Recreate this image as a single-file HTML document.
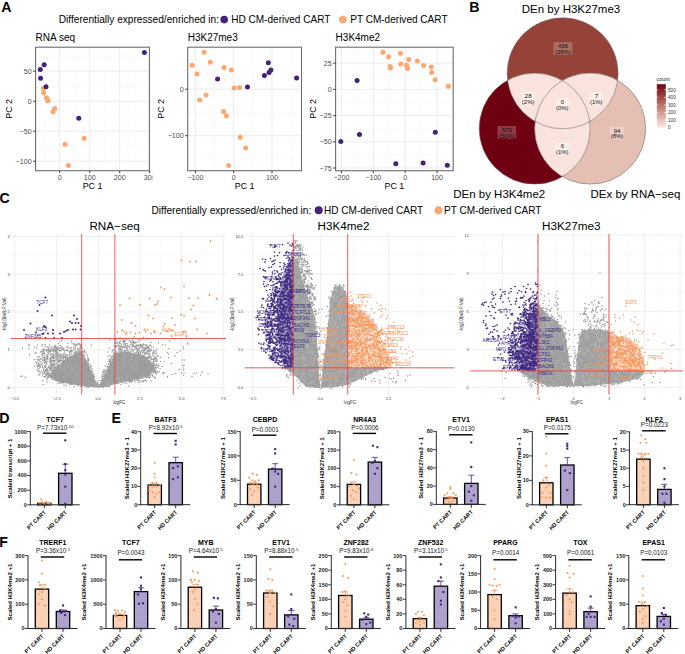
<!DOCTYPE html>
<html><head><meta charset="utf-8"><style>
html,body{margin:0;padding:0;background:#fff;}
svg{display:block;font-family:"Liberation Sans",sans-serif;}
</style></head><body>
<svg width="685" height="654" viewBox="0 0 685 654">
<rect width="685" height="654" fill="#fff"/>
<text x="1.3" y="11.9" font-size="14.2" font-weight="bold">A</text>
<text x="58.8" y="23.1" font-size="10.15">Differentially expressed/enriched in:</text>
<circle cx="224.2" cy="19.6" r="3.8" fill="#42227a"/>
<text x="231.2" y="23.1" font-size="10.05">HD CM-derived CART</text>
<circle cx="342.8" cy="19.6" r="3.8" fill="#fda66e"/>
<text x="350.2" y="23.1" font-size="10.05">PT CM-derived CART</text>
<defs><clipPath id="cA1"><rect x="35.6" y="47.2" width="113.8" height="123.5"/></clipPath></defs>
<g clip-path="url(#cA1)">
<line x1="44.7" y1="47.2" x2="44.7" y2="170.7" stroke="#f4f4f4" stroke-width="0.55"/>
<line x1="74.7" y1="47.2" x2="74.7" y2="170.7" stroke="#f4f4f4" stroke-width="0.55"/>
<line x1="104.7" y1="47.2" x2="104.7" y2="170.7" stroke="#f4f4f4" stroke-width="0.55"/>
<line x1="134.7" y1="47.2" x2="134.7" y2="170.7" stroke="#f4f4f4" stroke-width="0.55"/>
<line x1="35.6" y1="146.2" x2="149.4" y2="146.2" stroke="#f4f4f4" stroke-width="0.55"/>
<line x1="35.6" y1="116.2" x2="149.4" y2="116.2" stroke="#f4f4f4" stroke-width="0.55"/>
<line x1="35.6" y1="86.2" x2="149.4" y2="86.2" stroke="#f4f4f4" stroke-width="0.55"/>
<line x1="35.6" y1="56.2" x2="149.4" y2="56.2" stroke="#f4f4f4" stroke-width="0.55"/>
<line x1="59.7" y1="47.2" x2="59.7" y2="170.7" stroke="#ebebeb" stroke-width="0.9"/>
<line x1="89.7" y1="47.2" x2="89.7" y2="170.7" stroke="#ebebeb" stroke-width="0.9"/>
<line x1="119.7" y1="47.2" x2="119.7" y2="170.7" stroke="#ebebeb" stroke-width="0.9"/>
<line x1="149.7" y1="47.2" x2="149.7" y2="170.7" stroke="#ebebeb" stroke-width="0.9"/>
<line x1="35.6" y1="161.2" x2="149.4" y2="161.2" stroke="#ebebeb" stroke-width="0.9"/>
<line x1="35.6" y1="131.2" x2="149.4" y2="131.2" stroke="#ebebeb" stroke-width="0.9"/>
<line x1="35.6" y1="101.2" x2="149.4" y2="101.2" stroke="#ebebeb" stroke-width="0.9"/>
<line x1="35.6" y1="71.2" x2="149.4" y2="71.2" stroke="#ebebeb" stroke-width="0.9"/>
<circle cx="43.4" cy="88.6" r="2.5" fill="#fda66e"/>
<circle cx="43.7" cy="92.8" r="2.5" fill="#fda66e"/>
<circle cx="46.5" cy="97.7" r="2.5" fill="#fda66e"/>
<circle cx="47.5" cy="100.8" r="2.5" fill="#fda66e"/>
<circle cx="48.1" cy="100.5" r="2.5" fill="#fda66e"/>
<circle cx="54.7" cy="108.6" r="2.5" fill="#fda66e"/>
<circle cx="53" cy="111.8" r="2.5" fill="#fda66e"/>
<circle cx="84.1" cy="138.3" r="2.5" fill="#fda66e"/>
<circle cx="65" cy="144.3" r="2.5" fill="#fda66e"/>
<circle cx="68.4" cy="165.6" r="2.5" fill="#fda66e"/>
<circle cx="144.4" cy="52.4" r="2.5" fill="#42227a"/>
<circle cx="44.2" cy="64.7" r="2.5" fill="#42227a"/>
<circle cx="40.3" cy="69.5" r="2.5" fill="#42227a"/>
<circle cx="40.6" cy="78.3" r="2.5" fill="#42227a"/>
<circle cx="46" cy="86.7" r="2.5" fill="#42227a"/>
<circle cx="78.8" cy="118.3" r="2.5" fill="#42227a"/>
</g>
<rect x="35.6" y="47.2" width="113.8" height="123.5" fill="none" stroke="#6e6e6e" stroke-width="1.1"/>
<line x1="59.7" y1="170.7" x2="59.7" y2="173.3" stroke="#333" stroke-width="0.9"/>
<text x="59.7" y="179.9" font-size="7.1" text-anchor="middle" fill="#4d4d4d">0</text>
<line x1="89.7" y1="170.7" x2="89.7" y2="173.3" stroke="#333" stroke-width="0.9"/>
<text x="89.7" y="179.9" font-size="7.1" text-anchor="middle" fill="#4d4d4d">100</text>
<line x1="119.7" y1="170.7" x2="119.7" y2="173.3" stroke="#333" stroke-width="0.9"/>
<text x="119.7" y="179.9" font-size="7.1" text-anchor="middle" fill="#4d4d4d">200</text>
<line x1="149.7" y1="170.7" x2="149.7" y2="173.3" stroke="#333" stroke-width="0.9"/>
<text x="149.7" y="179.9" font-size="7.1" text-anchor="middle" fill="#4d4d4d">300</text>
<line x1="33" y1="161.2" x2="35.6" y2="161.2" stroke="#333" stroke-width="0.9"/>
<text x="31.6" y="163.7" font-size="7.1" text-anchor="end" fill="#4d4d4d">−100</text>
<line x1="33" y1="131.2" x2="35.6" y2="131.2" stroke="#333" stroke-width="0.9"/>
<text x="31.6" y="133.7" font-size="7.1" text-anchor="end" fill="#4d4d4d">−50</text>
<line x1="33" y1="101.2" x2="35.6" y2="101.2" stroke="#333" stroke-width="0.9"/>
<text x="31.6" y="103.7" font-size="7.1" text-anchor="end" fill="#4d4d4d">0</text>
<line x1="33" y1="71.2" x2="35.6" y2="71.2" stroke="#333" stroke-width="0.9"/>
<text x="31.6" y="73.7" font-size="7.1" text-anchor="end" fill="#4d4d4d">50</text>
<text x="35.6" y="40.6" font-size="10.0">RNA seq</text>
<text x="92.5" y="188.6" font-size="8.9" text-anchor="middle">PC 1</text>
<text transform="translate(8.9,108.9) rotate(-90)" font-size="8.9" text-anchor="middle" dy="3.2">PC 2</text>
<defs><clipPath id="cA2"><rect x="187.7" y="47.2" width="113.8" height="123.5"/></clipPath></defs>
<g clip-path="url(#cA2)">
<line x1="176.2" y1="47.2" x2="176.2" y2="170.7" stroke="#f4f4f4" stroke-width="0.55"/>
<line x1="214.5" y1="47.2" x2="214.5" y2="170.7" stroke="#f4f4f4" stroke-width="0.55"/>
<line x1="252.8" y1="47.2" x2="252.8" y2="170.7" stroke="#f4f4f4" stroke-width="0.55"/>
<line x1="291.1" y1="47.2" x2="291.1" y2="170.7" stroke="#f4f4f4" stroke-width="0.55"/>
<line x1="187.7" y1="158.9" x2="301.5" y2="158.9" stroke="#f4f4f4" stroke-width="0.55"/>
<line x1="187.7" y1="112.5" x2="301.5" y2="112.5" stroke="#f4f4f4" stroke-width="0.55"/>
<line x1="187.7" y1="66" x2="301.5" y2="66" stroke="#f4f4f4" stroke-width="0.55"/>
<line x1="195.4" y1="47.2" x2="195.4" y2="170.7" stroke="#ebebeb" stroke-width="0.9"/>
<line x1="233.7" y1="47.2" x2="233.7" y2="170.7" stroke="#ebebeb" stroke-width="0.9"/>
<line x1="272" y1="47.2" x2="272" y2="170.7" stroke="#ebebeb" stroke-width="0.9"/>
<line x1="187.7" y1="135.7" x2="301.5" y2="135.7" stroke="#ebebeb" stroke-width="0.9"/>
<line x1="187.7" y1="89.2" x2="301.5" y2="89.2" stroke="#ebebeb" stroke-width="0.9"/>
<circle cx="204.1" cy="52.3" r="2.5" fill="#fda66e"/>
<circle cx="192.1" cy="65.3" r="2.5" fill="#fda66e"/>
<circle cx="210.3" cy="62.2" r="2.5" fill="#fda66e"/>
<circle cx="197" cy="73.9" r="2.5" fill="#fda66e"/>
<circle cx="224.1" cy="67.4" r="2.5" fill="#fda66e"/>
<circle cx="231.4" cy="70" r="2.5" fill="#fda66e"/>
<circle cx="234" cy="87.9" r="2.5" fill="#fda66e"/>
<circle cx="239.4" cy="87.4" r="2.5" fill="#fda66e"/>
<circle cx="206.1" cy="94.9" r="2.5" fill="#fda66e"/>
<circle cx="199.6" cy="100.1" r="2.5" fill="#fda66e"/>
<circle cx="223.6" cy="111.6" r="2.5" fill="#fda66e"/>
<circle cx="226.4" cy="115.7" r="2.5" fill="#fda66e"/>
<circle cx="240.2" cy="137.3" r="2.5" fill="#fda66e"/>
<circle cx="245.7" cy="148" r="2.5" fill="#fda66e"/>
<circle cx="228.5" cy="165.4" r="2.5" fill="#fda66e"/>
<circle cx="217.6" cy="79.1" r="2.5" fill="#42227a"/>
<circle cx="247.5" cy="86.9" r="2.5" fill="#42227a"/>
<circle cx="268.3" cy="62.7" r="2.5" fill="#42227a"/>
<circle cx="264.4" cy="75.4" r="2.5" fill="#42227a"/>
<circle cx="269.1" cy="72.6" r="2.5" fill="#42227a"/>
<circle cx="270.9" cy="70" r="2.5" fill="#42227a"/>
<circle cx="296.6" cy="78" r="2.5" fill="#42227a"/>
</g>
<rect x="187.7" y="47.2" width="113.8" height="123.5" fill="none" stroke="#6e6e6e" stroke-width="1.1"/>
<line x1="195.4" y1="170.7" x2="195.4" y2="173.3" stroke="#333" stroke-width="0.9"/>
<text x="195.4" y="179.9" font-size="7.1" text-anchor="middle" fill="#4d4d4d">−100</text>
<line x1="233.7" y1="170.7" x2="233.7" y2="173.3" stroke="#333" stroke-width="0.9"/>
<text x="233.7" y="179.9" font-size="7.1" text-anchor="middle" fill="#4d4d4d">0</text>
<line x1="272" y1="170.7" x2="272" y2="173.3" stroke="#333" stroke-width="0.9"/>
<text x="272" y="179.9" font-size="7.1" text-anchor="middle" fill="#4d4d4d">100</text>
<line x1="185.1" y1="135.7" x2="187.7" y2="135.7" stroke="#333" stroke-width="0.9"/>
<text x="183.7" y="138.2" font-size="7.1" text-anchor="end" fill="#4d4d4d">−100</text>
<line x1="185.1" y1="89.2" x2="187.7" y2="89.2" stroke="#333" stroke-width="0.9"/>
<text x="183.7" y="91.7" font-size="7.1" text-anchor="end" fill="#4d4d4d">0</text>
<text x="187.7" y="40.6" font-size="10.0">H3K27me3</text>
<text x="244.6" y="188.6" font-size="8.9" text-anchor="middle">PC 1</text>
<text transform="translate(161,108.9) rotate(-90)" font-size="8.9" text-anchor="middle" dy="3.2">PC 2</text>
<defs><clipPath id="cA3"><rect x="335.6" y="47.2" width="117.6" height="123.5"/></clipPath></defs>
<g clip-path="url(#cA3)">
<line x1="357.3" y1="47.2" x2="357.3" y2="170.7" stroke="#f4f4f4" stroke-width="0.55"/>
<line x1="389.2" y1="47.2" x2="389.2" y2="170.7" stroke="#f4f4f4" stroke-width="0.55"/>
<line x1="421.1" y1="47.2" x2="421.1" y2="170.7" stroke="#f4f4f4" stroke-width="0.55"/>
<line x1="335.6" y1="154.9" x2="453.2" y2="154.9" stroke="#f4f4f4" stroke-width="0.55"/>
<line x1="335.6" y1="128.7" x2="453.2" y2="128.7" stroke="#f4f4f4" stroke-width="0.55"/>
<line x1="335.6" y1="102.5" x2="453.2" y2="102.5" stroke="#f4f4f4" stroke-width="0.55"/>
<line x1="335.6" y1="76.3" x2="453.2" y2="76.3" stroke="#f4f4f4" stroke-width="0.55"/>
<line x1="335.6" y1="50.1" x2="453.2" y2="50.1" stroke="#f4f4f4" stroke-width="0.55"/>
<line x1="341.4" y1="47.2" x2="341.4" y2="170.7" stroke="#ebebeb" stroke-width="0.9"/>
<line x1="373.3" y1="47.2" x2="373.3" y2="170.7" stroke="#ebebeb" stroke-width="0.9"/>
<line x1="405.2" y1="47.2" x2="405.2" y2="170.7" stroke="#ebebeb" stroke-width="0.9"/>
<line x1="437.1" y1="47.2" x2="437.1" y2="170.7" stroke="#ebebeb" stroke-width="0.9"/>
<line x1="335.6" y1="168" x2="453.2" y2="168" stroke="#ebebeb" stroke-width="0.9"/>
<line x1="335.6" y1="141.8" x2="453.2" y2="141.8" stroke="#ebebeb" stroke-width="0.9"/>
<line x1="335.6" y1="115.6" x2="453.2" y2="115.6" stroke="#ebebeb" stroke-width="0.9"/>
<line x1="335.6" y1="89.4" x2="453.2" y2="89.4" stroke="#ebebeb" stroke-width="0.9"/>
<line x1="335.6" y1="63.2" x2="453.2" y2="63.2" stroke="#ebebeb" stroke-width="0.9"/>
<circle cx="383.1" cy="52.3" r="2.5" fill="#fda66e"/>
<circle cx="388.6" cy="56.7" r="2.5" fill="#fda66e"/>
<circle cx="400.5" cy="53.3" r="2.5" fill="#fda66e"/>
<circle cx="390.1" cy="66.6" r="2.5" fill="#fda66e"/>
<circle cx="390.4" cy="68.1" r="2.5" fill="#fda66e"/>
<circle cx="400.8" cy="64" r="2.5" fill="#fda66e"/>
<circle cx="408.8" cy="59.5" r="2.5" fill="#fda66e"/>
<circle cx="417.4" cy="61.1" r="2.5" fill="#fda66e"/>
<circle cx="406.5" cy="65.3" r="2.5" fill="#fda66e"/>
<circle cx="407.5" cy="68.6" r="2.5" fill="#fda66e"/>
<circle cx="423.6" cy="65.5" r="2.5" fill="#fda66e"/>
<circle cx="431.2" cy="67.1" r="2.5" fill="#fda66e"/>
<circle cx="431.7" cy="72.5" r="2.5" fill="#fda66e"/>
<circle cx="435.1" cy="79.8" r="2.5" fill="#fda66e"/>
<circle cx="448.3" cy="86.3" r="2.5" fill="#fda66e"/>
<circle cx="357.1" cy="80.6" r="2.5" fill="#42227a"/>
<circle cx="359.5" cy="134.4" r="2.5" fill="#42227a"/>
<circle cx="340.8" cy="141.6" r="2.5" fill="#42227a"/>
<circle cx="395.8" cy="163.7" r="2.5" fill="#42227a"/>
<circle cx="423.1" cy="162.9" r="2.5" fill="#42227a"/>
<circle cx="435.3" cy="132.3" r="2.5" fill="#42227a"/>
<circle cx="447.3" cy="165.3" r="2.5" fill="#42227a"/>
</g>
<rect x="335.6" y="47.2" width="117.6" height="123.5" fill="none" stroke="#6e6e6e" stroke-width="1.1"/>
<line x1="341.4" y1="170.7" x2="341.4" y2="173.3" stroke="#333" stroke-width="0.9"/>
<text x="341.4" y="179.9" font-size="7.1" text-anchor="middle" fill="#4d4d4d">−200</text>
<line x1="373.3" y1="170.7" x2="373.3" y2="173.3" stroke="#333" stroke-width="0.9"/>
<text x="373.3" y="179.9" font-size="7.1" text-anchor="middle" fill="#4d4d4d">−100</text>
<line x1="405.2" y1="170.7" x2="405.2" y2="173.3" stroke="#333" stroke-width="0.9"/>
<text x="405.2" y="179.9" font-size="7.1" text-anchor="middle" fill="#4d4d4d">0</text>
<line x1="437.1" y1="170.7" x2="437.1" y2="173.3" stroke="#333" stroke-width="0.9"/>
<text x="437.1" y="179.9" font-size="7.1" text-anchor="middle" fill="#4d4d4d">100</text>
<line x1="333" y1="168" x2="335.6" y2="168" stroke="#333" stroke-width="0.9"/>
<text x="331.6" y="170.5" font-size="7.1" text-anchor="end" fill="#4d4d4d">−75</text>
<line x1="333" y1="141.8" x2="335.6" y2="141.8" stroke="#333" stroke-width="0.9"/>
<text x="331.6" y="144.3" font-size="7.1" text-anchor="end" fill="#4d4d4d">−50</text>
<line x1="333" y1="115.6" x2="335.6" y2="115.6" stroke="#333" stroke-width="0.9"/>
<text x="331.6" y="118.1" font-size="7.1" text-anchor="end" fill="#4d4d4d">−25</text>
<line x1="333" y1="89.4" x2="335.6" y2="89.4" stroke="#333" stroke-width="0.9"/>
<text x="331.6" y="91.9" font-size="7.1" text-anchor="end" fill="#4d4d4d">0</text>
<line x1="333" y1="63.2" x2="335.6" y2="63.2" stroke="#333" stroke-width="0.9"/>
<text x="331.6" y="65.7" font-size="7.1" text-anchor="end" fill="#4d4d4d">25</text>
<text x="335.6" y="40.6" font-size="10.0">H3K4me2</text>
<text x="394.4" y="188.6" font-size="8.9" text-anchor="middle">PC 1</text>
<text transform="translate(312.8,108.9) rotate(-90)" font-size="8.9" text-anchor="middle" dy="3.2">PC 2</text>
<rect x="152.6" y="172" width="8" height="10" fill="#fff"/>
<text x="469.2" y="11.9" font-size="14.2" font-weight="bold">B</text>
<defs><clipPath id="vT"><circle cx="562.6" cy="73.3" r="55.5"/></clipPath><clipPath id="vL"><circle cx="534.7" cy="128.6" r="55.5"/></clipPath><clipPath id="vR"><circle cx="590.2" cy="128.6" r="55.5"/></clipPath><linearGradient id="cbar" x1="0" y1="1" x2="0" y2="0"><stop offset="0" stop-color="#fbe9e3"/><stop offset="0.5" stop-color="#c0776d"/><stop offset="1" stop-color="#6f0011"/></linearGradient></defs>
<circle cx="562.6" cy="73.3" r="55.5" fill="#954339"/>
<circle cx="534.7" cy="128.6" r="55.5" fill="#6f0011"/>
<circle cx="590.2" cy="128.6" r="55.5" fill="#e6bfb4"/>
<g clip-path="url(#vT)"><circle cx="534.7" cy="128.6" r="55.5" fill="#f9e3dc"/><circle cx="590.2" cy="128.6" r="55.5" fill="#f9e3dc"/></g>
<g clip-path="url(#vL)"><circle cx="590.2" cy="128.6" r="55.5" fill="#f9e3dc"/></g>
<circle cx="562.6" cy="73.3" r="55.5" fill="none" stroke="#6a6a6a" stroke-width="0.55"/>
<circle cx="534.7" cy="128.6" r="55.5" fill="none" stroke="#6a6a6a" stroke-width="0.55"/>
<circle cx="590.2" cy="128.6" r="55.5" fill="none" stroke="#6a6a6a" stroke-width="0.55"/>
<rect x="553.5" y="42.2" width="19" height="12.6" fill="#fff" fill-opacity="0.22"/>
<text x="563" y="48" font-size="6.0" text-anchor="middle" fill="#111">436</text>
<text x="563" y="53.8" font-size="6.0" text-anchor="middle" fill="#111">(38%)</text>
<rect x="497.5" y="125.9" width="18.7" height="12.6" fill="#fff" fill-opacity="0.22"/>
<text x="506.9" y="131.7" font-size="6.0" text-anchor="middle" fill="#111">573</text>
<text x="506.9" y="137.5" font-size="6.0" text-anchor="middle" fill="#111">(50%)</text>
<rect x="610" y="126.7" width="14" height="12.6" fill="#fff" fill-opacity="0.25"/>
<text x="617" y="132.5" font-size="6.0" text-anchor="middle" fill="#111">94</text>
<text x="617" y="138.3" font-size="6.0" text-anchor="middle" fill="#111">(8%)</text>
<rect x="521.2" y="92.1" width="14" height="12.6" fill="#fff" fill-opacity="0.35"/>
<text x="528.2" y="97.9" font-size="6.0" text-anchor="middle" fill="#111">28</text>
<text x="528.2" y="103.7" font-size="6.0" text-anchor="middle" fill="#111">(2%)</text>
<rect x="589.3" y="92.1" width="14" height="12.6" fill="#fff" fill-opacity="0.35"/>
<text x="596.3" y="97.9" font-size="6.0" text-anchor="middle" fill="#111">7</text>
<text x="596.3" y="103.7" font-size="6.0" text-anchor="middle" fill="#111">(1%)</text>
<rect x="555.3" y="98.2" width="14" height="12.6" fill="#fff" fill-opacity="0.35"/>
<text x="562.3" y="104" font-size="6.0" text-anchor="middle" fill="#111">0</text>
<text x="562.3" y="109.8" font-size="6.0" text-anchor="middle" fill="#111">(0%)</text>
<rect x="555.3" y="142.4" width="14" height="12.6" fill="#fff" fill-opacity="0.35"/>
<text x="562.3" y="148.2" font-size="6.0" text-anchor="middle" fill="#111">6</text>
<text x="562.3" y="154" font-size="6.0" text-anchor="middle" fill="#111">(1%)</text>
<text x="571" y="13.2" font-size="11.5" text-anchor="middle">DEn by H3K27me3</text>
<text x="499.2" y="198" font-size="11.5" text-anchor="middle">DEn by H3K4me2</text>
<text x="635.4" y="198" font-size="11.5" text-anchor="middle">DEx by RNA−seq</text>
<rect x="656.8" y="84.2" width="9" height="43.4" fill="url(#cbar)"/>
<text x="656.6" y="81.2" font-size="5.4" fill="#1a1a1a">count</text>
<line x1="656.8" y1="127.6" x2="658.6" y2="127.6" stroke="#fff" stroke-width="0.6"/>
<line x1="664" y1="127.6" x2="665.8" y2="127.6" stroke="#fff" stroke-width="0.6"/>
<text x="668" y="129.3" font-size="4.7" fill="#333">0</text>
<line x1="656.8" y1="120" x2="658.6" y2="120" stroke="#fff" stroke-width="0.6"/>
<line x1="664" y1="120" x2="665.8" y2="120" stroke="#fff" stroke-width="0.6"/>
<text x="668" y="121.7" font-size="4.7" fill="#333">100</text>
<line x1="656.8" y1="112.5" x2="658.6" y2="112.5" stroke="#fff" stroke-width="0.6"/>
<line x1="664" y1="112.5" x2="665.8" y2="112.5" stroke="#fff" stroke-width="0.6"/>
<text x="668" y="114.2" font-size="4.7" fill="#333">200</text>
<line x1="656.8" y1="104.9" x2="658.6" y2="104.9" stroke="#fff" stroke-width="0.6"/>
<line x1="664" y1="104.9" x2="665.8" y2="104.9" stroke="#fff" stroke-width="0.6"/>
<text x="668" y="106.6" font-size="4.7" fill="#333">300</text>
<line x1="656.8" y1="97.3" x2="658.6" y2="97.3" stroke="#fff" stroke-width="0.6"/>
<line x1="664" y1="97.3" x2="665.8" y2="97.3" stroke="#fff" stroke-width="0.6"/>
<text x="668" y="99" font-size="4.7" fill="#333">400</text>
<line x1="656.8" y1="89.8" x2="658.6" y2="89.8" stroke="#fff" stroke-width="0.6"/>
<line x1="664" y1="89.8" x2="665.8" y2="89.8" stroke="#fff" stroke-width="0.6"/>
<text x="668" y="91.5" font-size="4.7" fill="#333">500</text>
<text x="-0.6" y="203.3" font-size="14.2" font-weight="bold">C</text>
<text x="151.5" y="213.8" font-size="10.1">Differentially expressed/enriched in:</text>
<circle cx="318.7" cy="210.2" r="4" fill="#42227a"/>
<text x="324" y="213.8" font-size="10.05">HD CM-derived CART</text>
<circle cx="438.5" cy="210.2" r="4" fill="#fda66e"/>
<text x="444.1" y="213.8" font-size="10.05">PT CM-derived CART</text>
<defs><clipPath id="cv1"><rect x="10.9" y="234" width="215.1" height="160.8"/></clipPath></defs>
<defs><clipPath id="cv1p"><rect x="0" y="0" width="81.7" height="338.5"/></clipPath><clipPath id="cv1o"><rect x="114.9" y="0" width="700" height="338.5"/></clipPath></defs>
<g clip-path="url(#cv1)">
<line x1="35.9" y1="234" x2="35.9" y2="394.8" stroke="#f5f5f5" stroke-width="0.5"/>
<line x1="77.5" y1="234" x2="77.5" y2="394.8" stroke="#f5f5f5" stroke-width="0.5"/>
<line x1="119.1" y1="234" x2="119.1" y2="394.8" stroke="#f5f5f5" stroke-width="0.5"/>
<line x1="160.7" y1="234" x2="160.7" y2="394.8" stroke="#f5f5f5" stroke-width="0.5"/>
<line x1="202.4" y1="234" x2="202.4" y2="394.8" stroke="#f5f5f5" stroke-width="0.5"/>
<line x1="10.9" y1="368.7" x2="226" y2="368.7" stroke="#f5f5f5" stroke-width="0.5"/>
<line x1="10.9" y1="330.9" x2="226" y2="330.9" stroke="#f5f5f5" stroke-width="0.5"/>
<line x1="10.9" y1="293.1" x2="226" y2="293.1" stroke="#f5f5f5" stroke-width="0.5"/>
<line x1="10.9" y1="255.3" x2="226" y2="255.3" stroke="#f5f5f5" stroke-width="0.5"/>
<line x1="15" y1="234" x2="15" y2="394.8" stroke="#ebebeb" stroke-width="0.8"/>
<line x1="56.7" y1="234" x2="56.7" y2="394.8" stroke="#ebebeb" stroke-width="0.8"/>
<line x1="98.3" y1="234" x2="98.3" y2="394.8" stroke="#ebebeb" stroke-width="0.8"/>
<line x1="139.9" y1="234" x2="139.9" y2="394.8" stroke="#ebebeb" stroke-width="0.8"/>
<line x1="181.6" y1="234" x2="181.6" y2="394.8" stroke="#ebebeb" stroke-width="0.8"/>
<line x1="223.2" y1="234" x2="223.2" y2="394.8" stroke="#ebebeb" stroke-width="0.8"/>
<line x1="10.9" y1="387.6" x2="226" y2="387.6" stroke="#ebebeb" stroke-width="0.8"/>
<line x1="10.9" y1="349.8" x2="226" y2="349.8" stroke="#ebebeb" stroke-width="0.8"/>
<line x1="10.9" y1="312" x2="226" y2="312" stroke="#ebebeb" stroke-width="0.8"/>
<line x1="10.9" y1="274.2" x2="226" y2="274.2" stroke="#ebebeb" stroke-width="0.8"/>
<line x1="10.9" y1="236.4" x2="226" y2="236.4" stroke="#ebebeb" stroke-width="0.8"/>
<path d="M98.3 387.6L90 368L81.6 351L67.4 357.4L56.2 367L48.2 376.7L61 382.3L80.3 385.5Z" fill="#9c9c9c" fill-opacity="0.85"/>
<path d="M98.3 387.6L90 368L81.6 351L67.4 357.4L56.2 367L48.2 376.7L61 382.3L80.3 385.5Z" fill="#fff" clip-path="url(#cv1p)"/><path d="M98.3 387.6L90 368L81.6 351L67.4 357.4L56.2 367L48.2 376.7L61 382.3L80.3 385.5Z" fill="#3f2a80" fill-opacity="0.35" clip-path="url(#cv1p)"/>
<path d="M98.3 387.6L90 368L81.6 351L67.4 357.4L56.2 367L48.2 376.7L61 382.3L80.3 385.5Z" fill="#fff" clip-path="url(#cv1o)"/><path d="M98.3 387.6L90 368L81.6 351L67.4 357.4L56.2 367L48.2 376.7L61 382.3L80.3 385.5Z" fill="#f59b62" fill-opacity="0.45" clip-path="url(#cv1o)"/>
<path d="M98.3 387.6L108 368L115.2 352.6L128.5 352.6L141.7 354.5L151.2 362.1L155 369.7L145.5 377.3L115.2 383.9L104 387Z" fill="#9c9c9c" fill-opacity="0.85"/>
<path d="M98.3 387.6L108 368L115.2 352.6L128.5 352.6L141.7 354.5L151.2 362.1L155 369.7L145.5 377.3L115.2 383.9L104 387Z" fill="#fff" clip-path="url(#cv1p)"/><path d="M98.3 387.6L108 368L115.2 352.6L128.5 352.6L141.7 354.5L151.2 362.1L155 369.7L145.5 377.3L115.2 383.9L104 387Z" fill="#3f2a80" fill-opacity="0.35" clip-path="url(#cv1p)"/>
<path d="M98.3 387.6L108 368L115.2 352.6L128.5 352.6L141.7 354.5L151.2 362.1L155 369.7L145.5 377.3L115.2 383.9L104 387Z" fill="#fff" clip-path="url(#cv1o)"/><path d="M98.3 387.6L108 368L115.2 352.6L128.5 352.6L141.7 354.5L151.2 362.1L155 369.7L145.5 377.3L115.2 383.9L104 387Z" fill="#f59b62" fill-opacity="0.45" clip-path="url(#cv1o)"/>
<path transform="scale(0.5)" d="M233 677h0m-4 2h0m18 0h0m31 0h0m-58 1h0m12 0h0m10 0h0m11 0h0m29 0h0m-159 1h0m125 0h0m1 0h0m9 0h0m7 0h0m-143 1h0m21 0h0m104 0h0m3 0h0m89 0h0m-99 1h0m9 0h0m12 0h0m17 0h0m-48 1h0m16 0h0m20 0h0m1 0h0m1 0h0m-39 1h0m5 0h0m2 0h0m10 0h0m15 0h0m3 0h0m6 0h0m1 0h0m3 0h0m28 0h0m-158 1h0m95 0h0m9 0h0m2 0h0m17 0h0m2 0h0m1 0h0m47 0h0m58 0h0m-258 1h0m19 0h0m12 0h0m10 0h0m72 0h0m3 0h0m6 0h0m2 0h0m13 0h0m-99 1h0m5 0h0m92 0h0m12 0h0m23 0h0m89 0h0m-286 1h0m58 0h0m2 0h0m8 0h0m1 0h0m101 0h0m5 0h0m17 0h0m5 0h0m38 0h0m-268 1h0m2 0h0m16 0h0m9 0h0m15 0h0m54 0h0m1 0h0m8 0h0m21 0h0m54 0h0m6 0h0m5 0h0m3 0h0m14 0h0m9 0h0m3 0h0m3 0h0m1 0h0m3 0h0m4 0h0m3 0h0m1 0h0m1 0h0m8 0h0m30 0h0m-220 1h0m10 0h0m42 0h0m70 0h0m4 0h0m18 0h0m12 0h0m9 0h0m3 0h0m1 0h0m19 0h0m1 0h0m-215 1h0m24 0h0m2 0h0m40 0h0m10 0h0m67 0h0m1 0h0m4 0h0m3 0h0m14 0h0m5 0h0m9 0h0m2 0h0m4 0h0m3 0h0m10 0h0m2 0h0m10 0h0m-204 1h0m70 0h0m68 0h0m3 0h0m1 0h0m6 0h0m1 0h0m1 0h0m2 0h0m3 0h0m10 0h0m2 0h0m7 0h0m1 0h0m1 0h0m7 0h0m7 0h0m2 0h0m-214 1h0m26 0h0m2 0h0m5 0h0m2 0h0m5 0h0m9 0h0m5 0h0m10 0h0m4 0h0m12 0h0m97 0h0m6 0h0m8 0h0m12 0h0m9 0h0m1 0h0m4 0h0m7 0h0m2 0h0m2 0h0m6 0h0m64 0h0m-256 1h0m2 0h0m23 0h0m6 0h0m98 0h0m5 0h0m4 0h0m5 0h0m16 0h0m20 0h0m17 0h0m-262 1h0m28 0h0m36 0h0m6 0h0m1 0h0m5 0h0m4 0h0m22 0h0m13 0h0m2 0h0m2 0h0m54 0h0m13 0h0m21 0h0m1 0h0m17 0h0m8 0h0m1 0h0m8 0h0m2 0h0m5 0h0m3 0h0m-239 1h0m40 0h0m5 0h0m4 0h0m20 0h0m15 0h0m9 0h0m5 0h0m4 0h0m1 0h0m76 0h0m1 0h0m2 0h0m1 0h0m12 0h0m1 0h0m9 0h0m10 0h0m12 0h0m6 0h0m6 0h0m1 0h0m1 0h0m39 0h0m-250 1h0m20 0h0m4 0h0m5 0h0m1 0h0m8 0h0m2 0h0m13 0h0m14 0h0m89 0h0m15 0h0m16 0h0m1 0h0m15 0h0m2 0h0m5 0h0m69 0h0m-281 1h0m2 0h0m7 0h0m2 0h0m2 0h0m12 0h0m3 0h0m9 0h0m12 0h0m15 0h0m8 0h0m69 0h0m13 0h0m2 0h0m24 0h0m4 0h0m4 0h0m1 0h0m15 0h0m8 0h0m1 0h0m4 0h0m10 0h0m-222 1h0m2 0h0m8 0h0m4 0h0m1 0h0m2 0h0m6 0h0m1 0h0m12 0h0m8 0h0m34 0h0m86 0h0m22 0h0m11 0h0m-201 1h0m6 0h0m7 0h0m2 0h0m3 0h0m7 0h0m2 0h0m1 0h0m4 0h0m3 0h0m8 0h0m3 0h0m2 0h0m6 0h0m3 0h0m4 0h0m13 0h0m64 0h0m19 0h0m4 0h0m5 0h0m10 0h0m16 0h0m4 0h0m1 0h0m3 0h0m3 0h0m6 0h0m1 0h0m3 0h0m2 0h0m5 0h0m-223 1h0m10 0h0m3 0h0m4 0h0m1 0h0m5 0h0m3 0h0m1 0h0m4 0h0m5 0h0m23 0h0m13 0h0m4 0h0m71 0h0m6 0h0m3 0h0m4 0h0m4 0h0m1 0h0m1 0h0m12 0h0m5 0h0m8 0h0m13 0h0m7 0h0m15 0h0m50 0h0m-278 1h0m18 0h0m2 0h0m8 0h0m28 0h0m3 0h0m3 0h0m9 0h0m5 0h0m7 0h0m3 0h0m72 0h0m3 0h0m14 0h0m17 0h0m1 0h0m4 0h0m15 0h0m3 0h0m3 0h0m-214 1h0m3 0h0m10 0h0m9 0h0m4 0h0m17 0h0m10 0h0m4 0h0m8 0h0m13 0h0m6 0h0m46 0h0m8 0h0m8 0h0m20 0h0m4 0h0m10 0h0m14 0h0m4 0h0m3 0h0m20 0h0m6 0h0m-241 1h0m10 0h0m14 0h0m18 0h0m34 0h0m6 0h0m5 0h0m3 0h0m2 0h0m4 0h0m72 0h0m2 0h0m1 0h0m5 0h0m1 0h0m4 0h0m1 0h0m5 0h0m1 0h0m1 0h0m11 0h0m4 0h0m1 0h0m4 0h0m8 0h0m3 0h0m14 0h0m29 0h0m19 0h0m-265 1h0m23 0h0m1 0h0m3 0h0m23 0h0m10 0h0m8 0h0m3 0h0m69 0h0m9 0h0m1 0h0m2 0h0m1 0h0m2 0h0m6 0h0m7 0h0m20 0h0m12 0h0m7 0h0m12 0h0m-238 1h0m15 0h0m2 0h0m15 0h0m11 0h0m1 0h0m38 0h0m1 0h0m1 0h0m1 0h0m75 0h0m5 0h0m5 0h0m2 0h0m5 0h0m1 0h0m5 0h0m17 0h0m15 0h0m7 0h0m3 0h0m4 0h0m13 0h0m-215 1h0m4 0h0m6 0h0m4 0h0m9 0h0m1 0h0m5 0h0m5 0h0m11 0h0m16 0h0m1 0h0m1 0h0m6 0h0m6 0h0m55 0h0m2 0h0m1 0h0m13 0h0m11 0h0m14 0h0m1 0h0m6 0h0m3 0h0m19 0h0m1 0h0m1 0h0m7 0h0m6 0h0m25 0h0m-278 1h0m25 0h0m5 0h0m6 0h0m10 0h0m11 0h0m6 0h0m6 0h0m3 0h0m5 0h0m6 0h0m8 0h0m4 0h0m1 0h0m74 0h0m1 0h0m3 0h0m1 0h0m1 0h0m6 0h0m2 0h0m3 0h0m12 0h0m3 0h0m12 0h0m17 0h0m2 0h0m14 0h0m-211 1h0m11 0h0m2 0h0m6 0h0m8 0h0m9 0h0m16 0h0m2 0h0m8 0h0m6 0h0m67 0h0m1 0h0m5 0h0m1 0h0m7 0h0m3 0h0m6 0h0m3 0h0m1 0h0m6 0h0m11 0h0m1 0h0m1 0h0m3 0h0m1 0h0m1 0h0m24 0h0m-203 1h0m11 0h0m4 0h0m2 0h0m15 0h0m5 0h0m12 0h0m5 0h0m8 0h0m3 0h0m8 0h0m45 0h0m11 0h0m2 0h0m4 0h0m2 0h0m1 0h0m2 0h0m4 0h0m1 0h0m1 0h0m5 0h0m1 0h0m7 0h0m6 0h0m7 0h0m2 0h0m11 0h0m28 0h0m-230 1h0m7 0h0m19 0h0m1 0h0m1 0h0m10 0h0m3 0h0m1 0h0m13 0h0m23 0h0m6 0h0m55 0h0m2 0h0m6 0h0m1 0h0m6 0h0m1 0h0m4 0h0m1 0h0m1 0h0m2 0h0m1 0h0m6 0h0m1 0h0m5 0h0m6 0h0m1 0h0m3 0h0m2 0h0m1 0h0m5 0h0m1 0h0m3 0h0m15 0h0m2 0h0m16 0h0m34 0h0m-272 1h0m7 0h0m10 0h0m9 0h0m1 0h0m2 0h0m7 0h0m1 0h0m5 0h0m9 0h0m4 0h0m8 0h0m3 0h0m6 0h0m3 0h0m1 0h0m12 0h0m50 0h0m9 0h0m1 0h0m6 0h0m2 0h0m3 0h0m3 0h0m3 0h0m10 0h0m1 0h0m4 0h0m1 0h0m2 0h0m6 0h0m3 0h0m3 0h0m2 0h0m4 0h0m1 0h0m3 0h0m1 0h0m4 0h0m1 0h0m8 0h0m3 0h0m8 0h0m8 0h0m-241 1h0m14 0h0m5 0h0m2 0h0m15 0h0m10 0h0m3 0h0m6 0h0m1 0h0m9 0h0m7 0h0m2 0h0m2 0h0m1 0h0m2 0h0m5 0h0m73 0h0m4 0h0m1 0h0m4 0h0m14 0h0m5 0h0m16 0h0m1 0h0m2 0h0m3 0h0m5 0h0m15 0h0m8 0h0m-223 1h0m7 0h0m10 0h0m3 0h0m7 0h0m13 0h0m2 0h0m6 0h0m6 0h0m1 0h0m14 0h0m67 0h0m10 0h0m6 0h0m3 0h0m1 0h0m3 0h0m8 0h0m1 0h0m1 0h0m5 0h0m5 0h0m3 0h0m6 0h0m1 0h0m2 0h0m2 0h0m10 0h0m2 0h0m1 0h0m1 0h0m1 0h0m1 0h0m1 0h0m2 0h0m12 0h0m10 0h0m16 0h0m-257 1h0m15 0h0m6 0h0m1 0h0m7 0h0m6 0h0m2 0h0m3 0h0m1 0h0m4 0h0m6 0h0m3 0h0m6 0h0m1 0h0m4 0h0m1 0h0m1 0h0m2 0h0m2 0h0m2 0h0m4 0h0m6 0h0m2 0h0m10 0h0m56 0h0m2 0h0m11 0h0m2 0h0m6 0h0m4 0h0m5 0h0m15 0h0m4 0h0m2 0h0m1 0h0m3 0h0m3 0h0m1 0h0m6 0h0m3 0h0m13 0h0m-223 1h0m1 0h0m3 0h0m7 0h0m6 0h0m2 0h0m7 0h0m6 0h0m13 0h0m17 0h0m6 0h0m3 0h0m17 0h0m60 0h0m3 0h0m4 0h0m2 0h0m2 0h0m6 0h0m4 0h0m1 0h0m3 0h0m4 0h0m2 0h0m1 0h0m9 0h0m2 0h0m4 0h0m2 0h0m5 0h0m3 0h0m8 0h0m6 0h0m2 0h0m3 0h0m-233 1h0m1 0h0m3 0h0m7 0h0m4 0h0m6 0h0m1 0h0m12 0h0m4 0h0m8 0h0m8 0h0m5 0h0m5 0h0m3 0h0m1 0h0m1 0h0m3 0h0m1 0h0m8 0h0m1 0h0m8 0h0m48 0h0m4 0h0m5 0h0m3 0h0m5 0h0m1 0h0m16 0h0m1 0h0m1 0h0m2 0h0m13 0h0m3 0h0m2 0h0m3 0h0m4 0h0m10 0h0m3 0h0m10 0h0m4 0h0m-240 1h0m6 0h0m3 0h0m9 0h0m5 0h0m4 0h0m5 0h0m22 0h0m9 0h0m7 0h0m6 0h0m1 0h0m7 0h0m3 0h0m3 0h0m2 0h0m1 0h0m1 0h0m2 0h0m1 0h0m2 0h0m2 0h0m2 0h0m5 0h0m49 0h0m5 0h0m2 0h0m7 0h0m8 0h0m1 0h0m12 0h0m7 0h0m3 0h0m5 0h0m8 0h0m1 0h0m9 0h0m9 0h0m3 0h0m3 0h0m-221 1h0m3 0h0m9 0h0m12 0h0m1 0h0m3 0h0m12 0h0m12 0h0m5 0h0m2 0h0m7 0h0m2 0h0m4 0h0m1 0h0m3 0h0m2 0h0m1 0h0m12 0h0m42 0h0m8 0h0m9 0h0m6 0h0m5 0h0m3 0h0m2 0h0m2 0h0m1 0h0m12 0h0m12 0h0m3 0h0m1 0h0m3 0h0m2 0h0m1 0h0m2 0h0m5 0h0m5 0h0m9 0h0m3 0h0m51 0h0m4 0h0m-291 1h0m8 0h0m3 0h0m13 0h0m4 0h0m1 0h0m3 0h0m5 0h0m2 0h0m3 0h0m1 0h0m2 0h0m9 0h0m3 0h0m3 0h0m6 0h0m2 0h0m6 0h0m2 0h0m9 0h0m2 0h0m4 0h0m2 0h0m58 0h0m2 0h0m2 0h0m6 0h0m2 0h0m7 0h0m5 0h0m3 0h0m1 0h0m3 0h0m7 0h0m10 0h0m2 0h0m1 0h0m2 0h0m2 0h0m1 0h0m11 0h0m2 0h0m-212 1h0m6 0h0m10 0h0m2 0h0m5 0h0m8 0h0m2 0h0m8 0h0m1 0h0m1 0h0m5 0h0m1 0h0m2 0h0m3 0h0m11 0h0m1 0h0m3 0h0m5 0h0m3 0h0m4 0h0m3 0h0m3 0h0m4 0h0m41 0h0m3 0h0m13 0h0m2 0h0m4 0h0m8 0h0m6 0h0m11 0h0m2 0h0m1 0h0m6 0h0m1 0h0m2 0h0m1 0h0m2 0h0m9 0h0m2 0h0m6 0h0m10 0h0m6 0h0m-232 1h0m13 0h0m5 0h0m3 0h0m2 0h0m3 0h0m1 0h0m8 0h0m2 0h0m2 0h0m5 0h0m6 0h0m4 0h0m5 0h0m7 0h0m5 0h0m2 0h0m2 0h0m2 0h0m8 0h0m1 0h0m7 0h0m1 0h0m45 0h0m10 0h0m5 0h0m5 0h0m3 0h0m6 0h0m2 0h0m2 0h0m2 0h0m6 0h0m1 0h0m1 0h0m10 0h0m1 0h0m3 0h0m5 0h0m2 0h0m2 0h0m1 0h0m12 0h0m9 0h0m4 0h0m9 0h0m7 0h0m-253 1h0m5 0h0m10 0h0m10 0h0m17 0h0m1 0h0m2 0h0m6 0h0m1 0h0m3 0h0m1 0h0m5 0h0m6 0h0m5 0h0m3 0h0m4 0h0m2 0h0m1 0h0m1 0h0m14 0h0m49 0h0m4 0h0m4 0h0m7 0h0m9 0h0m8 0h0m11 0h0m1 0h0m7 0h0m5 0h0m1 0h0m1 0h0m1 0h0m3 0h0m2 0h0m1 0h0m4 0h0m1 0h0m8 0h0m2 0h0m6 0h0m-234 1h0m20 0h0m15 0h0m17 0h0m13 0h0m7 0h0m3 0h0m4 0h0m6 0h0m7 0h0m1 0h0m1 0h0m4 0h0m1 0h0m1 0h0m47 0h0m5 0h0m6 0h0m6 0h0m4 0h0m20 0h0m1 0h0m2 0h0m3 0h0m9 0h0m5 0h0m1 0h0m1 0h0m6 0h0m8 0h0m9 0h0m-233 1h0m16 0h0m11 0h0m12 0h0m2 0h0m13 0h0m3 0h0m2 0h0m1 0h0m9 0h0m1 0h0m3 0h0m15 0h0m4 0h0m3 0h0m8 0h0m45 0h0m2 0h0m5 0h0m1 0h0m11 0h0m15 0h0m9 0h0m4 0h0m13 0h0m8 0h0m5 0h0m1 0h0m4 0h0m-222 1h0m8 0h0m7 0h0m10 0h0m2 0h0m4 0h0m17 0h0m5 0h0m5 0h0m4 0h0m1 0h0m2 0h0m2 0h0m4 0h0m2 0h0m3 0h0m4 0h0m3 0h0m3 0h0m1 0h0m10 0h0m44 0h0m7 0h0m9 0h0m4 0h0m1 0h0m2 0h0m3 0h0m2 0h0m7 0h0m1 0h0m6 0h0m1 0h0m9 0h0m8 0h0m2 0h0m1 0h0m1 0h0m2 0h0m2 0h0m2 0h0m1 0h0m3 0h0m7 0h0m4 0h0m5 0h0m35 0h0m-261 1h0m11 0h0m9 0h0m25 0h0m2 0h0m8 0h0m2 0h0m1 0h0m2 0h0m7 0h0m3 0h0m1 0h0m2 0h0m3 0h0m4 0h0m6 0h0m2 0h0m2 0h0m6 0h0m52 0h0m8 0h0m3 0h0m16 0h0m6 0h0m2 0h0m2 0h0m4 0h0m2 0h0m7 0h0m1 0h0m5 0h0m1 0h0m2 0h0m2 0h0m3 0h0m3 0h0m8 0h0m2 0h0m6 0h0m-234 1h0m23 0h0m3 0h0m4 0h0m1 0h0m6 0h0m1 0h0m9 0h0m1 0h0m5 0h0m9 0h0m1 0h0m5 0h0m4 0h0m3 0h0m11 0h0m9 0h0m4 0h0m39 0h0m1 0h0m6 0h0m2 0h0m1 0h0m4 0h0m7 0h0m9 0h0m3 0h0m1 0h0m1 0h0m1 0h0m2 0h0m3 0h0m3 0h0m1 0h0m4 0h0m3 0h0m7 0h0m1 0h0m5 0h0m3 0h0m1 0h0m5 0h0m1 0h0m2 0h0m2 0h0m1 0h0m2 0h0m1 0h0m4 0h0m2 0h0m-232 1h0m4 0h0m5 0h0m20 0h0m1 0h0m2 0h0m1 0h0m7 0h0m24 0h0m1 0h0m6 0h0m2 0h0m1 0h0m1 0h0m2 0h0m16 0h0m2 0h0m53 0h0m4 0h0m2 0h0m4 0h0m1 0h0m3 0h0m2 0h0m1 0h0m1 0h0m5 0h0m1 0h0m6 0h0m1 0h0m4 0h0m1 0h0m1 0h0m1 0h0m17 0h0m1 0h0m2 0h0m2 0h0m2 0h0m10 0h0m2 0h0m14 0h0m3 0h0m4 0h0m51 0h0m-279 1h0m2 0h0m12 0h0m6 0h0m7 0h0m4 0h0m1 0h0m4 0h0m21 0h0m11 0h0m4 0h0m9 0h0m1 0h0m1 0h0m1 0h0m1 0h0m1 0h0m2 0h0m34 0h0m11 0h0m8 0h0m4 0h0m1 0h0m7 0h0m2 0h0m1 0h0m5 0h0m4 0h0m2 0h0m1 0h0m1 0h0m8 0h0m4 0h0m2 0h0m5 0h0m2 0h0m5 0h0m4 0h0m1 0h0m1 0h0m2 0h0m1 0h0m3 0h0m6 0h0m3 0h0m2 0h0m7 0h0m4 0h0m48 0h0m-290 1h0m2 0h0m2 0h0m11 0h0m6 0h0m4 0h0m7 0h0m1 0h0m7 0h0m5 0h0m6 0h0m1 0h0m2 0h0m3 0h0m1 0h0m2 0h0m5 0h0m5 0h0m2 0h0m4 0h0m7 0h0m7 0h0m6 0h0m4 0h0m5 0h0m40 0h0m1 0h0m4 0h0m3 0h0m2 0h0m3 0h0m3 0h0m2 0h0m3 0h0m4 0h0m4 0h0m1 0h0m1 0h0m6 0h0m3 0h0m2 0h0m11 0h0m1 0h0m10 0h0m1 0h0m6 0h0m1 0h0m1 0h0m9 0h0m3 0h0m1 0h0m2 0h0m-240 1h0m6 0h0m4 0h0m1 0h0m5 0h0m18 0h0m6 0h0m19 0h0m2 0h0m8 0h0m3 0h0m4 0h0m11 0h0m8 0h0m1 0h0m2 0h0m4 0h0m1 0h0m3 0h0m8 0h0m31 0h0m5 0h0m11 0h0m1 0h0m2 0h0m6 0h0m2 0h0m4 0h0m11 0h0m4 0h0m7 0h0m1 0h0m10 0h0m3 0h0m3 0h0m18 0h0m2 0h0m1 0h0m3 0h0m16 0h0m-249 1h0m5 0h0m1 0h0m4 0h0m5 0h0m7 0h0m8 0h0m7 0h0m2 0h0m10 0h0m1 0h0m2 0h0m1 0h0m12 0h0m16 0h0m2 0h0m1 0h0m1 0h0m1 0h0m14 0h0m41 0h0m3 0h0m4 0h0m5 0h0m2 0h0m13 0h0m9 0h0m6 0h0m2 0h0m2 0h0m13 0h0m1 0h0m2 0h0m3 0h0m1 0h0m10 0h0m4 0h0m4 0h0m3 0h0m1 0h0m1 0h0m11 0h0m-230 1h0m5 0h0m8 0h0m1 0h0m2 0h0m4 0h0m1 0h0m4 0h0m3 0h0m12 0h0m1 0h0m1 0h0m2 0h0m9 0h0m6 0h0m4 0h0m7 0h0m1 0h0m1 0h0m1 0h0m4 0h0m3 0h0m5 0h0m5 0h0m2 0h0m1 0h0m1 0h0m36 0h0m2 0h0m3 0h0m3 0h0m3 0h0m5 0h0m4 0h0m1 0h0m16 0h0m2 0h0m11 0h0m4 0h0m6 0h0m4 0h0m1 0h0m4 0h0m1 0h0m2 0h0m3 0h0m5 0h0m1 0h0m2 0h0m4 0h0m2 0h0m5 0h0m1 0h0m2 0h0m-220 1h0m6 0h0m1 0h0m10 0h0m2 0h0m2 0h0m3 0h0m1 0h0m5 0h0m10 0h0m9 0h0m4 0h0m4 0h0m4 0h0m3 0h0m18 0h0m1 0h0m1 0h0m1 0h0m41 0h0m13 0h0m9 0h0m7 0h0m2 0h0m2 0h0m3 0h0m6 0h0m14 0h0m2 0h0m1 0h0m6 0h0m2 0h0m2 0h0m2 0h0m3 0h0m5 0h0m3 0h0m1 0h0m10 0h0m55 0h0m-289 1h0m21 0h0m2 0h0m2 0h0m3 0h0m5 0h0m2 0h0m2 0h0m1 0h0m6 0h0m6 0h0m5 0h0m2 0h0m3 0h0m1 0h0m2 0h0m6 0h0m5 0h0m1 0h0m15 0h0m1 0h0m4 0h0m11 0h0m36 0h0m11 0h0m6 0h0m1 0h0m1 0h0m3 0h0m5 0h0m5 0h0m3 0h0m1 0h0m1 0h0m2 0h0m3 0h0m12 0h0m8 0h0m13 0h0m2 0h0m4 0h0m1 0h0m1 0h0m17 0h0m-233 1h0m6 0h0m1 0h0m1 0h0m7 0h0m4 0h0m5 0h0m9 0h0m8 0h0m8 0h0m6 0h0m5 0h0m2 0h0m6 0h0m1 0h0m6 0h0m1 0h0m2 0h0m3 0h0m3 0h0m4 0h0m2 0h0m1 0h0m1 0h0m47 0h0m1 0h0m2 0h0m8 0h0m1 0h0m1 0h0m3 0h0m5 0h0m3 0h0m1 0h0m1 0h0m4 0h0m1 0h0m6 0h0m5 0h0m7 0h0m5 0h0m6 0h0m2 0h0m2 0h0m2 0h0m12 0h0m2 0h0m1 0h0m1 0h0m3 0h0m-236 1h0m15 0h0m4 0h0m15 0h0m2 0h0m1 0h0m3 0h0m2 0h0m8 0h0m14 0h0m1 0h0m10 0h0m2 0h0m2 0h0m1 0h0m8 0h0m4 0h0m3 0h0m2 0h0m6 0h0m30 0h0m7 0h0m2 0h0m1 0h0m13 0h0m9 0h0m6 0h0m8 0h0m2 0h0m4 0h0m8 0h0m1 0h0m2 0h0m5 0h0m1 0h0m3 0h0m2 0h0m4 0h0m5 0h0m1 0h0m1 0h0m2 0h0m1 0h0m1 0h0m61 0h0m1 0h0m-265 1h0m7 0h0m5 0h0m1 0h0m4 0h0m5 0h0m1 0h0m5 0h0m2 0h0m10 0h0m2 0h0m13 0h0m1 0h0m3 0h0m1 0h0m3 0h0m4 0h0m2 0h0m4 0h0m4 0h0m5 0h0m32 0h0m4 0h0m3 0h0m3 0h0m5 0h0m2 0h0m2 0h0m3 0h0m3 0h0m2 0h0m4 0h0m6 0h0m5 0h0m3 0h0m1 0h0m1 0h0m4 0h0m3 0h0m8 0h0m2 0h0m10 0h0m7 0h0m1 0h0m3 0h0m1 0h0m5 0h0m2 0h0m66 0h0m-291 1h0m11 0h0m5 0h0m3 0h0m1 0h0m3 0h0m5 0h0m2 0h0m2 0h0m3 0h0m2 0h0m3 0h0m1 0h0m2 0h0m2 0h0m1 0h0m7 0h0m1 0h0m1 0h0m3 0h0m5 0h0m17 0h0m1 0h0m5 0h0m4 0h0m2 0h0m2 0h0m1 0h0m1 0h0m1 0h0m1 0h0m6 0h0m2 0h0m32 0h0m12 0h0m1 0h0m2 0h0m4 0h0m2 0h0m1 0h0m1 0h0m3 0h0m14 0h0m4 0h0m2 0h0m10 0h0m3 0h0m2 0h0m6 0h0m1 0h0m5 0h0m16 0h0m6 0h0m1 0h0m-232 1h0m26 0h0m3 0h0m4 0h0m1 0h0m5 0h0m10 0h0m2 0h0m2 0h0m5 0h0m12 0h0m11 0h0m3 0h0m6 0h0m1 0h0m2 0h0m1 0h0m2 0h0m3 0h0m6 0h0m1 0h0m24 0h0m7 0h0m5 0h0m9 0h0m1 0h0m3 0h0m3 0h0m1 0h0m2 0h0m2 0h0m2 0h0m13 0h0m2 0h0m4 0h0m5 0h0m7 0h0m2 0h0m3 0h0m4 0h0m7 0h0m1 0h0m5 0h0m6 0h0m6 0h0m3 0h0m-222 1h0m2 0h0m1 0h0m11 0h0m2 0h0m5 0h0m6 0h0m14 0h0m5 0h0m1 0h0m2 0h0m5 0h0m2 0h0m11 0h0m3 0h0m7 0h0m1 0h0m1 0h0m10 0h0m1 0h0m28 0h0m3 0h0m7 0h0m1 0h0m4 0h0m3 0h0m1 0h0m1 0h0m2 0h0m12 0h0m7 0h0m2 0h0m4 0h0m10 0h0m3 0h0m2 0h0m1 0h0m7 0h0m3 0h0m3 0h0m7 0h0m2 0h0m2 0h0m3 0h0m3 0h0m1 0h0m5 0h0m1 0h0m2 0h0m4 0h0m5 0h0m-240 1h0m3 0h0m3 0h0m5 0h0m5 0h0m12 0h0m3 0h0m2 0h0m1 0h0m4 0h0m1 0h0m3 0h0m7 0h0m1 0h0m8 0h0m11 0h0m5 0h0m1 0h0m6 0h0m4 0h0m1 0h0m4 0h0m3 0h0m3 0h0m33 0h0m12 0h0m2 0h0m5 0h0m8 0h0m7 0h0m10 0h0m7 0h0m3 0h0m4 0h0m2 0h0m1 0h0m1 0h0m6 0h0m2 0h0m4 0h0m3 0h0m6 0h0m3 0h0m2 0h0m4 0h0m7 0h0m9 0h0m3 0h0m86 0h0m-315 1h0m7 0h0m12 0h0m7 0h0m5 0h0m2 0h0m1 0h0m9 0h0m8 0h0m1 0h0m1 0h0m1 0h0m1 0h0m1 0h0m5 0h0m2 0h0m4 0h0m1 0h0m6 0h0m12 0h0m1 0h0m8 0h0m25 0h0m7 0h0m13 0h0m3 0h0m4 0h0m4 0h0m4 0h0m3 0h0m4 0h0m3 0h0m4 0h0m3 0h0m3 0h0m5 0h0m2 0h0m8 0h0m14 0h0m3 0h0m5 0h0m10 0h0m16 0h0m2 0h0m-234 1h0m3 0h0m1 0h0m12 0h0m5 0h0m1 0h0m3 0h0m6 0h0m6 0h0m3 0h0m1 0h0m16 0h0m1 0h0m4 0h0m8 0h0m3 0h0m2 0h0m5 0h0m5 0h0m25 0h0m16 0h0m2 0h0m2 0h0m2 0h0m3 0h0m7 0h0m1 0h0m2 0h0m5 0h0m1 0h0m6 0h0m17 0h0m1 0h0m1 0h0m3 0h0m2 0h0m2 0h0m6 0h0m3 0h0m12 0h0m2 0h0m6 0h0m56 0h0m5 0h0m25 0h0m-306 1h0m3 0h0m15 0h0m4 0h0m1 0h0m2 0h0m1 0h0m5 0h0m3 0h0m10 0h0m5 0h0m7 0h0m4 0h0m4 0h0m5 0h0m3 0h0m1 0h0m1 0h0m3 0h0m5 0h0m6 0h0m1 0h0m2 0h0m1 0h0m7 0h0m25 0h0m7 0h0m1 0h0m6 0h0m3 0h0m11 0h0m1 0h0m3 0h0m4 0h0m3 0h0m1 0h0m4 0h0m7 0h0m7 0h0m4 0h0m3 0h0m2 0h0m5 0h0m4 0h0m3 0h0m6 0h0m2 0h0m1 0h0m3 0h0m9 0h0m39 0h0m38 0h0m-303 1h0m7 0h0m1 0h0m1 0h0m2 0h0m5 0h0m7 0h0m9 0h0m5 0h0m5 0h0m1 0h0m13 0h0m1 0h0m3 0h0m3 0h0m4 0h0m5 0h0m2 0h0m1 0h0m3 0h0m2 0h0m1 0h0m6 0h0m2 0h0m1 0h0m4 0h0m7 0h0m37 0h0m1 0h0m8 0h0m3 0h0m3 0h0m7 0h0m5 0h0m1 0h0m5 0h0m3 0h0m3 0h0m3 0h0m1 0h0m2 0h0m5 0h0m6 0h0m3 0h0m2 0h0m3 0h0m9 0h0m2 0h0m15 0h0m13 0h0m90 0h0m-336 1h0m16 0h0m4 0h0m6 0h0m3 0h0m2 0h0m1 0h0m2 0h0m11 0h0m2 0h0m2 0h0m11 0h0m3 0h0m3 0h0m11 0h0m5 0h0m8 0h0m1 0h0m6 0h0m6 0h0m24 0h0m3 0h0m3 0h0m6 0h0m9 0h0m3 0h0m3 0h0m3 0h0m1 0h0m1 0h0m1 0h0m3 0h0m3 0h0m1 0h0m10 0h0m3 0h0m9 0h0m6 0h0m3 0h0m2 0h0m1 0h0m17 0h0m2 0h0m44 0h0m-266 1h0m20 0h0m4 0h0m4 0h0m3 0h0m1 0h0m4 0h0m8 0h0m2 0h0m6 0h0m2 0h0m3 0h0m7 0h0m1 0h0m2 0h0m1 0h0m14 0h0m5 0h0m3 0h0m4 0h0m2 0h0m7 0h0m6 0h0m23 0h0m2 0h0m2 0h0m1 0h0m13 0h0m3 0h0m6 0h0m5 0h0m3 0h0m5 0h0m1 0h0m4 0h0m1 0h0m2 0h0m2 0h0m4 0h0m5 0h0m1 0h0m2 0h0m3 0h0m2 0h0m1 0h0m5 0h0m1 0h0m5 0h0m4 0h0m1 0h0m1 0h0m3 0h0m2 0h0m4 0h0m1 0h0m96 0h0m-309 1h0m1 0h0m4 0h0m1 0h0m7 0h0m4 0h0m1 0h0m1 0h0m6 0h0m2 0h0m1 0h0m1 0h0m2 0h0m1 0h0m2 0h0m1 0h0m8 0h0m9 0h0m13 0h0m4 0h0m8 0h0m4 0h0m4 0h0m1 0h0m32 0h0m8 0h0m1 0h0m3 0h0m14 0h0m5 0h0m1 0h0m3 0h0m4 0h0m1 0h0m1 0h0m1 0h0m6 0h0m2 0h0m1 0h0m1 0h0m2 0h0m2 0h0m2 0h0m3 0h0m2 0h0m1 0h0m14 0h0m1 0h0m4 0h0m1 0h0m1 0h0m72 0h0m-323 1h0m42 0h0m14 0h0m6 0h0m3 0h0m7 0h0m17 0h0m1 0h0m1 0h0m2 0h0m5 0h0m7 0h0m2 0h0m4 0h0m1 0h0m4 0h0m9 0h0m1 0h0m5 0h0m9 0h0m3 0h0m17 0h0m2 0h0m3 0h0m4 0h0m6 0h0m2 0h0m6 0h0m10 0h0m10 0h0m1 0h0m1 0h0m5 0h0m1 0h0m1 0h0m1 0h0m2 0h0m6 0h0m2 0h0m1 0h0m1 0h0m1 0h0m2 0h0m2 0h0m5 0h0m4 0h0m3 0h0m8 0h0m3 0h0m8 0h0m1 0h0m-264 1h0m47 0h0m10 0h0m2 0h0m3 0h0m3 0h0m2 0h0m1 0h0m4 0h0m1 0h0m2 0h0m1 0h0m2 0h0m4 0h0m8 0h0m6 0h0m4 0h0m3 0h0m12 0h0m2 0h0m11 0h0m5 0h0m6 0h0m8 0h0m19 0h0m4 0h0m3 0h0m11 0h0m4 0h0m6 0h0m2 0h0m1 0h0m1 0h0m8 0h0m1 0h0m5 0h0m6 0h0m1 0h0m8 0h0m4 0h0m6 0h0m4 0h0m52 0h0m49 0h0m-295 1h0m2 0h0m4 0h0m14 0h0m1 0h0m1 0h0m7 0h0m2 0h0m4 0h0m1 0h0m6 0h0m4 0h0m6 0h0m2 0h0m3 0h0m1 0h0m2 0h0m1 0h0m8 0h0m1 0h0m3 0h0m1 0h0m3 0h0m3 0h0m2 0h0m2 0h0m3 0h0m7 0h0m3 0h0m25 0h0m4 0h0m4 0h0m2 0h0m5 0h0m3 0h0m6 0h0m8 0h0m2 0h0m5 0h0m6 0h0m1 0h0m1 0h0m1 0h0m3 0h0m2 0h0m2 0h0m2 0h0m1 0h0m3 0h0m2 0h0m1 0h0m2 0h0m1 0h0m2 0h0m11 0h0m4 0h0m4 0h0m1 0h0m9 0h0m26 0h0m-284 1h0m46 0h0m7 0h0m5 0h0m7 0h0m1 0h0m1 0h0m2 0h0m4 0h0m3 0h0m4 0h0m1 0h0m2 0h0m4 0h0m2 0h0m2 0h0m1 0h0m19 0h0m1 0h0m4 0h0m1 0h0m11 0h0m3 0h0m3 0h0m2 0h0m17 0h0m7 0h0m4 0h0m1 0h0m1 0h0m1 0h0m1 0h0m2 0h0m7 0h0m1 0h0m15 0h0m1 0h0m5 0h0m1 0h0m9 0h0m3 0h0m1 0h0m1 0h0m9 0h0m1 0h0m5 0h0m13 0h0m6 0h0m1 0h0m9 0h0m-214 1h0m8 0h0m1 0h0m4 0h0m9 0h0m2 0h0m8 0h0m3 0h0m3 0h0m1 0h0m3 0h0m3 0h0m1 0h0m7 0h0m3 0h0m8 0h0m1 0h0m8 0h0m2 0h0m2 0h0m2 0h0m4 0h0m5 0h0m1 0h0m27 0h0m5 0h0m1 0h0m3 0h0m5 0h0m1 0h0m2 0h0m20 0h0m1 0h0m9 0h0m2 0h0m3 0h0m2 0h0m9 0h0m3 0h0m3 0h0m18 0h0m13 0h0m-201 1h0m2 0h0m3 0h0m1 0h0m2 0h0m1 0h0m8 0h0m7 0h0m8 0h0m1 0h0m2 0h0m1 0h0m5 0h0m1 0h0m7 0h0m1 0h0m2 0h0m4 0h0m5 0h0m4 0h0m4 0h0m6 0h0m1 0h0m2 0h0m22 0h0m4 0h0m1 0h0m1 0h0m5 0h0m7 0h0m4 0h0m10 0h0m3 0h0m7 0h0m5 0h0m4 0h0m6 0h0m5 0h0m10 0h0m4 0h0m-176 1h0m1 0h0m3 0h0m2 0h0m1 0h0m4 0h0m1 0h0m4 0h0m9 0h0m1 0h0m9 0h0m5 0h0m3 0h0m9 0h0m3 0h0m7 0h0m1 0h0m2 0h0m1 0h0m1 0h0m1 0h0m3 0h0m4 0h0m3 0h0m17 0h0m8 0h0m2 0h0m4 0h0m1 0h0m7 0h0m5 0h0m12 0h0m1 0h0m4 0h0m2 0h0m2 0h0m1 0h0m6 0h0m1 0h0m2 0h0m2 0h0m8 0h0m4 0h0m-183 1h0m11 0h0m4 0h0m3 0h0m1 0h0m1 0h0m3 0h0m3 0h0m4 0h0m1 0h0m7 0h0m6 0h0m2 0h0m13 0h0m17 0h0m2 0h0m4 0h0m1 0h0m2 0h0m1 0h0m1 0h0m25 0h0m3 0h0m2 0h0m2 0h0m9 0h0m1 0h0m2 0h0m2 0h0m4 0h0m8 0h0m1 0h0m1 0h0m15 0h0m3 0h0m2 0h0m13 0h0m1 0h0m2 0h0m14 0h0m-181 1h0m4 0h0m9 0h0m12 0h0m17 0h0m2 0h0m1 0h0m5 0h0m6 0h0m1 0h0m4 0h0m1 0h0m6 0h0m1 0h0m2 0h0m2 0h0m2 0h0m20 0h0m3 0h0m6 0h0m12 0h0m1 0h0m1 0h0m6 0h0m10 0h0m13 0h0m4 0h0m7 0h0m2 0h0m-185 1h0m27 0h0m5 0h0m1 0h0m1 0h0m1 0h0m8 0h0m1 0h0m2 0h0m2 0h0m3 0h0m1 0h0m2 0h0m4 0h0m7 0h0m2 0h0m1 0h0m3 0h0m3 0h0m6 0h0m7 0h0m3 0h0m6 0h0m8 0h0m11 0h0m3 0h0m3 0h0m1 0h0m1 0h0m2 0h0m3 0h0m3 0h0m1 0h0m8 0h0m9 0h0m6 0h0m12 0h0m9 0h0m1 0h0m1 0h0m15 0h0m12 0h0m-176 1h0m4 0h0m3 0h0m1 0h0m2 0h0m2 0h0m5 0h0m10 0h0m2 0h0m1 0h0m14 0h0m12 0h0m1 0h0m4 0h0m6 0h0m5 0h0m3 0h0m1 0h0m19 0h0m3 0h0m2 0h0m3 0h0m14 0h0m2 0h0m18 0h0m1 0h0m2 0h0m3 0h0m1 0h0m7 0h0m11 0h0m6 0h0m5 0h0m6 0h0m9 0h0m-181 1h0m5 0h0m3 0h0m6 0h0m2 0h0m5 0h0m4 0h0m2 0h0m1 0h0m19 0h0m2 0h0m1 0h0m1 0h0m2 0h0m9 0h0m1 0h0m3 0h0m8 0h0m19 0h0m7 0h0m2 0h0m5 0h0m4 0h0m2 0h0m1 0h0m1 0h0m4 0h0m1 0h0m10 0h0m10 0h0m3 0h0m21 0h0m2 0h0m-193 1h0m24 0h0m10 0h0m6 0h0m1 0h0m4 0h0m2 0h0m4 0h0m2 0h0m10 0h0m4 0h0m4 0h0m2 0h0m13 0h0m2 0h0m2 0h0m10 0h0m13 0h0m8 0h0m5 0h0m2 0h0m1 0h0m2 0h0m2 0h0m1 0h0m1 0h0m3 0h0m3 0h0m1 0h0m23 0h0m11 0h0m-150 1h0m2 0h0m2 0h0m4 0h0m10 0h0m16 0h0m1 0h0m9 0h0m3 0h0m2 0h0m3 0h0m2 0h0m2 0h0m1 0h0m10 0h0m17 0h0m1 0h0m2 0h0m9 0h0m3 0h0m1 0h0m7 0h0m6 0h0m1 0h0m1 0h0m9 0h0m34 0h0m-157 1h0m5 0h0m7 0h0m6 0h0m2 0h0m1 0h0m1 0h0m5 0h0m5 0h0m1 0h0m16 0h0m2 0h0m2 0h0m2 0h0m2 0h0m1 0h0m1 0h0m2 0h0m1 0h0m8 0h0m10 0h0m4 0h0m6 0h0m11 0h0m2 0h0m3 0h0m21 0h0m-132 1h0m40 0h0m1 0h0m2 0h0m1 0h0m1 0h0m1 0h0m1 0h0m5 0h0m1 0h0m3 0h0m15 0h0m8 0h0m11 0h0m2 0h0m2 0h0m9 0h0m1 0h0m1 0h0m6 0h0m7 0h0m2 0h0m17 0h0m-114 1h0m2 0h0m1 0h0m3 0h0m8 0h0m3 0h0m1 0h0m3 0h0m4 0h0m1 0h0m3 0h0m14 0h0m10 0h0m3 0h0m10 0h0m15 0h0m-134 1h0m58 0h0m6 0h0m3 0h0m11 0h0m1 0h0m3 0h0m2 0h0m4 0h0m1 0h0m6 0h0m16 0h0m1 0h0m14 0h0m10 0h0m2 0h0m18 0h0m-114 1h0m28 0h0m1 0h0m12 0h0m9 0h0m7 0h0m1 0h0m1 0h0m4 0h0m2 0h0m8 0h0m2 0h0m10 0h0m-80 1h0m24 0h0m14 0h0m3 0h0m1 0h0m9 0h0m1 0h0m15 0h0m6 0h0m2 0h0m11 0h0m-51 1h0m6 0h0m5 0h0m1 0h0m3 0h0m14 0h0m14 0h0m46 0h0m-109 1h0m13 0h0m1 0h0m1 0h0m13 0h0m11 0h0m7 0h0m2 0h0m2 0h0m4 0h0m2 0h0m9 0h0m3 0h0m3 0h0m-47 1h0m16 0h0m1 0h0m8 0h0m-20 1h0m29 0h0" stroke="#9c9c9c" stroke-width="3" stroke-linecap="round" fill="none"/>
<path transform="scale(0.5)" d="M91 595h0m-12 15h0m-4 12h0m29 9h0m44 0h0m6 7h0m-14 5h0m4 3h0m7 0h0m6 0h0m-96 1h0m27 5h0m74 0h0m-71 2h0m55 5h0m5 0h0m10 0h0m-113 1h0m58 0h0m30 0h0m-4 2h0m-4 2h0m-56 1h0m15 2h0m9 0h0m10 0h0m14 0h0m-35 1h0m6 8h0m17 0h0m16 0h0" stroke="#3f2a80" stroke-width="4" stroke-linecap="round" fill="none"/>
<path transform="scale(0.5)" d="M421 482h0m-58 39h0m17 2h0m12 0h0m-24 50h0m-46 2h0m7 3h0m90 11h0m0 1h0m-77 5h0m36 1h0m18 0h0m-137 1h0m40 0h0m135 0h0m-1 1h0m-117 5h0m-2 5h0m-74 2h0m40 0h0m30 0h0m77 1h0m-5 8h0m-20 10h0m-65 2h0m71 0h0m-24 5h0m-38 1h0m84 0h0m-146 3h0m19 6h0m66 2h0m21 2h0m-79 2h0m56 1h0m-38 6h0m6 0h0m99 0h0m-150 1h0m98 0h0m4 1h0m-38 1h0m25 0h0m-85 1h0m43 0h0m44 0h0m31 0h0m4 0h0m-135 1h0m18 1h0m8 0h0m18 0h0m31 0h0m-39 2h0m31 0h0m19 0h0m93 0h0m-162 2h0m91 3h0m30 1h0m-105 1h0m19 1h0m-47 1h0m55 1h0m54 0h0" stroke="#f59b62" stroke-width="3.8" stroke-linecap="round" fill="none"/>
<text x="36.3" y="304" font-size="4.7" fill="#3b2a85">TCF7</text>
<text x="36" y="330.5" font-size="4.7" fill="#3b2a85">KLF3</text>
<text x="24.5" y="337.5" font-size="4.7" fill="#3b2a85">ZNF385</text>
<text x="162" y="332" font-size="4.7" fill="#f0955a">HLF</text>
<text x="174.6" y="336" font-size="4.7" fill="#f0955a">EGR3</text>
<line x1="81.7" y1="234" x2="81.7" y2="394.8" stroke="#e8403f" stroke-width="0.85"/>
<line x1="114.9" y1="234" x2="114.9" y2="394.8" stroke="#e8403f" stroke-width="0.85"/>
<line x1="10.9" y1="338.5" x2="226" y2="338.5" stroke="#e8403f" stroke-width="0.85"/>
</g>
<text x="15" y="400" font-size="4.0" text-anchor="middle" fill="#444">−5.0</text>
<text x="56.7" y="400" font-size="4.0" text-anchor="middle" fill="#444">−2.5</text>
<text x="98.3" y="400" font-size="4.0" text-anchor="middle" fill="#444">0.0</text>
<text x="139.9" y="400" font-size="4.0" text-anchor="middle" fill="#444">2.5</text>
<text x="181.6" y="400" font-size="4.0" text-anchor="middle" fill="#444">5.0</text>
<text x="223.2" y="400" font-size="4.0" text-anchor="middle" fill="#444">7.5</text>
<text x="9.7" y="389" font-size="4.0" text-anchor="end" fill="#444">0</text>
<text x="9.7" y="351.2" font-size="4.0" text-anchor="end" fill="#444">1</text>
<text x="9.7" y="313.4" font-size="4.0" text-anchor="end" fill="#444">2</text>
<text x="9.7" y="275.6" font-size="4.0" text-anchor="end" fill="#444">3</text>
<text x="9.7" y="237.8" font-size="4.0" text-anchor="end" fill="#444">4</text>
<text x="89.4" y="229.8" font-size="11.7">RNA−seq</text>
<text x="119.3" y="403.6" font-size="4.6" text-anchor="middle" fill="#333">logFC</text>
<text transform="translate(6,314.3) rotate(-90)" font-size="4.7" text-anchor="middle" fill="#222">-log10(adj.P.Val)</text>
<defs><clipPath id="cv2"><rect x="244.4" y="234" width="210.4" height="160.8"/></clipPath></defs>
<defs><clipPath id="cv2p"><rect x="0" y="0" width="293.3" height="367.8"/></clipPath><clipPath id="cv2o"><rect x="347.7" y="0" width="700" height="367.8"/></clipPath></defs>
<g clip-path="url(#cv2)">
<line x1="218.5" y1="234" x2="218.5" y2="394.8" stroke="#f5f5f5" stroke-width="0.5"/>
<line x1="286.5" y1="234" x2="286.5" y2="394.8" stroke="#f5f5f5" stroke-width="0.5"/>
<line x1="354.5" y1="234" x2="354.5" y2="394.8" stroke="#f5f5f5" stroke-width="0.5"/>
<line x1="422.5" y1="234" x2="422.5" y2="394.8" stroke="#f5f5f5" stroke-width="0.5"/>
<line x1="244.4" y1="368.5" x2="454.8" y2="368.5" stroke="#f5f5f5" stroke-width="0.5"/>
<line x1="244.4" y1="330.8" x2="454.8" y2="330.8" stroke="#f5f5f5" stroke-width="0.5"/>
<line x1="244.4" y1="293" x2="454.8" y2="293" stroke="#f5f5f5" stroke-width="0.5"/>
<line x1="244.4" y1="255.3" x2="454.8" y2="255.3" stroke="#f5f5f5" stroke-width="0.5"/>
<line x1="184.5" y1="234" x2="184.5" y2="394.8" stroke="#ebebeb" stroke-width="0.8"/>
<line x1="252.5" y1="234" x2="252.5" y2="394.8" stroke="#ebebeb" stroke-width="0.8"/>
<line x1="320.5" y1="234" x2="320.5" y2="394.8" stroke="#ebebeb" stroke-width="0.8"/>
<line x1="388.5" y1="234" x2="388.5" y2="394.8" stroke="#ebebeb" stroke-width="0.8"/>
<line x1="456.5" y1="234" x2="456.5" y2="394.8" stroke="#ebebeb" stroke-width="0.8"/>
<line x1="244.4" y1="387.4" x2="454.8" y2="387.4" stroke="#ebebeb" stroke-width="0.8"/>
<line x1="244.4" y1="349.6" x2="454.8" y2="349.6" stroke="#ebebeb" stroke-width="0.8"/>
<line x1="244.4" y1="311.9" x2="454.8" y2="311.9" stroke="#ebebeb" stroke-width="0.8"/>
<line x1="244.4" y1="274.1" x2="454.8" y2="274.1" stroke="#ebebeb" stroke-width="0.8"/>
<line x1="244.4" y1="236.4" x2="454.8" y2="236.4" stroke="#ebebeb" stroke-width="0.8"/>
<path d="M285 368L279 350L277 320L279 290L285 268L293 255L298 262L303.7 284L311 305L315.5 318L317.5 350L319.5 382L320.3 388L305 386L294.2 375L288 370Z" fill="#9c9c9c" fill-opacity="0.8"/>
<path d="M285 368L279 350L277 320L279 290L285 268L293 255L298 262L303.7 284L311 305L315.5 318L317.5 350L319.5 382L320.3 388L305 386L294.2 375L288 370Z" fill="#fff" clip-path="url(#cv2p)"/><path d="M285 368L279 350L277 320L279 290L285 268L293 255L298 262L303.7 284L311 305L315.5 318L317.5 350L319.5 382L320.3 388L305 386L294.2 375L288 370Z" fill="#3f2a80" fill-opacity="0.45" clip-path="url(#cv2p)"/>
<path d="M285 368L279 350L277 320L279 290L285 268L293 255L298 262L303.7 284L311 305L315.5 318L317.5 350L319.5 382L320.3 388L305 386L294.2 375L288 370Z" fill="#fff" clip-path="url(#cv2o)"/><path d="M285 368L279 350L277 320L279 290L285 268L293 255L298 262L303.7 284L311 305L315.5 318L317.5 350L319.5 382L320.3 388L305 386L294.2 375L288 370Z" fill="#f59b62" fill-opacity="0.38" clip-path="url(#cv2o)"/>
<path d="M322.6 370L325 350L327.4 334.7L330 300L334 287L340 285L346 292L347.7 302.5L358.2 308.2L369.7 317.8L377.4 327.4L383 346.5L393.4 363L388 368.5L373.3 372L360 379L347.7 384.7L335 387L321 388Z" fill="#9c9c9c" fill-opacity="0.8"/>
<path d="M322.6 370L325 350L327.4 334.7L330 300L334 287L340 285L346 292L347.7 302.5L358.2 308.2L369.7 317.8L377.4 327.4L383 346.5L393.4 363L388 368.5L373.3 372L360 379L347.7 384.7L335 387L321 388Z" fill="#fff" clip-path="url(#cv2p)"/><path d="M322.6 370L325 350L327.4 334.7L330 300L334 287L340 285L346 292L347.7 302.5L358.2 308.2L369.7 317.8L377.4 327.4L383 346.5L393.4 363L388 368.5L373.3 372L360 379L347.7 384.7L335 387L321 388Z" fill="#3f2a80" fill-opacity="0.45" clip-path="url(#cv2p)"/>
<path d="M322.6 370L325 350L327.4 334.7L330 300L334 287L340 285L346 292L347.7 302.5L358.2 308.2L369.7 317.8L377.4 327.4L383 346.5L393.4 363L388 368.5L373.3 372L360 379L347.7 384.7L335 387L321 388Z" fill="#fff" clip-path="url(#cv2o)"/><path d="M322.6 370L325 350L327.4 334.7L330 300L334 287L340 285L346 292L347.7 302.5L358.2 308.2L369.7 317.8L377.4 327.4L383 346.5L393.4 363L388 368.5L373.3 372L360 379L347.7 384.7L335 387L321 388Z" fill="#f59b62" fill-opacity="0.38" clip-path="url(#cv2o)"/>
<path transform="scale(0.5)" d="M587 481h0m4 0h0m3 1h0m-3 2h0m-2 2h0m3 2h0m6 1h0m-11 1h0m8 0h0m8 0h0m-6 1h0m3 0h0m-13 1h0m1 0h0m4 0h0m1 0h0m2 0h0m3 0h0m2 0h0m-11 1h0m4 0h0m-5 1h0m3 0h0m4 0h0m11 0h0m-18 1h0m13 0h0m-11 1h0m7 0h0m3 0h0m-8 1h0m10 0h0m-2 1h0m1 0h0m-13 1h0m17 0h0m-16 1h0m10 0h0m-11 1h0m6 0h0m2 0h0m4 0h0m4 1h0m-10 4h0m5 0h0m1 0h0m-12 1h0m5 0h0m12 0h0m1 0h0m-17 1h0m16 0h0m-16 1h0m5 0h0m8 0h0m5 0h0m-7 1h0m8 0h0m1 0h0m4 0h0m-26 1h0m10 0h0m11 0h0m-17 1h0m8 1h0m2 0h0m-9 1h0m4 0h0m5 0h0m-4 2h0m8 0h0m-18 1h0m9 0h0m6 0h0m-2 1h0m9 0h0m-16 1h0m1 0h0m5 0h0m5 0h0m4 0h0m-21 1h0m8 0h0m8 0h0m5 0h0m-20 1h0m11 0h0m10 0h0m-17 1h0m19 0h0m-18 1h0m4 0h0m17 0h0m-27 1h0m17 0h0m3 0h0m7 0h0m1 0h0m-28 1h0m3 0h0m4 0h0m5 0h0m5 0h0m6 0h0m-17 1h0m2 0h0m2 0h0m7 0h0m-17 1h0m28 0h0m1 0h0m-26 1h0m11 1h0m5 0h0m8 0h0m-27 1h0m8 0h0m2 0h0m7 0h0m3 0h0m4 0h0m-24 2h0m17 0h0m4 0h0m-20 1h0m9 0h0m7 0h0m11 0h0m4 0h0m-27 1h0m1 0h0m21 0h0m-27 1h0m15 0h0m-4 1h0m16 0h0m-23 1h0m1 0h0m1 0h0m4 0h0m7 0h0m-16 1h0m2 0h0m7 0h0m-6 1h0m9 0h0m2 0h0m1 0h0m-11 1h0m27 0h0m-21 1h0m1 0h0m6 0h0m4 0h0m5 0h0m2 0h0m2 0h0m4 0h0m-32 1h0m3 0h0m12 0h0m8 0h0m-24 1h0m2 0h0m20 0h0m1 0h0m2 0h0m3 0h0m-23 1h0m5 0h0m2 0h0m2 0h0m2 0h0m13 0h0m-30 1h0m13 0h0m17 0h0m-18 1h0m1 0h0m3 0h0m10 0h0m4 0h0m-28 1h0m9 0h0m15 0h0m1 0h0m9 0h0m-36 1h0m4 0h0m1 0h0m14 0h0m2 0h0m1 0h0m10 0h0m1 0h0m3 0h0m-35 1h0m1 0h0m3 0h0m-4 1h0m5 0h0m3 0h0m-2 1h0m1 0h0m11 0h0m3 0h0m7 0h0m-27 1h0m6 0h0m2 0h0m2 0h0m11 0h0m-23 1h0m5 0h0m13 0h0m3 0h0m-11 1h0m-10 1h0m5 0h0m2 0h0m6 0h0m11 0h0m9 0h0m-29 1h0m31 0h0m-28 1h0m3 0h0m1 0h0m11 0h0m-2 1h0m1 0h0m3 0h0m11 0h0m1 0h0m-33 1h0m6 0h0m-9 1h0m19 0h0m3 0h0m-22 2h0m6 0h0m5 0h0m8 0h0m10 0h0m-27 1h0m4 0h0m9 0h0m1 0h0m5 0h0m-20 1h0m1 0h0m19 0h0m-8 1h0m4 0h0m4 0h0m1 0h0m-18 1h0m30 0h0m-34 1h0m5 0h0m11 0h0m4 0h0m13 0h0m-33 1h0m1 0h0m1 0h0m1 0h0m2 0h0m22 0h0m-28 1h0m37 0h0m55 0h0m-78 1h0m4 0h0m17 0h0m50 0h0m15 0h0m-98 1h0m8 0h0m10 0h0m1 0h0m3 0h0m1 0h0m2 0h0m2 0h0m7 0h0m2 0h0m7 0h0m38 0h0m-74 1h0m3 0h0m1 0h0m3 0h0m2 0h0m6 0h0m6 0h0m1 0h0m7 0h0m57 0h0m6 0h0m-101 1h0m1 0h0m3 0h0m7 0h0m2 0h0m2 0h0m4 0h0m9 0h0m-19 1h0m7 0h0m10 0h0m6 0h0m3 0h0m47 0h0m-81 1h0m26 0h0m4 0h0m3 0h0m8 0h0m47 0h0m10 0h0m-80 1h0m11 0h0m6 0h0m2 0h0m44 0h0m6 0h0m4 0h0m-87 1h0m12 0h0m4 0h0m69 0h0m-81 1h0m4 0h0m4 0h0m11 0h0m2 0h0m10 0h0m1 0h0m-20 1h0m7 0h0m64 0h0m7 0h0m-94 1h0m13 0h0m10 0h0m6 0h0m55 0h0m-86 1h0m2 0h0m6 0h0m2 0h0m6 0h0m13 0h0m-30 1h0m8 0h0m4 0h0m11 0h0m2 0h0m63 0h0m-84 1h0m11 0h0m59 0h0m4 0h0m11 0h0m13 0h0m-101 1h0m14 0h0m2 0h0m11 0h0m5 0h0m46 0h0m3 0h0m4 0h0m9 0h0m-89 1h0m9 0h0m5 0h0m9 0h0m1 0h0m46 0h0m10 0h0m7 0h0m7 0h0m-102 1h0m15 0h0m9 0h0m4 0h0m56 0h0m-68 1h0m1 0h0m5 0h0m7 0h0m1 0h0m7 0h0m1 0h0m40 0h0m6 0h0m5 0h0m4 0h0m8 0h0m-92 1h0m3 0h0m5 0h0m3 0h0m12 0h0m1 0h0m46 0h0m1 0h0m11 0h0m9 0h0m8 0h0m-103 1h0m11 0h0m8 0h0m2 0h0m3 0h0m10 0h0m63 0h0m-100 1h0m6 0h0m3 0h0m1 0h0m8 0h0m4 0h0m1 0h0m13 0h0m1 0h0m48 0h0m16 0h0m-103 1h0m4 0h0m9 0h0m24 0h0m48 0h0m6 0h0m5 0h0m-86 1h0m3 0h0m2 0h0m3 0h0m3 0h0m74 0h0m4 0h0m1 0h0m4 0h0m-102 1h0m12 0h0m2 0h0m3 0h0m15 0h0m51 0h0m8 0h0m3 0h0m-93 1h0m24 0h0m1 0h0m12 0h0m1 0h0m2 0h0m28 0h0m20 0h0m2 0h0m5 0h0m6 0h0m-104 1h0m18 0h0m5 0h0m9 0h0m52 0h0m-77 1h0m4 0h0m2 0h0m6 0h0m2 0h0m1 0h0m2 0h0m8 0h0m2 0h0m9 0h0m28 0h0m18 0h0m5 0h0m2 0h0m-90 1h0m12 0h0m9 0h0m9 0h0m7 0h0m31 0h0m4 0h0m18 0h0m8 0h0m-92 1h0m11 0h0m1 0h0m17 0h0m3 0h0m30 0h0m17 0h0m-80 1h0m3 0h0m1 0h0m9 0h0m11 0h0m9 0h0m32 0h0m14 0h0m1 0h0m12 0h0m1 0h0m-102 1h0m4 0h0m10 0h0m11 0h0m14 0h0m59 0h0m-94 1h0m3 0h0m4 0h0m9 0h0m6 0h0m1 0h0m54 0h0m6 0h0m-75 1h0m5 0h0m12 0h0m67 0h0m1 0h0m3 0h0m-102 1h0m6 0h0m1 0h0m6 0h0m1 0h0m8 0h0m1 0h0m52 0h0m2 0h0m13 0h0m-87 1h0m3 0h0m3 0h0m2 0h0m10 0h0m13 0h0m2 0h0m2 0h0m45 0h0m19 0h0m5 0h0m-103 1h0m31 0h0m53 0h0m-87 1h0m9 0h0m14 0h0m8 0h0m4 0h0m37 0h0m6 0h0m2 0h0m13 0h0m8 0h0m3 0h0m-100 1h0m5 0h0m1 0h0m1 0h0m1 0h0m1 0h0m3 0h0m12 0h0m9 0h0m47 0h0m15 0h0m8 0h0m-108 1h0m29 0h0m4 0h0m1 0h0m1 0h0m47 0h0m4 0h0m1 0h0m10 0h0m-91 1h0m2 0h0m5 0h0m28 0h0m41 0h0m3 0h0m11 0h0m-94 1h0m4 0h0m8 0h0m2 0h0m23 0h0m40 0h0m2 0h0m1 0h0m2 0h0m19 0h0m4 0h0m-92 1h0m2 0h0m15 0h0m45 0h0m5 0h0m2 0h0m21 0h0m-91 1h0m7 0h0m5 0h0m5 0h0m6 0h0m51 0h0m13 0h0m2 0h0m4 0h0m-99 1h0m3 0h0m5 0h0m52 0h0m7 0h0m5 0h0m1 0h0m1 0h0m1 0h0m12 0h0m1 0h0m5 0h0m-91 1h0m11 0h0m5 0h0m4 0h0m1 0h0m60 0h0m5 0h0m-93 1h0m9 0h0m9 0h0m7 0h0m57 0h0m11 0h0m9 0h0m-104 1h0m3 0h0m15 0h0m17 0h0m45 0h0m7 0h0m13 0h0m-99 1h0m25 0h0m15 0h0m63 0h0m-97 1h0m6 0h0m9 0h0m2 0h0m6 0h0m5 0h0m21 0h0m23 0h0m8 0h0m11 0h0m-94 1h0m1 0h0m3 0h0m8 0h0m5 0h0m1 0h0m3 0h0m2 0h0m1 0h0m22 0h0m22 0h0m14 0h0m7 0h0m3 0h0m-96 1h0m4 0h0m2 0h0m1 0h0m9 0h0m20 0h0m1 0h0m38 0h0m21 0h0m7 0h0m-98 1h0m1 0h0m10 0h0m2 0h0m14 0h0m2 0h0m10 0h0m30 0h0m14 0h0m8 0h0m4 0h0m-88 1h0m5 0h0m13 0h0m11 0h0m2 0h0m30 0h0m7 0h0m6 0h0m4 0h0m1 0h0m-51 1h0m3 0h0m1 0h0m26 0h0m14 0h0m5 0h0m-85 1h0m10 0h0m5 0h0m16 0h0m2 0h0m6 0h0m41 0h0m2 0h0m9 0h0m-88 1h0m9 0h0m9 0h0m3 0h0m3 0h0m4 0h0m46 0h0m4 0h0m14 0h0m3 0h0m-97 1h0m2 0h0m20 0h0m22 0h0m30 0h0m24 0h0m-97 1h0m1 0h0m3 0h0m12 0h0m3 0h0m7 0h0m70 0h0m1 0h0m-103 1h0m21 0h0m2 0h0m7 0h0m13 0h0m38 0h0m9 0h0m10 0h0m-94 1h0m3 0h0m6 0h0m12 0h0m4 0h0m2 0h0m11 0h0m1 0h0m46 0h0m7 0h0m-98 1h0m26 0h0m10 0h0m1 0h0m38 0h0m5 0h0m18 0h0m-87 1h0m1 0h0m2 0h0m2 0h0m52 0h0m5 0h0m7 0h0m5 0h0m12 0h0m-84 1h0m6 0h0m6 0h0m1 0h0m50 0h0m20 0h0m5 0h0m3 0h0m3 0h0m-108 1h0m2 0h0m10 0h0m6 0h0m6 0h0m10 0h0m8 0h0m23 0h0m30 0h0m-88 1h0m9 0h0m12 0h0m8 0h0m1 0h0m2 0h0m44 0h0m16 0h0m6 0h0m-93 1h0m7 0h0m7 0h0m3 0h0m12 0h0m49 0h0m9 0h0m3 0h0m-99 1h0m6 0h0m28 0h0m43 0h0m1 0h0m3 0h0m21 0h0m3 0h0m-108 1h0m14 0h0m6 0h0m7 0h0m2 0h0m5 0h0m64 0h0m9 0h0m1 0h0m-98 1h0m13 0h0m2 0h0m8 0h0m8 0h0m49 0h0m7 0h0m1 0h0m8 0h0m-106 1h0m12 0h0m23 0h0m3 0h0m1 0h0m2 0h0m32 0h0m9 0h0m4 0h0m13 0h0m2 0h0m-88 1h0m3 0h0m20 0h0m36 0h0m2 0h0m15 0h0m7 0h0m4 0h0m3 0h0m-98 1h0m2 0h0m1 0h0m3 0h0m10 0h0m15 0h0m47 0h0m22 0h0m-105 1h0m1 0h0m1 0h0m1 0h0m13 0h0m13 0h0m47 0h0m11 0h0m5 0h0m-92 1h0m2 0h0m16 0h0m3 0h0m3 0h0m1 0h0m5 0h0m50 0h0m22 0h0m4 0h0m-105 1h0m17 0h0m3 0h0m5 0h0m5 0h0m3 0h0m37 0h0m7 0h0m1 0h0m1 0h0m1 0h0m14 0h0m2 0h0m2 0h0m8 0h0m-104 1h0m14 0h0m4 0h0m5 0h0m7 0h0m6 0h0m7 0h0m-17 1h0m11 0h0m32 0h0m18 0h0m-82 1h0m3 0h0m7 0h0m1 0h0m4 0h0m64 0h0m6 0h0m5 0h0m-97 1h0m1 0h0m12 0h0m4 0h0m7 0h0m1 0h0m5 0h0m4 0h0m34 0h0m24 0h0m9 0h0m-98 1h0m6 0h0m18 0h0m6 0h0m2 0h0m35 0h0m5 0h0m5 0h0m9 0h0m3 0h0m10 0h0m-75 1h0m4 0h0m2 0h0m6 0h0m41 0h0m-81 1h0m6 0h0m4 0h0m8 0h0m4 0h0m16 0h0m43 0h0m5 0h0m1 0h0m8 0h0m9 0h0m-95 1h0m15 0h0m6 0h0m4 0h0m1 0h0m7 0h0m53 0h0m12 0h0m-94 1h0m22 0h0m3 0h0m4 0h0m5 0h0m24 0h0m26 0h0m7 0h0m-98 1h0m5 0h0m11 0h0m7 0h0m1 0h0m1 0h0m2 0h0m3 0h0m3 0h0m1 0h0m1 0h0m9 0h0m-38 1h0m3 0h0m1 0h0m3 0h0m12 0h0m2 0h0m5 0h0m30 0h0m5 0h0m3 0h0m1 0h0m7 0h0m10 0h0m7 0h0m2 0h0m3 0h0m2 0h0m-105 1h0m14 0h0m3 0h0m12 0h0m4 0h0m2 0h0m7 0h0m23 0h0m2 0h0m9 0h0m21 0h0m4 0h0m1 0h0m-99 1h0m11 0h0m2 0h0m2 0h0m2 0h0m2 0h0m8 0h0m4 0h0m8 0h0m7 0h0m23 0h0m5 0h0m11 0h0m5 0h0m5 0h0m-100 1h0m17 0h0m5 0h0m8 0h0m1 0h0m36 0h0m12 0h0m4 0h0m7 0h0m13 0h0m-100 1h0m2 0h0m2 0h0m9 0h0m4 0h0m53 0h0m12 0h0m1 0h0m-74 1h0m17 0h0m8 0h0m44 0h0m3 0h0m6 0h0m15 0h0m-105 1h0m5 0h0m27 0h0m1 0h0m2 0h0m57 0h0m3 0h0m4 0h0m5 0h0m-104 1h0m5 0h0m3 0h0m2 0h0m15 0h0m12 0h0m53 0h0m14 0h0m1 0h0m-104 1h0m10 0h0m4 0h0m14 0h0m1 0h0m3 0h0m5 0h0m6 0h0m10 0h0m13 0h0m5 0h0m17 0h0m11 0h0m4 0h0m-104 1h0m8 0h0m2 0h0m19 0h0m9 0h0m2 0h0m4 0h0m3 0h0m31 0h0m-71 1h0m2 0h0m5 0h0m25 0h0m7 0h0m27 0h0m16 0h0m2 0h0m-85 1h0m3 0h0m7 0h0m19 0h0m4 0h0m6 0h0m22 0h0m6 0h0m16 0h0m16 0h0m-105 1h0m13 0h0m1 0h0m1 0h0m17 0h0m5 0h0m5 0h0m1 0h0m43 0h0m9 0h0m2 0h0m2 0h0m5 0h0m-105 1h0m15 0h0m1 0h0m13 0h0m4 0h0m1 0h0m8 0h0m2 0h0m1 0h0m39 0h0m11 0h0m11 0h0m1 0h0m-103 1h0m8 0h0m9 0h0m66 0h0m1 0h0m2 0h0m1 0h0m5 0h0m-94 1h0m4 0h0m2 0h0m10 0h0m3 0h0m6 0h0m75 0h0m2 0h0m2 0h0m-104 1h0m10 0h0m17 0h0m6 0h0m39 0h0m20 0h0m1 0h0m-88 1h0m1 0h0m3 0h0m4 0h0m10 0h0m3 0h0m1 0h0m4 0h0m45 0h0m3 0h0m5 0h0m12 0h0m3 0h0m4 0h0m-103 1h0m2 0h0m1 0h0m11 0h0m2 0h0m19 0h0m4 0h0m28 0h0m4 0h0m1 0h0m1 0h0m17 0h0m12 0h0m-101 1h0m19 0h0m3 0h0m3 0h0m8 0h0m37 0h0m5 0h0m8 0h0m16 0h0m6 0h0m-101 1h0m1 0h0m4 0h0m1 0h0m8 0h0m1 0h0m1 0h0m2 0h0m3 0h0m5 0h0m8 0h0m26 0h0m10 0h0m2 0h0m12 0h0m6 0h0m9 0h0m-79 1h0m46 0h0m1 0h0m8 0h0m1 0h0m16 0h0m6 0h0m-85 1h0m8 0h0m1 0h0m1 0h0m1 0h0m1 0h0m3 0h0m11 0h0m1 0h0m23 0h0m12 0h0m3 0h0m23 0h0m-93 1h0m2 0h0m7 0h0m5 0h0m6 0h0m1 0h0m32 0h0m15 0h0m10 0h0m4 0h0m-88 1h0m9 0h0m2 0h0m16 0h0m31 0h0m13 0h0m11 0h0m4 0h0m12 0h0m-106 1h0m4 0h0m2 0h0m3 0h0m8 0h0m16 0h0m9 0h0m1 0h0m30 0h0m2 0h0m17 0h0m10 0h0m-100 1h0m1 0h0m1 0h0m9 0h0m1 0h0m2 0h0m4 0h0m1 0h0m8 0h0m7 0h0m42 0h0m9 0h0m11 0h0m-99 1h0m13 0h0m9 0h0m1 0h0m13 0h0m5 0h0m2 0h0m1 0h0m27 0h0m9 0h0m22 0h0m-98 1h0m1 0h0m4 0h0m21 0h0m5 0h0m32 0h0m16 0h0m3 0h0m7 0h0m10 0h0m-78 1h0m2 0h0m1 0h0m14 0h0m2 0h0m32 0h0m18 0h0m13 0h0m-107 1h0m18 0h0m7 0h0m1 0h0m7 0h0m4 0h0m7 0h0m24 0h0m24 0h0m14 0h0m-106 1h0m4 0h0m3 0h0m15 0h0m4 0h0m5 0h0m1 0h0m3 0h0m49 0h0m5 0h0m1 0h0m5 0h0m-76 1h0m12 0h0m1 0h0m66 0h0m2 0h0m-92 1h0m3 0h0m1 0h0m1 0h0m5 0h0m2 0h0m14 0h0m54 0h0m6 0h0m2 0h0m11 0h0m-107 1h0m17 0h0m15 0h0m9 0h0m24 0h0m4 0h0m4 0h0m11 0h0m12 0h0m9 0h0m-104 1h0m1 0h0m14 0h0m7 0h0m12 0h0m4 0h0m6 0h0m25 0h0m18 0h0m5 0h0m6 0h0m8 0h0m-101 1h0m1 0h0m3 0h0m9 0h0m14 0h0m1 0h0m2 0h0m6 0h0m3 0h0m20 0h0m1 0h0m2 0h0m3 0h0m18 0h0m6 0h0m9 0h0m-104 1h0m5 0h0m5 0h0m23 0h0m35 0h0m6 0h0m17 0h0m12 0h0m1 0h0m-101 1h0m1 0h0m4 0h0m4 0h0m5 0h0m23 0h0m2 0h0m4 0h0m26 0h0m11 0h0m2 0h0m7 0h0m7 0h0m-99 1h0m8 0h0m1 0h0m5 0h0m24 0h0m1 0h0m4 0h0m9 0h0m15 0h0m10 0h0m9 0h0m2 0h0m7 0h0m3 0h0m-96 1h0m2 0h0m32 0h0m2 0h0m2 0h0m35 0h0m7 0h0m17 0h0m-96 1h0m1 0h0m6 0h0m8 0h0m1 0h0m12 0h0m21 0h0m24 0h0m1 0h0m-59 1h0m4 0h0m9 0h0m6 0h0m8 0h0m7 0h0m19 0h0m1 0h0m3 0h0m23 0h0m6 0h0m4 0h0m-106 1h0m3 0h0m5 0h0m12 0h0m1 0h0m1 0h0m1 0h0m7 0h0m1 0h0m2 0h0m7 0h0m4 0h0m1 0h0m22 0h0m12 0h0m2 0h0m1 0h0m5 0h0m5 0h0m4 0h0m8 0h0m-106 1h0m8 0h0m5 0h0m30 0h0m7 0h0m25 0h0m4 0h0m6 0h0m-83 1h0m1 0h0m3 0h0m1 0h0m4 0h0m3 0h0m3 0h0m7 0h0m1 0h0m3 0h0m11 0h0m3 0h0m6 0h0m21 0h0m4 0h0m4 0h0m4 0h0m1 0h0m-81 1h0m7 0h0m2 0h0m1 0h0m1 0h0m8 0h0m13 0h0m6 0h0m5 0h0m21 0h0m18 0h0m4 0h0m-71 1h0m11 0h0m2 0h0m17 0h0m27 0h0m2 0h0m4 0h0m1 0h0m5 0h0m2 0h0m8 0h0m12 0h0m-99 1h0m7 0h0m1 0h0m6 0h0m24 0h0m18 0h0m14 0h0m4 0h0m4 0h0m-85 1h0m3 0h0m1 0h0m2 0h0m3 0h0m1 0h0m9 0h0m45 0h0m6 0h0m12 0h0m4 0h0m2 0h0m4 0h0m1 0h0m8 0h0m-100 1h0m2 0h0m11 0h0m5 0h0m12 0h0m12 0h0m1 0h0m30 0h0m6 0h0m26 0h0m-107 1h0m2 0h0m9 0h0m1 0h0m5 0h0m2 0h0m6 0h0m17 0h0m7 0h0m15 0h0m9 0h0m7 0h0m22 0h0m-93 1h0m3 0h0m9 0h0m1 0h0m3 0h0m11 0h0m8 0h0m41 0h0m-69 1h0m5 0h0m3 0h0m2 0h0m7 0h0m15 0h0m11 0h0m20 0h0m7 0h0m1 0h0m5 0h0m10 0h0m-59 1h0m1 0h0m1 0h0m17 0h0m1 0h0m26 0h0m12 0h0m2 0h0m-102 1h0m7 0h0m1 0h0m1 0h0m4 0h0m20 0h0m1 0h0m15 0h0m15 0h0m6 0h0m10 0h0m-74 1h0m3 0h0m1 0h0m5 0h0m1 0h0m8 0h0m2 0h0m2 0h0m8 0h0m3 0h0m34 0h0m8 0h0m13 0h0m-93 1h0m2 0h0m4 0h0m7 0h0m7 0h0m5 0h0m2 0h0m3 0h0m36 0h0m7 0h0m4 0h0m18 0h0m8 0h0m-98 1h0m5 0h0m5 0h0m7 0h0m5 0h0m2 0h0m19 0h0m29 0h0m4 0h0m1 0h0m3 0h0m15 0h0m-97 1h0m5 0h0m19 0h0m3 0h0m6 0h0m2 0h0m4 0h0m4 0h0m2 0h0m20 0h0m6 0h0m15 0h0m1 0h0m2 0h0m-90 1h0m13 0h0m28 0h0m20 0h0m3 0h0m7 0h0m11 0h0m22 0h0m-100 1h0m1 0h0m27 0h0m11 0h0m36 0h0m3 0h0m8 0h0m-80 1h0m17 0h0m37 0h0m18 0h0m13 0h0m2 0h0m-76 1h0m2 0h0m2 0h0m9 0h0m30 0h0m5 0h0m18 0h0m7 0h0m-85 1h0m13 0h0m10 0h0m1 0h0m3 0h0m22 0h0m14 0h0m28 0h0m-100 1h0m3 0h0m3 0h0m15 0h0m8 0h0m8 0h0m23 0h0m3 0h0m36 0h0m-92 1h0m1 0h0m13 0h0m5 0h0m4 0h0m2 0h0m35 0h0m22 0h0m-86 1h0m3 0h0m8 0h0m6 0h0m3 0h0m1 0h0m2 0h0m1 0h0m6 0h0m9 0h0m14 0h0m3 0h0m3 0h0m2 0h0m4 0h0m12 0h0m-81 1h0m6 0h0m10 0h0m5 0h0m20 0h0m4 0h0m6 0h0m22 0h0m28 0h0m4 0h0m-104 1h0m5 0h0m7 0h0m14 0h0m15 0h0m24 0h0m2 0h0m25 0h0m-92 1h0m2 0h0m16 0h0m6 0h0m1 0h0m3 0h0m11 0h0m33 0h0m8 0h0m6 0h0m3 0h0m6 0h0m1 0h0m4 0h0m4 0h0m-107 1h0m6 0h0m4 0h0m6 0h0m7 0h0m13 0h0m4 0h0m4 0h0m2 0h0m15 0h0m9 0h0m4 0h0m9 0h0m15 0h0m-95 1h0m3 0h0m6 0h0m2 0h0m9 0h0m4 0h0m6 0h0m7 0h0m4 0h0m6 0h0m21 0h0m2 0h0m2 0h0m7 0h0m3 0h0m-86 1h0m1 0h0m8 0h0m11 0h0m24 0h0m15 0h0m35 0h0m1 0h0m8 0h0m5 0h0m-104 1h0m12 0h0m18 0h0m8 0h0m3 0h0m21 0h0m12 0h0m6 0h0m5 0h0m8 0h0m-91 1h0m1 0h0m5 0h0m1 0h0m1 0h0m9 0h0m8 0h0m16 0h0m3 0h0m35 0h0m8 0h0m7 0h0m3 0h0m-103 1h0m8 0h0m1 0h0m2 0h0m3 0h0m3 0h0m12 0h0m4 0h0m11 0h0m1 0h0m25 0h0m7 0h0m7 0h0m21 0h0m-82 1h0m6 0h0m6 0h0m1 0h0m1 0h0m4 0h0m12 0h0m3 0h0m5 0h0m3 0h0m7 0h0m11 0h0m13 0h0m2 0h0m3 0h0m-97 1h0m8 0h0m5 0h0m8 0h0m4 0h0m11 0h0m5 0h0m2 0h0m17 0h0m25 0h0m2 0h0m-87 1h0m3 0h0m1 0h0m8 0h0m1 0h0m3 0h0m10 0h0m5 0h0m1 0h0m12 0h0m2 0h0m22 0h0m7 0h0m8 0h0m5 0h0m12 0h0m-84 1h0m12 0h0m20 0h0m16 0h0m10 0h0m4 0h0m22 0h0m-122 1h0m7 0h0m7 0h0m17 0h0m15 0h0m5 0h0m2 0h0m3 0h0m26 0h0m5 0h0m2 0h0m14 0h0m15 0h0m9 0h0m1 0h0m5 0h0m1 0h0m26 0h0m15 0h0m12 0h0m4 0h0m6 0h0m2 0h0m-203 1h0m14 0h0m3 0h0m13 0h0m8 0h0m4 0h0m5 0h0m4 0h0m3 0h0m13 0h0m4 0h0m26 0h0m12 0h0m25 0h0m4 0h0m8 0h0m3 0h0m12 0h0m6 0h0m8 0h0m10 0h0m4 0h0m3 0h0m-185 1h0m29 0h0m1 0h0m6 0h0m14 0h0m28 0h0m2 0h0m15 0h0m6 0h0m8 0h0m1 0h0m7 0h0m2 0h0m25 0h0m11 0h0m7 0h0m9 0h0m1 0h0m4 0h0m5 0h0m15 0h0m-186 1h0m1 0h0m1 0h0m3 0h0m2 0h0m24 0h0m2 0h0m1 0h0m8 0h0m2 0h0m15 0h0m5 0h0m1 0h0m13 0h0m12 0h0m3 0h0m17 0h0m4 0h0m16 0h0m3 0h0m6 0h0m9 0h0m3 0h0m30 0h0m3 0h0m2 0h0m-191 1h0m12 0h0m17 0h0m4 0h0m5 0h0m10 0h0m12 0h0m16 0h0m48 0h0m7 0h0m6 0h0m38 0h0m-173 1h0m3 0h0m6 0h0m10 0h0m4 0h0m8 0h0m2 0h0m3 0h0m17 0h0m26 0h0m5 0h0m2 0h0m6 0h0m1 0h0m30 0h0m4 0h0m6 0h0m4 0h0m7 0h0m7 0h0m20 0h0m-170 1h0m3 0h0m9 0h0m3 0h0m6 0h0m4 0h0m12 0h0m15 0h0m15 0h0m3 0h0m10 0h0m12 0h0m2 0h0m3 0h0m7 0h0m9 0h0m9 0h0m20 0h0m8 0h0m13 0h0m8 0h0m45 0h0m-192 1h0m6 0h0m2 0h0m4 0h0m34 0h0m4 0h0m4 0h0m7 0h0m3 0h0m2 0h0m15 0h0m25 0h0m15 0h0m5 0h0m11 0h0m-159 1h0m17 0h0m5 0h0m18 0h0m1 0h0m1 0h0m6 0h0m2 0h0m5 0h0m13 0h0m4 0h0m9 0h0m34 0h0m3 0h0m12 0h0m28 0h0m7 0h0m8 0h0m-157 1h0m4 0h0m2 0h0m13 0h0m3 0h0m15 0h0m2 0h0m17 0h0m7 0h0m20 0h0m22 0h0m2 0h0m2 0h0m7 0h0m-119 1h0m22 0h0m3 0h0m7 0h0m3 0h0m6 0h0m22 0h0m12 0h0m4 0h0m31 0h0m6 0h0m2 0h0m1 0h0m26 0h0m3 0h0m54 0h0m-205 1h0m10 0h0m8 0h0m3 0h0m21 0h0m15 0h0m15 0h0m24 0h0m34 0h0m1 0h0m2 0h0m8 0h0m10 0h0m38 0h0m-183 1h0m3 0h0m27 0h0m5 0h0m20 0h0m9 0h0m14 0h0m1 0h0m5 0h0m1 0h0m2 0h0m18 0h0m9 0h0m-137 1h0m8 0h0m29 0h0m4 0h0m6 0h0m8 0h0m2 0h0m3 0h0m13 0h0m20 0h0m21 0h0m1 0h0m1 0h0m7 0h0m10 0h0m1 0h0m9 0h0m3 0h0m4 0h0m-144 1h0m7 0h0m24 0h0m9 0h0m8 0h0m1 0h0m8 0h0m3 0h0m1 0h0m16 0h0m9 0h0m2 0h0m4 0h0m4 0h0m1 0h0m7 0h0m19 0h0m3 0h0m26 0h0m-159 1h0m13 0h0m6 0h0m6 0h0m5 0h0m2 0h0m10 0h0m1 0h0m11 0h0m10 0h0m16 0h0m27 0h0m7 0h0m7 0h0m13 0h0m19 0h0m70 0h0m24 0h0m-227 1h0m4 0h0m13 0h0m3 0h0m6 0h0m11 0h0m7 0h0m34 0h0m8 0h0m14 0h0m4 0h0m8 0h0m110 0h0m-218 1h0m2 0h0m1 0h0m7 0h0m8 0h0m11 0h0m2 0h0m25 0h0m1 0h0m3 0h0m6 0h0m2 0h0m14 0h0m5 0h0m5 0h0m4 0h0m14 0h0m3 0h0m7 0h0m4 0h0m-147 1h0m33 0h0m19 0h0m8 0h0m2 0h0m15 0h0m32 0h0m8 0h0m10 0h0m1 0h0m2 0h0m21 0h0m-148 1h0m21 0h0m9 0h0m10 0h0m7 0h0m1 0h0m39 0h0m2 0h0m2 0h0m5 0h0m8 0h0m15 0h0m1 0h0m16 0h0m57 0h0m-163 1h0m2 0h0m10 0h0m2 0h0m9 0h0m4 0h0m13 0h0m1 0h0m4 0h0m4 0h0m3 0h0m5 0h0m10 0h0m2 0h0m6 0h0m11 0h0m3 0h0m1 0h0m25 0h0m65 0h0m-186 1h0m7 0h0m7 0h0m6 0h0m7 0h0m31 0h0m13 0h0m7 0h0m5 0h0m2 0h0m1 0h0m5 0h0m17 0h0m17 0h0m5 0h0m17 0h0m31 0h0m-178 1h0m7 0h0m3 0h0m8 0h0m5 0h0m1 0h0m5 0h0m2 0h0m11 0h0m6 0h0m4 0h0m12 0h0m9 0h0m1 0h0m3 0h0m7 0h0m2 0h0m4 0h0m18 0h0m4 0h0m70 0h0m-172 1h0m2 0h0m5 0h0m5 0h0m8 0h0m2 0h0m25 0h0m6 0h0m1 0h0m11 0h0m4 0h0m1 0h0m12 0h0m11 0h0m19 0h0m8 0h0m-104 1h0m14 0h0m23 0h0m4 0h0m12 0h0m3 0h0m-89 1h0m8 0h0m3 0h0m10 0h0m2 0h0m2 0h0m1 0h0m4 0h0m5 0h0m5 0h0m5 0h0m46 0h0m9 0h0m15 0h0m50 0h0m52 0h0m-206 1h0m31 0h0m17 0h0m11 0h0m42 0h0m1 0h0m36 0h0m-140 1h0m10 0h0m45 0h0m10 0h0m20 0h0m62 0h0m43 0h0m-185 1h0m4 0h0m1 0h0m5 0h0m3 0h0m12 0h0m5 0h0m17 0h0m3 0h0m9 0h0m9 0h0m4 0h0m1 0h0m3 0h0m101 0h0m-183 1h0m6 0h0m5 0h0m6 0h0m11 0h0m1 0h0m3 0h0m1 0h0m4 0h0m9 0h0m2 0h0m1 0h0m14 0h0m7 0h0m15 0h0m-89 1h0m14 0h0m4 0h0m16 0h0m5 0h0m8 0h0m1 0h0m5 0h0m19 0h0m8 0h0m11 0h0m5 0h0m3 0h0m63 0h0m31 0h0m-164 1h0m5 0h0m4 0h0m18 0h0m2 0h0m6 0h0m3 0h0m3 0h0m9 0h0m5 0h0m13 0h0m-83 1h0m13 0h0m13 0h0m7 0h0m4 0h0m18 0h0m6 0h0m5 0h0m1 0h0m12 0h0m10 0h0m-86 1h0m21 0h0m14 0h0m41 0h0m4 0h0m6 0h0m-88 1h0m4 0h0m2 0h0m1 0h0m1 0h0m2 0h0m5 0h0m6 0h0m2 0h0m4 0h0m5 0h0m6 0h0m1 0h0m4 0h0m19 0h0m11 0h0m10 0h0m-85 1h0m11 0h0m3 0h0m1 0h0m2 0h0m9 0h0m12 0h0m4 0h0m12 0h0m19 0h0m1 0h0m-85 1h0m12 0h0m3 0h0m1 0h0m14 0h0m1 0h0m12 0h0m5 0h0m26 0h0m-61 1h0m7 0h0m12 0h0m3 0h0m4 0h0m15 0h0m4 0h0m14 0h0m5 0h0m22 0h0m-72 1h0m3 0h0m2 0h0m22 0h0m7 0h0m24 0h0m-64 1h0m10 0h0m6 0h0m1 0h0m5 0h0m23 0h0m-70 1h0m47 1h0m18 0h0" stroke="#9c9c9c" stroke-width="3" stroke-linecap="round" fill="none"/>
<path transform="scale(0.5)" d="M576 486h0m9 1h0m-20 2h0m-23 1h0m38 0h0m6 0h0m-36 1h0m1 1h0m32 0h0m-34 2h0m37 7h0m-12 2h0m-25 1h0m10 1h0m19 0h0m-6 1h0m12 1h0m-29 4h0m13 0h0m-19 1h0m27 0h0m8 2h0m-6 1h0m8 0h0m-12 1h0m5 0h0m-38 1h0m38 0h0m-54 1h0m6 1h0m48 0h0m6 0h0m-35 1h0m27 1h0m6 0h0m2 0h0m-38 1h0m-3 1h0m38 0h0m-52 1h0m30 1h0m8 1h0m12 0h0m5 0h0m-36 1h0m27 0h0m4 0h0m6 0h0m0 1h0m-40 1h0m24 0h0m8 0h0m4 1h0m-14 2h0m9 0h0m1 0h0m3 0h0m4 0h0m-25 1h0m13 0h0m9 0h0m-39 1h0m-5 1h0m38 0h0m-9 1h0m19 0h0m-66 1h0m60 0h0m0 1h0m-54 1h0m37 0h0m8 0h0m5 0h0m2 0h0m8 0h0m-14 1h0m6 0h0m-50 1h0m21 0h0m27 0h0m6 0h0m4 0h0m-55 1h0m23 0h0m24 0h0m-8 1h0m11 0h0m-36 1h0m10 0h0m24 0h0m5 0h0m-20 1h0m10 0h0m4 0h0m1 0h0m-29 2h0m-5 1h0m13 0h0m2 0h0m14 0h0m4 0h0m7 0h0m-23 1h0m14 0h0m10 0h0m-13 1h0m13 0h0m-29 1h0m14 0h0m2 0h0m3 0h0m1 0h0m3 0h0m2 0h0m2 0h0m-12 1h0m12 0h0m-57 1h0m16 0h0m27 0h0m-18 1h0m14 0h0m10 0h0m4 0h0m-51 1h0m3 0h0m28 0h0m16 0h0m-4 1h0m2 0h0m4 0h0m8 0h0m-34 1h0m4 0h0m6 0h0m11 0h0m7 0h0m6 0h0m-44 1h0m15 0h0m4 0h0m1 0h0m13 0h0m1 0h0m-23 1h0m1 0h0m1 0h0m21 0h0m4 0h0m2 0h0m-40 1h0m31 0h0m9 0h0m1 0h0m-12 1h0m11 0h0m-42 1h0m19 0h0m16 0h0m5 0h0m6 0h0m-58 1h0m18 0h0m12 0h0m2 0h0m9 0h0m16 0h0m-28 1h0m3 0h0m3 0h0m2 0h0m3 0h0m4 0h0m1 0h0m8 0h0m4 0h0m-16 1h0m3 0h0m2 0h0m8 0h0m-28 1h0m1 0h0m7 0h0m17 0h0m2 0h0m1 0h0m-31 1h0m-24 1h0m40 0h0m9 0h0m-40 1h0m12 0h0m14 0h0m8 0h0m3 0h0m5 0h0m1 0h0m2 0h0m5 0h0m-25 1h0m1 0h0m10 0h0m13 0h0m-43 1h0m4 0h0m24 0h0m1 0h0m2 0h0m1 0h0m5 0h0m2 0h0m4 0h0m1 0h0m-53 1h0m30 0h0m5 0h0m13 0h0m-52 1h0m24 0h0m18 0h0m4 0h0m6 0h0m2 0h0m2 0h0m-35 1h0m4 0h0m30 0h0m2 0h0m-34 1h0m19 0h0m1 0h0m8 0h0m1 0h0m5 0h0m-40 1h0m9 0h0m14 0h0m4 0h0m2 0h0m-16 1h0m8 0h0m17 0h0m-32 1h0m14 0h0m1 0h0m8 0h0m-35 1h0m12 0h0m17 0h0m4 0h0m8 0h0m4 0h0m-40 1h0m4 0h0m23 0h0m-39 1h0m23 0h0m24 0h0m3 0h0m-32 1h0m15 0h0m-16 1h0m1 0h0m3 0h0m4 0h0m1 0h0m4 0h0m2 0h0m6 0h0m9 0h0m2 0h0m2 0h0m-27 1h0m12 0h0m1 0h0m9 0h0m3 0h0m3 0h0m1 0h0m-40 1h0m6 0h0m11 0h0m1 0h0m4 0h0m8 0h0m1 0h0m4 0h0m1 0h0m-27 1h0m10 0h0m10 0h0m4 0h0m5 0h0m-42 1h0m20 0h0m-15 1h0m2 0h0m2 0h0m11 0h0m6 0h0m8 0h0m-10 1h0m11 0h0m4 0h0m1 0h0m-46 1h0m7 0h0m4 0h0m6 0h0m1 0h0m7 0h0m5 0h0m6 0h0m12 0h0m-42 1h0m6 0h0m3 0h0m1 0h0m19 0h0m1 0h0m4 0h0m3 0h0m8 0h0m-39 1h0m10 0h0m3 0h0m5 0h0m2 0h0m1 0h0m5 0h0m3 0h0m8 0h0m-31 1h0m5 0h0m3 0h0m19 0h0m6 0h0m-49 1h0m10 0h0m2 0h0m15 0h0m10 0h0m3 0h0m5 0h0m2 0h0m1 0h0m-43 1h0m37 0h0m1 0h0m3 0h0m1 0h0m-43 1h0m26 0h0m2 0h0m-45 1h0m19 0h0m5 0h0m7 0h0m4 0h0m13 0h0m6 0h0m4 0h0m-56 1h0m8 0h0m20 0h0m6 0h0m8 0h0m1 0h0m15 0h0m-41 1h0m2 0h0m16 0h0m1 0h0m4 0h0m4 0h0m2 0h0m1 0h0m1 0h0m2 0h0m3 0h0m-37 1h0m5 0h0m9 0h0m4 0h0m2 0h0m12 0h0m-34 1h0m7 0h0m7 0h0m8 0h0m2 0h0m13 0h0m-46 1h0m4 0h0m4 0h0m6 0h0m15 0h0m19 0h0m-31 1h0m7 0h0m7 0h0m18 0h0m2 0h0m-37 1h0m7 0h0m1 0h0m20 0h0m3 0h0m4 0h0m-21 1h0m3 0h0m8 0h0m10 0h0m-36 1h0m5 0h0m5 0h0m6 0h0m3 0h0m6 0h0m2 0h0m-30 1h0m1 0h0m18 0h0m17 0h0m5 0h0m-47 1h0m7 0h0m32 0h0m-39 1h0m10 0h0m8 0h0m4 0h0m6 0h0m3 0h0m1 0h0m9 0h0m2 0h0m3 0h0m3 0h0m-61 1h0m11 0h0m24 0h0m3 0h0m3 0h0m1 0h0m16 0h0m-39 1h0m2 0h0m9 0h0m1 0h0m-4 1h0m7 0h0m10 0h0m2 0h0m6 0h0m7 0h0m-47 1h0m2 0h0m3 0h0m1 0h0m5 0h0m2 0h0m8 0h0m10 0h0m6 0h0m6 0h0m4 0h0m3 0h0m-63 1h0m20 0h0m18 0h0m9 0h0m4 0h0m-47 1h0m21 0h0m2 0h0m18 0h0m6 0h0m7 0h0m-32 1h0m3 0h0m2 0h0m6 0h0m1 0h0m4 0h0m1 0h0m1 0h0m7 0h0m4 0h0m3 0h0m-43 1h0m3 0h0m9 0h0m4 0h0m7 0h0m2 0h0m3 0h0m7 0h0m-40 1h0m15 0h0m7 0h0m8 0h0m5 0h0m4 0h0m6 0h0m1 0h0m2 0h0m5 0h0m-8 1h0m-24 1h0m12 0h0m5 0h0m1 0h0m11 0h0m-42 1h0m4 0h0m3 0h0m7 0h0m4 0h0m8 0h0m5 0h0m7 0h0m2 0h0m-49 1h0m19 0h0m2 0h0m10 0h0m13 0h0m-44 1h0m2 0h0m16 0h0m2 0h0m3 0h0m5 0h0m7 0h0m3 0h0m13 0h0m1 0h0m1 0h0m-66 1h0m19 0h0m11 0h0m5 0h0m25 0h0m-32 1h0m8 0h0m7 0h0m8 0h0m16 0h0m-49 1h0m25 0h0m-13 1h0m6 0h0m10 0h0m10 0h0m5 0h0m-39 1h0m5 0h0m17 0h0m7 0h0m5 0h0m1 0h0m10 0h0m-55 1h0m4 0h0m23 0h0m6 0h0m3 0h0m3 0h0m2 0h0m-53 1h0m19 0h0m1 0h0m5 0h0m2 0h0m2 0h0m8 0h0m5 0h0m21 0h0m-67 1h0m21 0h0m29 0h0m11 0h0m-15 1h0m7 0h0m7 0h0m2 0h0m5 0h0m2 0h0m-45 1h0m13 0h0m5 0h0m6 0h0m4 0h0m1 0h0m17 0h0m-70 1h0m14 0h0m9 0h0m21 0h0m4 0h0m6 0h0m16 0h0m-57 1h0m29 0h0m9 0h0m5 0h0m5 0h0m5 0h0m-46 1h0m3 0h0m15 0h0m2 0h0m1 0h0m6 0h0m6 0h0m1 0h0m3 0h0m2 0h0m4 0h0m3 0h0m-41 1h0m10 0h0m10 0h0m6 0h0m14 0h0m2 0h0m3 0h0m1 0h0m-43 1h0m14 0h0m1 0h0m16 0h0m4 0h0m8 0h0m-68 1h0m13 0h0m17 0h0m8 0h0m9 0h0m6 0h0m11 0h0m2 0h0m-38 1h0m2 0h0m5 0h0m3 0h0m15 0h0m-12 1h0m16 0h0m2 0h0m1 0h0m-47 1h0m10 0h0m9 0h0m6 0h0m4 0h0m8 0h0m-33 1h0m9 0h0m8 0h0m11 0h0m6 0h0m1 0h0m-33 1h0m3 0h0m20 0h0m3 0h0m5 0h0m7 0h0m5 0h0m5 0h0m-49 1h0m7 0h0m20 0h0m3 0h0m7 0h0m5 0h0m2 0h0m5 0h0m-53 1h0m36 0h0m-39 1h0m15 0h0m26 0h0m5 0h0m5 0h0m-55 1h0m10 0h0m5 0h0m10 0h0m7 0h0m1 0h0m3 0h0m24 0h0m-54 1h0m4 0h0m5 0h0m1 0h0m2 0h0m9 0h0m5 0h0m3 0h0m4 0h0m1 0h0m-22 1h0m5 0h0m6 0h0m1 0h0m5 0h0m15 0h0m5 1h0m-46 1h0m4 0h0m3 0h0m2 0h0m2 0h0m5 0h0m3 0h0m1 0h0m19 0h0m1 0h0m-41 1h0m22 0h0m2 0h0m17 0h0m2 0h0m2 0h0m-43 1h0m21 0h0m9 0h0m3 0h0m3 0h0m5 0h0m-46 1h0m6 0h0m20 0h0m11 0h0m10 0h0m6 0h0m3 0h0m-70 1h0m28 0h0m2 0h0m14 0h0m1 0h0m4 0h0m12 0h0m2 0h0m4 0h0m-38 1h0m1 0h0m8 0h0m2 0h0m9 0h0m13 0h0m3 0h0m-64 1h0m31 0h0m30 0h0m-54 1h0m19 0h0m10 0h0m7 0h0m5 0h0m1 0h0m7 0h0m1 0h0m7 0h0m-62 1h0m13 0h0m25 0h0m24 0h0m1 0h0m-39 1h0m18 0h0m2 0h0m5 0h0m1 0h0m13 0h0m-33 1h0m10 0h0m19 0h0m-42 1h0m5 1h0m3 0h0m12 0h0m6 0h0m1 0h0m1 0h0m3 0h0m8 0h0m7 0h0m-45 1h0m29 0h0m10 0h0m7 0h0m-55 1h0m13 0h0m16 0h0m24 0h0m-36 1h0m27 0h0m13 0h0m-47 1h0m16 0h0m4 0h0m17 0h0m3 0h0m-61 1h0m18 0h0m5 0h0m6 0h0m5 0h0m1 0h0m3 0h0m1 0h0m3 0h0m3 0h0m13 0h0m3 0h0m6 0h0m2 0h0m-54 1h0m1 0h0m1 0h0m5 0h0m6 0h0m9 0h0m3 0h0m1 0h0m4 0h0m2 0h0m13 0h0m6 0h0m3 0h0m-52 1h0m3 0h0m19 0h0m9 0h0m1 0h0m2 0h0m2 0h0m2 0h0m1 0h0m2 0h0m1 0h0m2 0h0m-16 1h0m14 0h0m-34 1h0m27 0h0m6 0h0m-35 1h0m7 0h0m3 0h0m26 0h0m6 0h0m-43 1h0m17 0h0m3 0h0m1 0h0m17 0h0m1 0h0m2 0h0m2 0h0m-32 1h0m8 0h0m4 0h0m9 0h0m6 0h0m1 0h0m-37 1h0m1 0h0m18 0h0m4 0h0m1 0h0m3 0h0m8 0h0m-41 1h0m3 0h0m1 0h0m5 0h0m8 0h0m23 0h0m5 0h0m5 0h0m2 0h0m-55 1h0m6 0h0m2 0h0m4 0h0m10 0h0m7 0h0m4 0h0m4 0h0m1 0h0m11 0h0m-22 1h0m1 0h0m2 0h0m5 0h0m12 0h0m-40 1h0m6 0h0m9 0h0m6 0h0m7 0h0m4 0h0m2 0h0m3 0h0m4 0h0m2 0h0m4 0h0m-53 1h0m6 0h0m2 0h0m21 0h0m8 0h0m-31 1h0m2 0h0m5 0h0m10 0h0m14 0h0m16 0h0m-46 1h0m3 0h0m10 0h0m1 0h0m5 0h0m19 0h0m7 0h0m1 0h0m-49 1h0m6 0h0m6 0h0m3 0h0m11 0h0m16 0h0m-61 1h0m10 0h0m18 0h0m13 0h0m9 0h0m-30 1h0m2 0h0m9 0h0m15 0h0m6 0h0m3 0h0m1 0h0m9 0h0m-61 1h0m32 0h0m13 0h0m7 0h0m3 0h0m5 0h0m1 0h0m3 0h0m-59 1h0m25 0h0m2 0h0m24 0h0m9 0h0m-52 1h0m19 0h0m8 0h0m9 0h0m-18 1h0m17 0h0m12 0h0m1 0h0m1 0h0m-47 1h0m3 0h0m21 0h0m13 0h0m-36 1h0m-1 1h0m2 0h0m11 0h0m35 0h0m-62 1h0m26 0h0m20 0h0m5 0h0m7 0h0m-34 1h0m2 0h0m16 0h0m11 0h0m-28 1h0m1 0h0m4 0h0m10 0h0m21 0h0m-50 1h0m5 0h0m11 0h0m5 0h0m5 0h0m15 0h0m10 0h0m-53 1h0m17 0h0m6 0h0m3 0h0m14 0h0m10 0h0m4 0h0m-40 1h0m21 0h0m-24 1h0m6 0h0m1 0h0m5 0h0m1 0h0m8 0h0m6 0h0m16 0h0m-41 1h0m19 0h0m9 0h0m2 0h0m2 0h0m4 0h0m-37 1h0m15 0h0m4 0h0m12 0h0m-13 1h0m6 0h0m2 0h0m13 0h0m-51 1h0m17 0h0m12 0h0m7 0h0m9 0h0m-31 1h0m3 0h0m3 0h0m4 0h0m15 0h0m-26 1h0m19 0h0m8 0h0m12 0h0m-27 1h0m17 0h0m-28 1h0m4 0h0m13 0h0m-25 1h0m7 0h0m36 0h0m2 0h0m1 0h0m2 0h0m-35 1h0m4 0h0m5 0h0m16 0h0m-34 1h0m14 0h0m2 0h0m3 0h0m3 0h0m5 0h0m8 0h0m8 0h0m-44 1h0m3 0h0m10 0h0m12 0h0m5 0h0m-28 1h0m5 0h0m13 0h0m2 0h0m18 0h0m-40 1h0m14 0h0m18 0h0m4 0h0m6 0h0m3 0h0m-10 1h0m2 0h0m1 0h0m-40 1h0m4 0h0m3 0h0m1 0h0m24 0h0m7 0h0m3 0h0m-37 1h0m8 0h0m18 0h0m16 0h0m-43 1h0m4 0h0m21 0h0m11 0h0m1 0h0m4 0h0m-39 1h0m9 0h0m12 0h0m5 0h0m2 0h0m8 0h0m5 0h0m-38 1h0m5 0h0m5 0h0m12 0h0m11 0h0m-29 1h0m11 0h0m4 0h0m5 0h0m1 0h0m3 0h0m-16 1h0m9 0h0m8 0h0m6 0h0m1 0h0m-24 1h0m3 0h0m4 0h0m3 0h0m2 0h0m9 0h0m-31 1h0m2 0h0m4 0h0m15 0h0m2 0h0m-5 1h0m1 0h0m2 0h0m5 0h0m5 0h0m-25 1h0m1 0h0m13 0h0m13 0h0m2 0h0m-10 1h0m-17 1h0m23 0h0m1 0h0m-16 1h0m-4 1h0m13 0h0m3 0h0m1 0h0m-3 1h0m8 0h0m1 0h0m-16 1h0m1 0h0m8 0h0m5 0h0m-11 1h0m3 0h0m2 0h0m4 0h0m-16 1h0m4 0h0m2 0h0m3 0h0m6 0h0" stroke="#3f2a80" stroke-width="3.4" stroke-linecap="round" fill="none"/>
<path transform="scale(0.5)" d="M701 584h0m23 6h0m-21 2h0m-7 1h0m30 1h0m-9 1h0m10 1h0m-4 5h0m12 2h0m-10 2h0m29 1h0m-47 1h0m-3 3h0m0 1h0m2 0h0m13 0h0m12 0h0m31 0h0m-66 1h0m6 0h0m4 0h0m1 0h0m5 0h0m8 0h0m11 0h0m-31 1h0m9 0h0m4 0h0m-16 1h0m6 0h0m-6 1h0m0 1h0m5 0h0m1 0h0m-2 1h0m11 0h0m52 0h0m-59 1h0m38 0h0m-43 1h0m58 0h0m13 0h0m-66 1h0m5 0h0m13 0h0m-21 1h0m5 0h0m5 0h0m-9 1h0m1 0h0m14 0h0m3 0h0m42 0h0m-61 1h0m5 0h0m5 0h0m2 0h0m-16 1h0m10 0h0m14 0h0m7 0h0m-31 1h0m3 0h0m5 0h0m13 0h0m1 1h0m29 0h0m-51 1h0m1 0h0m1 0h0m4 0h0m14 0h0m10 0h0m-23 1h0m18 0h0m-13 1h0m17 0h0m-26 1h0m1 0h0m17 0h0m6 0h0m13 0h0m27 0h0m-68 1h0m22 0h0m2 0h0m1 0h0m-15 1h0m68 0h0m-57 1h0m5 0h0m10 0h0m-17 1h0m6 0h0m3 0h0m2 0h0m3 0h0m9 0h0m23 0h0m-64 1h0m1 0h0m20 0h0m7 0h0m-23 1h0m9 0h0m1 0h0m3 0h0m8 0h0m7 0h0m-15 1h0m4 0h0m6 0h0m3 0h0m7 0h0m37 0h0m-75 1h0m7 0h0m6 0h0m6 0h0m5 0h0m11 0h0m-34 1h0m1 0h0m1 0h0m35 0h0m10 0h0m-40 1h0m1 0h0m1 0h0m6 0h0m1 0h0m10 0h0m19 0h0m2 0h0m-46 1h0m11 0h0m2 0h0m8 0h0m11 0h0m4 0h0m1 0h0m1 0h0m-32 1h0m2 0h0m1 0h0m2 0h0m9 0h0m-24 1h0m6 0h0m2 0h0m4 0h0m8 0h0m10 0h0m3 0h0m7 0h0m-38 1h0m3 0h0m7 0h0m7 0h0m16 0h0m12 0h0m45 0h0m-62 1h0m4 0h0m7 0h0m-37 1h0m11 0h0m5 0h0m20 0h0m7 0h0m-32 1h0m4 0h0m2 0h0m9 0h0m11 0h0m-40 1h0m13 0h0m6 0h0m3 0h0m5 0h0m12 0h0m2 0h0m14 0h0m-54 1h0m21 0h0m2 0h0m9 0h0m3 0h0m8 0h0m1 0h0m4 0h0m-43 1h0m1 0h0m2 0h0m11 0h0m14 0h0m7 0h0m4 0h0m7 0h0m-53 1h0m11 0h0m2 0h0m5 0h0m3 0h0m7 0h0m2 0h0m2 0h0m3 0h0m3 0h0m1 0h0m5 0h0m3 0h0m9 0h0m-52 1h0m5 0h0m3 0h0m2 0h0m3 0h0m10 0h0m2 0h0m12 0h0m8 0h0m4 0h0m37 0h0m-89 1h0m4 0h0m8 0h0m1 0h0m3 0h0m4 0h0m3 0h0m4 0h0m17 0h0m2 0h0m4 0h0m-34 1h0m10 0h0m17 0h0m4 0h0m10 0h0m-43 1h0m2 0h0m4 0h0m10 0h0m10 0h0m6 0h0m-47 1h0m34 0h0m7 0h0m10 0h0m3 0h0m13 0h0m-64 1h0m27 0h0m9 0h0m11 0h0m56 0h0m-96 1h0m1 0h0m24 0h0m1 0h0m8 0h0m1 0h0m50 0h0m-92 1h0m19 0h0m5 0h0m4 0h0m6 0h0m16 0h0m1 0h0m3 0h0m10 0h0m-63 1h0m10 0h0m1 0h0m16 0h0m3 0h0m3 0h0m13 0h0m-48 1h0m15 0h0m4 0h0m11 0h0m5 0h0m4 0h0m26 0h0m33 0h0m-100 1h0m2 0h0m6 0h0m24 0h0m15 0h0m16 0h0m2 0h0m-42 1h0m4 0h0m2 0h0m14 0h0m20 0h0m19 0h0m1 0h0m-82 1h0m14 0h0m3 0h0m15 0h0m25 0h0m2 0h0m42 0h0m-89 1h0m2 0h0m25 0h0m24 0h0m-63 1h0m8 0h0m14 0h0m5 0h0m6 0h0m19 0h0m6 0h0m-57 1h0m18 0h0m38 0h0m11 0h0m-62 1h0m8 0h0m6 0h0m1 0h0m2 0h0m4 0h0m11 0h0m-39 1h0m3 0h0m15 0h0m7 0h0m9 0h0m4 0h0m4 0h0m1 0h0m12 0h0m13 0h0m9 0h0m-70 1h0m4 0h0m2 0h0m22 0h0m12 0h0m1 0h0m12 0h0m2 0h0m-59 1h0m17 0h0m2 0h0m23 0h0m6 0h0m12 0h0m-59 1h0m4 0h0m41 0h0m-42 1h0m9 0h0m1 0h0m6 0h0m8 0h0m20 0h0m8 0h0m17 0h0m-21 1h0m2 0h0m-19 1h0m15 0h0m-33 1h0m5 0h0m11 0h0m22 0h0m7 0h0m-54 1h0m8 0h0m1 0h0m10 0h0m16 0h0m6 0h0m27 0h0m3 0h0m-65 1h0m2 0h0m19 0h0m5 0h0m5 0h0m3 0h0m-52 1h0m10 0h0m35 0h0m-43 1h0m9 0h0m15 0h0m1 0h0m7 0h0m2 0h0m5 0h0m2 0h0m10 0h0m7 0h0m-55 1h0m2 0h0m30 0h0m9 0h0m11 0h0m19 0h0m15 0h0m-89 1h0m22 0h0m32 0h0m4 0h0m1 0h0m7 0h0m-65 1h0m8 0h0m2 0h0m12 0h0m2 0h0m13 0h0m24 0h0m-55 1h0m2 0h0m5 0h0m21 0h0m33 0h0m19 0h0m-84 1h0m11 0h0m16 0h0m22 0h0m4 0h0m2 0h0m3 0h0m3 0h0m-61 1h0m12 0h0m3 0h0m2 0h0m5 0h0m3 0h0m2 0h0m1 0h0m2 0h0m38 0h0m1 0h0m-72 1h0m12 0h0m1 0h0m2 0h0m4 0h0m5 0h0m5 0h0m22 0h0m11 0h0m9 0h0m2 0h0m-52 1h0m3 0h0m2 0h0m22 0h0m-42 1h0m1 0h0m7 0h0m4 0h0m15 0h0m3 0h0m14 0h0m1 0h0m5 0h0m2 0h0m13 0h0m12 0h0m-68 1h0m10 0h0m16 0h0m6 0h0m-46 1h0m10 0h0m6 0h0m27 0h0m3 0h0m9 0h0m2 0h0m-53 1h0m3 0h0m5 0h0m3 0h0m1 0h0m4 0h0m2 0h0m4 0h0m16 0h0m7 0h0m3 0h0m-51 1h0m1 0h0m19 0h0m11 0h0m7 0h0m2 0h0m9 0h0m1 0h0m7 0h0m7 0h0m1 0h0m13 0h0m-77 1h0m2 0h0m2 0h0m23 0h0m5 0h0m2 0h0m17 0h0m51 0h0m16 0h0m-114 1h0m1 0h0m5 0h0m30 0h0m18 0h0m-58 1h0m6 0h0m4 0h0m2 0h0m12 0h0m3 0h0m1 0h0m4 0h0m3 0h0m10 0h0m1 0h0m8 0h0m4 0h0m13 0h0m-54 1h0m16 0h0m2 0h0m12 0h0m4 0h0m4 0h0m12 0h0m-69 1h0m4 0h0m1 0h0m8 0h0m3 0h0m1 0h0m3 0h0m9 0h0m14 0h0m5 0h0m5 0h0m8 0h0m7 0h0m1 0h0m1 0h0m34 0h0m-88 1h0m1 0h0m8 0h0m34 0h0m9 0h0m45 0h0m-106 1h0m25 0h0m4 0h0m22 0h0m5 0h0m2 0h0m3 0h0m5 0h0m-46 1h0m10 0h0m25 0h0m9 0h0m-59 1h0m2 0h0m3 0h0m8 0h0m2 0h0m7 0h0m3 0h0m7 0h0m19 0h0m5 0h0m53 0h0m-118 1h0m24 0h0m22 0h0m-44 1h0m22 0h0m7 0h0m2 0h0m16 0h0m9 0h0m14 0h0m12 0h0m6 0h0m35 0h0m-108 1h0m62 0h0m-83 1h0m3 0h0m20 0h0m9 0h0m7 0h0m1 0h0m12 0h0m1 0h0m4 0h0m6 0h0m8 0h0m-56 1h0m37 0h0m15 0h0m40 0h0m-105 1h0m16 0h0m2 0h0m6 0h0m1 0h0m2 0h0m5 0h0m4 0h0m10 0h0m1 0h0m9 0h0m2 0h0m3 0h0m5 0h0m11 0h0m38 0h0m-86 1h0m10 0h0m11 0h0m22 0h0m5 0h0m-62 1h0m6 0h0m25 0h0m1 0h0m12 0h0m-61 1h0m1 0h0m9 0h0m6 0h0m11 0h0m2 0h0m18 0h0m1 0h0m4 0h0m1 0h0m11 0h0m-56 1h0m4 0h0m5 0h0m4 0h0m19 0h0m1 0h0m6 0h0m14 0h0m7 0h0m-68 1h0m13 0h0m3 0h0m5 0h0m4 0h0m1 0h0m3 0h0m5 0h0m10 0h0m8 0h0m4 0h0m2 0h0m4 0h0m3 0h0m64 0h0m-123 1h0m5 0h0m17 0h0m12 0h0m13 0h0m10 0h0m12 0h0m2 0h0m-35 1h0m17 0h0m3 0h0m3 0h0m6 0h0m-73 1h0m16 0h0m2 0h0m1 0h0m8 0h0m20 0h0m23 0h0m4 0h0m2 0h0m49 0h0m-112 1h0m9 0h0m6 0h0m14 0h0m2 0h0m4 0h0m17 0h0m2 0h0m6 0h0m21 0h0m-85 1h0m35 0h0m1 0h0m35 0h0m2 0h0m-65 1h0m3 0h0m31 0h0m15 0h0m2 0h0m13 0h0m1 0h0m6 0h0m-57 1h0m2 0h0m2 0h0m2 0h0m19 0h0m1 0h0m4 0h0m16 0h0m2 0h0m2 0h0m36 0h0m-110 1h0m7 0h0m3 0h0m12 0h0m16 0h0m5 0h0m6 0h0m15 0h0m15 0h0m-82 1h0m3 0h0m2 0h0m3 0h0m7 0h0m1 0h0m6 0h0m7 0h0m9 0h0m24 0h0m2 0h0m4 0h0m11 0h0m2 0h0m12 0h0m-94 1h0m9 0h0m14 0h0m2 0h0m16 0h0m18 0h0m16 0h0m5 0h0m42 0h0m-123 1h0m2 0h0m3 0h0m1 0h0m7 0h0m10 0h0m1 0h0m2 0h0m3 0h0m20 0h0m5 0h0m10 0h0m9 0h0m2 0h0m12 0h0m13 0h0m-84 1h0m1 0h0m9 0h0m1 0h0m7 0h0m5 0h0m17 0h0m15 0h0m4 0h0m3 0h0m12 0h0m4 0h0m-84 1h0m7 0h0m13 0h0m6 0h0m48 0h0m4 0h0m-89 1h0m3 0h0m28 0h0m1 0h0m20 0h0m1 0h0m12 0h0m2 0h0m13 0h0m-80 1h0m6 0h0m1 0h0m3 0h0m14 0h0m2 0h0m3 0h0m16 0h0m12 0h0m6 0h0m6 0h0m2 0h0m8 0h0m1 0h0m-80 1h0m7 0h0m12 0h0m14 0h0m16 0h0m9 0h0m7 0h0m9 0h0m9 0h0m1 0h0m-85 1h0m36 0h0m9 0h0m6 0h0m9 0h0m6 0h0m32 0h0m-84 1h0m3 0h0m6 0h0m7 0h0m10 0h0m12 0h0m8 0h0m16 0h0m-73 1h0m1 0h0m33 0h0m9 0h0m7 0h0m11 0h0m-61 1h0m18 0h0m9 0h0m12 0h0m5 0h0m5 0h0m3 0h0m7 0h0m5 0h0m9 0h0m7 0h0m4 0h0m-80 1h0m31 0h0m22 0h0m6 0h0m9 0h0m-70 1h0m26 0h0m9 0h0m1 0h0m6 0h0m9 0h0m13 0h0m3 0h0m2 0h0m4 0h0m1 0h0m28 0h0" stroke="#f59b62" stroke-width="3.2" stroke-linecap="round" fill="none"/>
<text x="268.8" y="248.4" font-size="4.7" fill="#3b2a85">TCF7</text>
<text x="284.6" y="255.9" font-size="4.7" fill="#3b2a85">ZNF683</text>
<text x="264.4" y="279.7" font-size="4.7" fill="#3b2a85">RUNX2</text>
<text x="287" y="293" font-size="4.7" fill="#3b2a85">STAT4</text>
<text x="296" y="293" font-size="4.7" fill="#3b2a85">EPB41</text>
<text x="293.5" y="307.9" font-size="4.7" fill="#3b2a85">ZBTB7B</text>
<text x="293.5" y="314.3" font-size="4.7" fill="#3b2a85">TCF7L1</text>
<text x="293.5" y="320.4" font-size="4.7" fill="#3b2a85">ZNF341</text>
<text x="293.5" y="326.5" font-size="4.7" fill="#3b2a85">BACH2</text>
<text x="293.5" y="332.2" font-size="4.7" fill="#3b2a85">IRX3</text>
<text x="305.6" y="336.8" font-size="4.7" fill="#3b2a85">TSHZ3</text>
<text x="293.5" y="342.5" font-size="4.7" fill="#3b2a85">FOXN3</text>
<text x="293.5" y="348.3" font-size="4.7" fill="#3b2a85">ELF3</text>
<text x="256.5" y="314.2" font-size="4.7" fill="#3b2a85">SCML4</text>
<text x="254.8" y="320.6" font-size="4.7" fill="#3b2a85">TRERF1</text>
<text x="259" y="327.3" font-size="4.7" fill="#3b2a85">DMRT1</text>
<text x="262" y="333" font-size="4.7" fill="#3b2a85">SESN3</text>
<text x="265" y="339" font-size="4.7" fill="#3b2a85">SOX4</text>
<text x="260" y="352" font-size="4.7" fill="#3b2a85">TET2</text>
<text x="272" y="359" font-size="4.7" fill="#3b2a85">LMO4</text>
<text x="357" y="297.5" font-size="4.7" fill="#f0955a">TCF20</text>
<text x="340.9" y="302" font-size="4.7" fill="#f0955a">HIF1A</text>
<text x="337" y="308" font-size="4.7" fill="#f0955a">NFAT5</text>
<text x="352" y="308" font-size="4.7" fill="#f0955a">ATF7</text>
<text x="333" y="314" font-size="4.7" fill="#f0955a">MEF2D</text>
<text x="350" y="314.5" font-size="4.7" fill="#f0955a">NFATC1</text>
<text x="345" y="320.5" font-size="4.7" fill="#f0955a">BCL6</text>
<text x="360" y="325" font-size="4.7" fill="#f0955a">PTTG1</text>
<text x="321" y="331" font-size="4.7" fill="#f0955a">HIVEP2</text>
<text x="323.4" y="338" font-size="4.7" fill="#f0955a">ZNF367</text>
<text x="318" y="344" font-size="4.7" fill="#f0955a">ZNF451</text>
<text x="336" y="344" font-size="4.7" fill="#f0955a">CREB3</text>
<text x="327" y="350" font-size="4.7" fill="#f0955a">NFX1</text>
<text x="323" y="356.5" font-size="4.7" fill="#f0955a">BACH1</text>
<text x="332" y="356.5" font-size="4.7" fill="#f0955a">TGIF1</text>
<text x="318" y="362.5" font-size="4.7" fill="#f0955a">ARID3A</text>
<text x="337" y="362.5" font-size="4.7" fill="#f0955a">PRDM1</text>
<text x="328" y="368.5" font-size="4.7" fill="#f0955a">RUNX1</text>
<text x="318" y="379" font-size="4.7" fill="#f0955a">POLDIP3</text>
<text x="387.6" y="328.8" font-size="4.7" fill="#f0955a">ZNF223</text>
<text x="377" y="335" font-size="4.7" fill="#f0955a">ZNF263</text>
<text x="393" y="335" font-size="4.7" fill="#f0955a">NR3C1</text>
<text x="387" y="341" font-size="4.7" fill="#f0955a">ZNF230</text>
<text x="383" y="347" font-size="4.7" fill="#f0955a">NR2E3</text>
<text x="381" y="353" font-size="4.7" fill="#f0955a">TCEB2</text>
<text x="386" y="359.5" font-size="4.7" fill="#f0955a">ZHX3</text>
<text x="395" y="365.5" font-size="4.7" fill="#f0955a">SOCS6</text>
<path d="M271.8 312.6L287 312M271.8 319L288 318.5M272.8 325.6L286 325M271 350.5L278 353M302 330.5L305.5 334.6" stroke="#3b2a85" stroke-width="0.45" fill="none"/>
<path d="M344 342.5L357 343M333 355L346 355M336 361L348 360M331 367L345 366M344.5 342.5L360 340M347 355L362 352M351 361L365 358M337 343.5L350 346M340 330L352 332M342 337L355 338M375 334L392 333M387 340L376 343M392 327L380 330" stroke="#f0955a" stroke-width="0.45" fill="none"/>
<line x1="293.3" y1="234" x2="293.3" y2="394.8" stroke="#e8403f" stroke-width="0.85"/>
<line x1="347.7" y1="234" x2="347.7" y2="394.8" stroke="#e8403f" stroke-width="0.85"/>
<line x1="244.4" y1="367.8" x2="454.8" y2="367.8" stroke="#e8403f" stroke-width="0.85"/>
</g>
<text x="252.5" y="400" font-size="4.0" text-anchor="middle" fill="#444">−2.5</text>
<text x="320.5" y="400" font-size="4.0" text-anchor="middle" fill="#444">0.0</text>
<text x="388.5" y="400" font-size="4.0" text-anchor="middle" fill="#444">2.5</text>
<text x="243.2" y="388.8" font-size="4.0" text-anchor="end" fill="#444">0.0</text>
<text x="243.2" y="351" font-size="4.0" text-anchor="end" fill="#444">2.5</text>
<text x="243.2" y="313.3" font-size="4.0" text-anchor="end" fill="#444">5.0</text>
<text x="243.2" y="275.5" font-size="4.0" text-anchor="end" fill="#444">7.5</text>
<text x="243.2" y="237.8" font-size="4.0" text-anchor="end" fill="#444">10.0</text>
<text x="317.5" y="229.8" font-size="11.7">H3K4me2</text>
<text x="350" y="403.6" font-size="4.6" text-anchor="middle" fill="#333">logFC</text>
<text transform="translate(233.8,314.3) rotate(-90)" font-size="4.7" text-anchor="middle" fill="#222">-log10(adj.P.Val)</text>
<defs><clipPath id="cv3"><rect x="469.9" y="234" width="213.6" height="160.8"/></clipPath></defs>
<defs><clipPath id="cv3p"><rect x="0" y="0" width="538" height="370.9"/></clipPath><clipPath id="cv3o"><rect x="609" y="0" width="700" height="370.9"/></clipPath></defs>
<g clip-path="url(#cv3)">
<line x1="484.8" y1="234" x2="484.8" y2="394.8" stroke="#f5f5f5" stroke-width="0.5"/>
<line x1="520.2" y1="234" x2="520.2" y2="394.8" stroke="#f5f5f5" stroke-width="0.5"/>
<line x1="555.8" y1="234" x2="555.8" y2="394.8" stroke="#f5f5f5" stroke-width="0.5"/>
<line x1="591.2" y1="234" x2="591.2" y2="394.8" stroke="#f5f5f5" stroke-width="0.5"/>
<line x1="626.8" y1="234" x2="626.8" y2="394.8" stroke="#f5f5f5" stroke-width="0.5"/>
<line x1="662.2" y1="234" x2="662.2" y2="394.8" stroke="#f5f5f5" stroke-width="0.5"/>
<line x1="469.9" y1="368.4" x2="683.5" y2="368.4" stroke="#f5f5f5" stroke-width="0.5"/>
<line x1="469.9" y1="330.3" x2="683.5" y2="330.3" stroke="#f5f5f5" stroke-width="0.5"/>
<line x1="469.9" y1="292.3" x2="683.5" y2="292.3" stroke="#f5f5f5" stroke-width="0.5"/>
<line x1="469.9" y1="254.3" x2="683.5" y2="254.3" stroke="#f5f5f5" stroke-width="0.5"/>
<line x1="467" y1="234" x2="467" y2="394.8" stroke="#ebebeb" stroke-width="0.8"/>
<line x1="502.5" y1="234" x2="502.5" y2="394.8" stroke="#ebebeb" stroke-width="0.8"/>
<line x1="538" y1="234" x2="538" y2="394.8" stroke="#ebebeb" stroke-width="0.8"/>
<line x1="573.5" y1="234" x2="573.5" y2="394.8" stroke="#ebebeb" stroke-width="0.8"/>
<line x1="609" y1="234" x2="609" y2="394.8" stroke="#ebebeb" stroke-width="0.8"/>
<line x1="644.5" y1="234" x2="644.5" y2="394.8" stroke="#ebebeb" stroke-width="0.8"/>
<line x1="680" y1="234" x2="680" y2="394.8" stroke="#ebebeb" stroke-width="0.8"/>
<line x1="469.9" y1="387.4" x2="683.5" y2="387.4" stroke="#ebebeb" stroke-width="0.8"/>
<line x1="469.9" y1="349.4" x2="683.5" y2="349.4" stroke="#ebebeb" stroke-width="0.8"/>
<line x1="469.9" y1="311.3" x2="683.5" y2="311.3" stroke="#ebebeb" stroke-width="0.8"/>
<line x1="469.9" y1="273.3" x2="683.5" y2="273.3" stroke="#ebebeb" stroke-width="0.8"/>
<line x1="469.9" y1="235.2" x2="683.5" y2="235.2" stroke="#ebebeb" stroke-width="0.8"/>
<path d="M518 371L515.9 365.4L517.7 352.6L525 334.2L530.6 315.9L537.4 303L548 315.9L557.5 321.4L564.9 334.2L566.7 343.4L569.4 361.7L572.6 382L573 386L550 386L537 382L525 376Z" fill="#9c9c9c" fill-opacity="0.8"/>
<path d="M518 371L515.9 365.4L517.7 352.6L525 334.2L530.6 315.9L537.4 303L548 315.9L557.5 321.4L564.9 334.2L566.7 343.4L569.4 361.7L572.6 382L573 386L550 386L537 382L525 376Z" fill="#fff" clip-path="url(#cv3p)"/><path d="M518 371L515.9 365.4L517.7 352.6L525 334.2L530.6 315.9L537.4 303L548 315.9L557.5 321.4L564.9 334.2L566.7 343.4L569.4 361.7L572.6 382L573 386L550 386L537 382L525 376Z" fill="#3f2a80" fill-opacity="0.4" clip-path="url(#cv3p)"/>
<path d="M518 371L515.9 365.4L517.7 352.6L525 334.2L530.6 315.9L537.4 303L548 315.9L557.5 321.4L564.9 334.2L566.7 343.4L569.4 361.7L572.6 382L573 386L550 386L537 382L525 376Z" fill="#fff" clip-path="url(#cv3o)"/><path d="M518 371L515.9 365.4L517.7 352.6L525 334.2L530.6 315.9L537.4 303L548 315.9L557.5 321.4L564.9 334.2L566.7 343.4L569.4 361.7L572.6 382L573 386L550 386L537 382L525 376Z" fill="#f59b62" fill-opacity="0.4" clip-path="url(#cv3o)"/>
<path d="M575 380L576.8 358L579.2 339.7L581.4 330.6L595 329L608.5 331L615 336L625 338L638 345L644 363L645 371L640 378L620 383L608 384L590 386L573 386Z" fill="#9c9c9c" fill-opacity="0.8"/>
<path d="M575 380L576.8 358L579.2 339.7L581.4 330.6L595 329L608.5 331L615 336L625 338L638 345L644 363L645 371L640 378L620 383L608 384L590 386L573 386Z" fill="#fff" clip-path="url(#cv3p)"/><path d="M575 380L576.8 358L579.2 339.7L581.4 330.6L595 329L608.5 331L615 336L625 338L638 345L644 363L645 371L640 378L620 383L608 384L590 386L573 386Z" fill="#3f2a80" fill-opacity="0.4" clip-path="url(#cv3p)"/>
<path d="M575 380L576.8 358L579.2 339.7L581.4 330.6L595 329L608.5 331L615 336L625 338L638 345L644 363L645 371L640 378L620 383L608 384L590 386L573 386Z" fill="#fff" clip-path="url(#cv3o)"/><path d="M575 380L576.8 358L579.2 339.7L581.4 330.6L595 329L608.5 331L615 336L625 338L638 345L644 363L645 371L640 378L620 383L608 384L590 386L573 386Z" fill="#f59b62" fill-opacity="0.4" clip-path="url(#cv3o)"/>
<path transform="scale(0.5)" d="M1075 483h0m0 58h0m125 5h0m-120 25h0m4 9h0m30 3h0m-32 5h0m15 0h0m15 2h0m-23 2h0m22 3h0m93 0h0m-89 3h0m1 0h0m-28 3h0m101 0h0m-111 1h0m21 0h0m13 2h0m85 0h0m-84 1h0m70 0h0m1 0h0m13 1h0m2 0h0m-122 1h0m9 0h0m84 0h0m-55 1h0m63 1h0m-98 1h0m29 0h0m7 0h0m71 0h0m-89 1h0m106 1h0m-92 1h0m84 0h0m-117 1h0m115 0h0m-114 1h0m7 0h0m-10 1h0m3 0h0m4 0h0m86 0h0m22 0h0m-115 1h0m15 0h0m11 0h0m13 0h0m57 0h0m-90 1h0m2 0h0m85 0h0m15 0h0m7 0h0m12 0h0m1 0h0m-122 1h0m11 0h0m117 0h0m-129 1h0m18 0h0m15 0h0m-35 1h0m2 0h0m17 0h0m86 0h0m6 0h0m10 0h0m-114 1h0m14 0h0m70 0h0m16 0h0m-105 1h0m11 0h0m-16 1h0m8 0h0m5 0h0m79 0h0m14 0h0m-107 1h0m4 0h0m114 0h0m-113 1h0m2 0h0m5 0h0m1 0h0m26 0h0m-38 1h0m3 0h0m4 0h0m2 0h0m8 0h0m1 0h0m71 0h0m3 0h0m-92 1h0m4 0h0m2 0h0m3 0h0m85 0h0m-92 1h0m6 0h0m8 0h0m68 0h0m7 0h0m5 0h0m16 0h0m18 0h0m-110 1h0m6 0h0m109 0h0m-133 1h0m4 0h0m34 0h0m-37 1h0m3 0h0m37 0h0m70 0h0m16 0h0m-127 1h0m10 0h0m1 0h0m14 0h0m-22 1h0m1 0h0m1 0h0m5 0h0m2 0h0m4 0h0m11 0h0m68 0h0m1 0h0m13 0h0m22 0h0m-129 1h0m3 0h0m3 0h0m2 0h0m2 0h0m2 0h0m2 0h0m3 0h0m1 0h0m4 0h0m104 0h0m-128 1h0m2 0h0m7 0h0m2 0h0m5 0h0m4 0h0m2 0h0m22 0h0m53 0h0m-97 1h0m1 0h0m4 0h0m2 0h0m3 0h0m7 0h0m13 0h0m77 0h0m21 0h0m-126 1h0m1 0h0m2 0h0m2 0h0m6 0h0m2 0h0m9 0h0m93 0h0m-113 1h0m6 0h0m1 0h0m2 0h0m23 0h0m55 0h0m33 0h0m-116 1h0m2 0h0m5 0h0m8 0h0m4 0h0m70 0h0m30 0h0m2 0h0m-126 1h0m2 0h0m3 0h0m4 0h0m5 0h0m10 0h0m3 0h0m87 0h0m5 0h0m-120 1h0m6 0h0m21 0h0m59 0h0m3 0h0m11 0h0m9 0h0m12 0h0m-124 1h0m1 0h0m7 0h0m5 0h0m1 0h0m6 0h0m6 0h0m6 0h0m3 0h0m1 0h0m74 0h0m6 0h0m-118 1h0m3 0h0m1 0h0m2 0h0m5 0h0m5 0h0m6 0h0m18 0h0m15 0h0m41 0h0m7 0h0m10 0h0m10 0h0m13 0h0m3 0h0m-136 1h0m2 0h0m3 0h0m27 0h0m83 0h0m22 0h0m-139 1h0m12 0h0m-10 1h0m1 0h0m2 0h0m20 0h0m12 0h0m86 0h0m-120 1h0m2 0h0m26 0h0m73 0h0m27 0h0m-131 1h0m7 0h0m7 0h0m13 0h0m102 0h0m-130 1h0m1 0h0m2 0h0m12 0h0m1 0h0m8 0h0m11 0h0m4 0h0m62 0h0m16 0h0m-109 1h0m3 0h0m2 0h0m2 0h0m12 0h0m1 0h0m16 0h0m3 0h0m61 0h0m26 0h0m-130 1h0m2 0h0m3 0h0m2 0h0m1 0h0m4 0h0m8 0h0m3 0h0m2 0h0m3 0h0m5 0h0m80 0h0m10 0h0m-126 1h0m12 0h0m1 0h0m17 0h0m73 0h0m10 0h0m19 0h0m-132 1h0m7 0h0m19 0h0m9 0h0m3 0h0m2 0h0m5 0h0m81 0h0m-125 1h0m1 0h0m31 0h0m1 0h0m17 0h0m54 0h0m-106 1h0m3 0h0m2 0h0m36 0h0m79 0h0m-111 1h0m2 0h0m23 0h0m5 0h0m1 0h0m1 0h0m8 0h0m6 0h0m58 0h0m-99 1h0m3 0h0m3 0h0m11 0h0m4 0h0m1 0h0m8 0h0m1 0h0m2 0h0m55 0h0m2 0h0m-96 1h0m7 0h0m2 0h0m23 0h0m2 0h0m8 0h0m21 0h0m17 0h0m5 0h0m10 0h0m3 0h0m17 0h0m3 0h0m-126 1h0m1 0h0m2 0h0m4 0h0m4 0h0m3 0h0m5 0h0m3 0h0m14 0h0m2 0h0m11 0h0m52 0h0m1 0h0m18 0h0m6 0h0m9 0h0m-129 1h0m1 0h0m1 0h0m7 0h0m4 0h0m2 0h0m13 0h0m1 0h0m8 0h0m19 0h0m72 0h0m-128 1h0m2 0h0m7 0h0m5 0h0m7 0h0m4 0h0m5 0h0m5 0h0m5 0h0m45 0h0m37 0h0m1 0h0m10 0h0m-138 1h0m2 0h0m18 0h0m2 0h0m1 0h0m15 0h0m6 0h0m47 0h0m3 0h0m5 0h0m5 0h0m7 0h0m2 0h0m11 0h0m2 0h0m-124 1h0m8 0h0m1 0h0m21 0h0m13 0h0m2 0h0m2 0h0m66 0h0m8 0h0m-122 1h0m7 0h0m19 0h0m3 0h0m3 0h0m5 0h0m2 0h0m1 0h0m5 0h0m46 0h0m14 0h0m10 0h0m9 0h0m10 0h0m-133 1h0m9 0h0m4 0h0m9 0h0m2 0h0m3 0h0m4 0h0m19 0h0m3 0h0m39 0h0m7 0h0m29 0h0m5 0h0m2 0h0m-137 1h0m13 0h0m23 0h0m2 0h0m64 0h0m4 0h0m2 0h0m21 0h0m4 0h0m-133 1h0m2 0h0m2 0h0m3 0h0m1 0h0m16 0h0m3 0h0m16 0h0m1 0h0m1 0h0m37 0h0m20 0h0m8 0h0m13 0h0m18 0h0m-135 1h0m1 0h0m7 0h0m2 0h0m7 0h0m1 0h0m1 0h0m6 0h0m7 0h0m5 0h0m6 0h0m4 0h0m27 0h0m9 0h0m8 0h0m7 0h0m8 0h0m9 0h0m-120 1h0m3 0h0m2 0h0m2 0h0m19 0h0m9 0h0m17 0h0m9 0h0m11 0h0m30 0h0m5 0h0m5 0h0m19 0h0m-133 1h0m5 0h0m8 0h0m2 0h0m1 0h0m8 0h0m2 0h0m1 0h0m8 0h0m9 0h0m1 0h0m3 0h0m42 0h0m12 0h0m9 0h0m3 0h0m6 0h0m4 0h0m11 0h0m-121 1h0m2 0h0m2 0h0m2 0h0m4 0h0m12 0h0m2 0h0m7 0h0m5 0h0m33 0h0m4 0h0m1 0h0m5 0h0m19 0h0m9 0h0m2 0h0m16 0h0m2 0h0m-139 1h0m3 0h0m12 0h0m2 0h0m27 0h0m4 0h0m3 0h0m53 0h0m1 0h0m18 0h0m9 0h0m-134 1h0m4 0h0m1 0h0m2 0h0m2 0h0m4 0h0m17 0h0m1 0h0m4 0h0m2 0h0m3 0h0m1 0h0m3 0h0m41 0h0m5 0h0m2 0h0m9 0h0m22 0h0m1 0h0m4 0h0m-128 1h0m5 0h0m1 0h0m8 0h0m8 0h0m1 0h0m1 0h0m1 0h0m8 0h0m3 0h0m11 0h0m4 0h0m54 0h0m37 0h0m-138 1h0m11 0h0m3 0h0m2 0h0m14 0h0m9 0h0m7 0h0m32 0h0m5 0h0m23 0h0m1 0h0m3 0h0m4 0h0m-118 1h0m4 0h0m14 0h0m2 0h0m4 0h0m3 0h0m12 0h0m1 0h0m6 0h0m39 0h0m7 0h0m15 0h0m2 0h0m5 0h0m4 0h0m23 0h0m-140 1h0m1 0h0m7 0h0m5 0h0m1 0h0m2 0h0m7 0h0m12 0h0m3 0h0m4 0h0m2 0h0m2 0h0m7 0h0m7 0h0m29 0h0m4 0h0m11 0h0m5 0h0m26 0h0m-132 1h0m2 0h0m3 0h0m5 0h0m9 0h0m72 0h0m2 0h0m15 0h0m2 0h0m20 0h0m2 0h0m1 0h0m3 0h0m-136 1h0m3 0h0m5 0h0m1 0h0m5 0h0m8 0h0m7 0h0m3 0h0m1 0h0m2 0h0m3 0h0m4 0h0m10 0h0m35 0h0m12 0h0m4 0h0m2 0h0m2 0h0m18 0h0m-127 1h0m23 0h0m1 0h0m1 0h0m2 0h0m1 0h0m8 0h0m3 0h0m5 0h0m1 0h0m44 0h0m9 0h0m7 0h0m11 0h0m-108 1h0m4 0h0m2 0h0m4 0h0m1 0h0m10 0h0m1 0h0m1 0h0m2 0h0m11 0h0m6 0h0m5 0h0m28 0h0m7 0h0m3 0h0m3 0h0m3 0h0m13 0h0m1 0h0m4 0h0m19 0h0m-130 1h0m7 0h0m11 0h0m9 0h0m6 0h0m11 0h0m3 0h0m36 0h0m6 0h0m33 0h0m5 0h0m3 0h0m-137 1h0m14 0h0m4 0h0m2 0h0m1 0h0m15 0h0m6 0h0m2 0h0m3 0h0m56 0h0m1 0h0m1 0h0m7 0h0m15 0h0m-124 1h0m7 0h0m1 0h0m19 0h0m5 0h0m2 0h0m3 0h0m10 0h0m1 0h0m47 0h0m10 0h0m4 0h0m14 0h0m5 0h0m5 0h0m-128 1h0m3 0h0m2 0h0m9 0h0m1 0h0m1 0h0m6 0h0m16 0h0m9 0h0m23 0h0m1 0h0m8 0h0m7 0h0m5 0h0m6 0h0m15 0h0m-118 1h0m4 0h0m1 0h0m3 0h0m2 0h0m1 0h0m3 0h0m6 0h0m3 0h0m3 0h0m7 0h0m3 0h0m51 0h0m8 0h0m15 0h0m12 0h0m14 0h0m1 0h0m-138 1h0m4 0h0m16 0h0m3 0h0m3 0h0m11 0h0m2 0h0m3 0h0m6 0h0m4 0h0m30 0h0m6 0h0m3 0h0m11 0h0m4 0h0m9 0h0m1 0h0m2 0h0m7 0h0m3 0h0m5 0h0m1 0h0m-133 1h0m10 0h0m1 0h0m2 0h0m1 0h0m10 0h0m3 0h0m11 0h0m3 0h0m5 0h0m1 0h0m4 0h0m42 0h0m5 0h0m17 0h0m10 0h0m-124 1h0m15 0h0m4 0h0m2 0h0m1 0h0m5 0h0m1 0h0m1 0h0m1 0h0m7 0h0m9 0h0m2 0h0m34 0h0m9 0h0m3 0h0m3 0h0m24 0h0m3 0h0m4 0h0m-132 1h0m6 0h0m4 0h0m6 0h0m6 0h0m6 0h0m9 0h0m1 0h0m3 0h0m1 0h0m5 0h0m4 0h0m4 0h0m30 0h0m5 0h0m4 0h0m4 0h0m3 0h0m18 0h0m2 0h0m11 0h0m-127 1h0m5 0h0m3 0h0m16 0h0m4 0h0m1 0h0m5 0h0m5 0h0m4 0h0m34 0h0m3 0h0m3 0h0m1 0h0m1 0h0m10 0h0m11 0h0m14 0h0m8 0h0m-125 1h0m1 0h0m1 0h0m4 0h0m5 0h0m1 0h0m3 0h0m3 0h0m4 0h0m1 0h0m5 0h0m2 0h0m26 0h0m20 0h0m3 0h0m3 0h0m12 0h0m7 0h0m18 0h0m-124 1h0m6 0h0m5 0h0m3 0h0m1 0h0m1 0h0m7 0h0m1 0h0m3 0h0m1 0h0m5 0h0m3 0h0m3 0h0m13 0h0m17 0h0m11 0h0m7 0h0m1 0h0m5 0h0m7 0h0m2 0h0m3 0h0m18 0h0m7 0h0m1 0h0m-131 1h0m1 0h0m2 0h0m3 0h0m20 0h0m13 0h0m6 0h0m34 0h0m16 0h0m7 0h0m6 0h0m15 0h0m7 0h0m1 0h0m4 0h0m-136 1h0m21 0h0m12 0h0m2 0h0m6 0h0m5 0h0m1 0h0m41 0h0m1 0h0m2 0h0m35 0h0m-128 1h0m4 0h0m5 0h0m7 0h0m2 0h0m1 0h0m17 0h0m1 0h0m2 0h0m4 0h0m18 0h0m20 0h0m21 0h0m2 0h0m4 0h0m-102 1h0m4 0h0m5 0h0m12 0h0m6 0h0m1 0h0m20 0h0m32 0h0m18 0h0m10 0h0m2 0h0m9 0h0m10 0h0m4 0h0m-137 1h0m22 0h0m31 0h0m27 0h0m35 0h0m5 0h0m8 0h0m11 0h0m-136 1h0m2 0h0m2 0h0m3 0h0m1 0h0m1 0h0m3 0h0m2 0h0m9 0h0m4 0h0m3 0h0m11 0h0m4 0h0m38 0h0m8 0h0m12 0h0m6 0h0m6 0h0m15 0h0m5 0h0m-140 1h0m4 0h0m3 0h0m21 0h0m15 0h0m13 0h0m18 0h0m30 0h0m3 0h0m24 0h0m-131 1h0m20 0h0m1 0h0m1 0h0m9 0h0m3 0h0m1 0h0m11 0h0m13 0h0m30 0h0m1 0h0m1 0h0m15 0h0m4 0h0m3 0h0m12 0h0m4 0h0m2 0h0m9 0h0m1 0h0m-133 1h0m1 0h0m4 0h0m1 0h0m3 0h0m4 0h0m2 0h0m20 0h0m1 0h0m2 0h0m11 0h0m36 0h0m1 0h0m12 0h0m16 0h0m5 0h0m4 0h0m3 0h0m1 0h0m3 0h0m-132 1h0m3 0h0m1 0h0m2 0h0m1 0h0m2 0h0m2 0h0m6 0h0m7 0h0m1 0h0m5 0h0m2 0h0m11 0h0m10 0h0m40 0h0m9 0h0m5 0h0m3 0h0m6 0h0m1 0h0m9 0h0m9 0h0m-138 1h0m2 0h0m9 0h0m2 0h0m7 0h0m14 0h0m3 0h0m4 0h0m7 0h0m4 0h0m38 0h0m7 0h0m3 0h0m6 0h0m5 0h0m17 0h0m-131 1h0m5 0h0m3 0h0m1 0h0m11 0h0m15 0h0m2 0h0m1 0h0m1 0h0m1 0h0m1 0h0m1 0h0m3 0h0m1 0h0m6 0h0m2 0h0m2 0h0m18 0h0m14 0h0m14 0h0m1 0h0m1 0h0m16 0h0m1 0h0m12 0h0m9 0h0m-129 1h0m3 0h0m3 0h0m2 0h0m4 0h0m3 0h0m10 0h0m1 0h0m5 0h0m1 0h0m8 0h0m5 0h0m28 0h0m16 0h0m2 0h0m8 0h0m6 0h0m2 0h0m1 0h0m5 0h0m15 0h0m-135 1h0m2 0h0m3 0h0m14 0h0m2 0h0m6 0h0m5 0h0m9 0h0m3 0h0m10 0h0m19 0h0m21 0h0m4 0h0m7 0h0m8 0h0m-114 1h0m7 0h0m4 0h0m8 0h0m1 0h0m2 0h0m1 0h0m1 0h0m3 0h0m2 0h0m5 0h0m7 0h0m4 0h0m4 0h0m1 0h0m1 0h0m29 0h0m2 0h0m25 0h0m4 0h0m3 0h0m5 0h0m10 0h0m-109 1h0m1 0h0m7 0h0m4 0h0m6 0h0m10 0h0m23 0h0m10 0h0m11 0h0m1 0h0m8 0h0m26 0h0m3 0h0m-131 1h0m6 0h0m3 0h0m4 0h0m1 0h0m2 0h0m2 0h0m9 0h0m8 0h0m5 0h0m6 0h0m2 0h0m4 0h0m33 0h0m16 0h0m7 0h0m-111 1h0m6 0h0m1 0h0m6 0h0m13 0h0m3 0h0m4 0h0m5 0h0m5 0h0m1 0h0m1 0h0m12 0h0m2 0h0m15 0h0m4 0h0m6 0h0m2 0h0m6 0h0m4 0h0m1 0h0m9 0h0m6 0h0m1 0h0m13 0h0m4 0h0m4 0h0m4 0h0m-139 1h0m1 0h0m2 0h0m2 0h0m14 0h0m5 0h0m5 0h0m2 0h0m10 0h0m2 0h0m7 0h0m16 0h0m17 0h0m10 0h0m4 0h0m3 0h0m13 0h0m4 0h0m8 0h0m-105 1h0m2 0h0m1 0h0m12 0h0m1 0h0m2 0h0m6 0h0m4 0h0m6 0h0m2 0h0m7 0h0m11 0h0m8 0h0m4 0h0m1 0h0m4 0h0m6 0h0m5 0h0m12 0h0m1 0h0m4 0h0m9 0h0m9 0h0m3 0h0m1 0h0m-140 1h0m6 0h0m6 0h0m2 0h0m1 0h0m10 0h0m2 0h0m1 0h0m2 0h0m1 0h0m10 0h0m3 0h0m40 0h0m16 0h0m5 0h0m-95 1h0m1 0h0m20 0h0m2 0h0m3 0h0m1 0h0m2 0h0m11 0h0m5 0h0m2 0h0m29 0h0m2 0h0m4 0h0m10 0h0m1 0h0m5 0h0m12 0h0m11 0h0m3 0h0m-124 1h0m1 0h0m1 0h0m11 0h0m3 0h0m5 0h0m2 0h0m5 0h0m11 0h0m6 0h0m21 0h0m37 0h0m3 0h0m1 0h0m11 0h0m-123 1h0m4 0h0m4 0h0m3 0h0m9 0h0m1 0h0m3 0h0m4 0h0m3 0h0m15 0h0m1 0h0m20 0h0m5 0h0m1 0h0m4 0h0m7 0h0m4 0h0m3 0h0m6 0h0m8 0h0m7 0h0m2 0h0m6 0h0m3 0h0m-127 1h0m2 0h0m2 0h0m8 0h0m4 0h0m1 0h0m1 0h0m1 0h0m5 0h0m1 0h0m8 0h0m1 0h0m7 0h0m14 0h0m2 0h0m1 0h0m21 0h0m15 0h0m9 0h0m14 0h0m3 0h0m12 0h0m-120 1h0m2 0h0m1 0h0m4 0h0m9 0h0m1 0h0m4 0h0m1 0h0m9 0h0m1 0h0m4 0h0m5 0h0m3 0h0m33 0h0m3 0h0m4 0h0m2 0h0m10 0h0m10 0h0m8 0h0m10 0h0m-134 1h0m7 0h0m14 0h0m4 0h0m16 0h0m4 0h0m4 0h0m6 0h0m19 0h0m3 0h0m10 0h0m9 0h0m6 0h0m5 0h0m7 0h0m10 0h0m5 0h0m-126 1h0m2 0h0m22 0h0m1 0h0m7 0h0m11 0h0m1 0h0m3 0h0m38 0h0m1 0h0m7 0h0m3 0h0m5 0h0m3 0h0m3 0h0m1 0h0m16 0h0m3 0h0m5 0h0m2 0h0m-126 1h0m10 0h0m22 0h0m4 0h0m5 0h0m1 0h0m2 0h0m12 0h0m7 0h0m7 0h0m3 0h0m4 0h0m5 0h0m1 0h0m6 0h0m4 0h0m7 0h0m8 0h0m3 0h0m6 0h0m1 0h0m1 0h0m3 0h0m5 0h0m-126 1h0m3 0h0m1 0h0m2 0h0m1 0h0m3 0h0m8 0h0m3 0h0m4 0h0m2 0h0m3 0h0m4 0h0m1 0h0m1 0h0m4 0h0m4 0h0m12 0h0m9 0h0m4 0h0m10 0h0m2 0h0m4 0h0m17 0h0m4 0h0m10 0h0m-130 1h0m4 0h0m7 0h0m2 0h0m9 0h0m6 0h0m3 0h0m22 0h0m6 0h0m2 0h0m24 0h0m5 0h0m7 0h0m5 0h0m6 0h0m2 0h0m13 0h0m-107 1h0m12 0h0m5 0h0m6 0h0m5 0h0m9 0h0m26 0h0m9 0h0m13 0h0m5 0h0m6 0h0m8 0h0m-120 1h0m9 0h0m33 0h0m1 0h0m10 0h0m3 0h0m15 0h0m25 0h0m9 0h0m7 0h0m3 0h0m7 0h0m6 0h0m8 0h0m-134 1h0m38 0h0m3 0h0m1 0h0m12 0h0m4 0h0m1 0h0m21 0h0m7 0h0m27 0h0m2 0h0m7 0h0m7 0h0m2 0h0m-115 1h0m2 0h0m6 0h0m2 0h0m8 0h0m5 0h0m19 0h0m18 0h0m4 0h0m5 0h0m7 0h0m24 0h0m5 0h0m7 0h0m6 0h0m-131 1h0m13 0h0m2 0h0m15 0h0m2 0h0m5 0h0m17 0h0m3 0h0m21 0h0m4 0h0m12 0h0m3 0h0m4 0h0m3 0h0m5 0h0m1 0h0m11 0h0m4 0h0m-133 1h0m1 0h0m4 0h0m3 0h0m6 0h0m2 0h0m8 0h0m10 0h0m5 0h0m5 0h0m3 0h0m7 0h0m5 0h0m3 0h0m20 0h0m1 0h0m2 0h0m10 0h0m7 0h0m7 0h0m3 0h0m25 0h0m4 0h0m-134 1h0m2 0h0m2 0h0m1 0h0m2 0h0m9 0h0m7 0h0m1 0h0m19 0h0m1 0h0m3 0h0m2 0h0m20 0h0m16 0h0m1 0h0m9 0h0m1 0h0m4 0h0m33 0h0m-140 1h0m1 0h0m2 0h0m1 0h0m8 0h0m4 0h0m3 0h0m2 0h0m6 0h0m12 0h0m5 0h0m7 0h0m21 0h0m16 0h0m20 0h0m3 0h0m1 0h0m8 0h0m3 0h0m15 0h0m-120 1h0m2 0h0m5 0h0m4 0h0m1 0h0m1 0h0m1 0h0m1 0h0m2 0h0m6 0h0m1 0h0m1 0h0m4 0h0m5 0h0m5 0h0m26 0h0m4 0h0m3 0h0m6 0h0m6 0h0m10 0h0m11 0h0m14 0h0m-131 1h0m6 0h0m8 0h0m11 0h0m1 0h0m6 0h0m23 0h0m25 0h0m2 0h0m25 0h0m3 0h0m1 0h0m6 0h0m2 0h0m6 0h0m1 0h0m-131 1h0m15 0h0m5 0h0m3 0h0m18 0h0m4 0h0m3 0h0m7 0h0m28 0h0m14 0h0m12 0h0m8 0h0m5 0h0m18 0h0m-140 1h0m2 0h0m1 0h0m2 0h0m1 0h0m1 0h0m5 0h0m2 0h0m4 0h0m11 0h0m5 0h0m4 0h0m7 0h0m53 0h0m1 0h0m5 0h0m3 0h0m4 0h0m12 0h0m4 0h0m4 0h0m8 0h0m-137 1h0m3 0h0m13 0h0m5 0h0m14 0h0m11 0h0m14 0h0m22 0h0m7 0h0m2 0h0m4 0h0m4 0h0m3 0h0m2 0h0m4 0h0m2 0h0m9 0h0m19 0h0m-138 1h0m1 0h0m4 0h0m3 0h0m1 0h0m7 0h0m1 0h0m1 0h0m1 0h0m1 0h0m15 0h0m6 0h0m2 0h0m13 0h0m5 0h0m2 0h0m23 0h0m16 0h0m4 0h0m9 0h0m-118 1h0m6 0h0m1 0h0m8 0h0m1 0h0m6 0h0m8 0h0m6 0h0m1 0h0m7 0h0m3 0h0m18 0h0m12 0h0m9 0h0m10 0h0m26 0h0m9 0h0m9 0h0m-140 1h0m2 0h0m5 0h0m3 0h0m3 0h0m4 0h0m2 0h0m4 0h0m9 0h0m12 0h0m4 0h0m6 0h0m1 0h0m4 0h0m41 0h0m27 0h0m1 0h0m7 0h0m-155 1h0m1 0h0m2 0h0m26 0h0m4 0h0m7 0h0m6 0h0m5 0h0m4 0h0m1 0h0m5 0h0m15 0h0m11 0h0m1 0h0m6 0h0m14 0h0m15 0h0m11 0h0m6 0h0m6 0h0m19 0h0m3 0h0m9 0h0m6 0h0m6 0h0m10 0h0m4 0h0m11 0h0m-267 1h0m42 0h0m4 0h0m2 0h0m4 0h0m5 0h0m11 0h0m1 0h0m1 0h0m4 0h0m9 0h0m1 0h0m1 0h0m4 0h0m4 0h0m7 0h0m3 0h0m7 0h0m4 0h0m1 0h0m2 0h0m1 0h0m4 0h0m26 0h0m5 0h0m3 0h0m11 0h0m22 0h0m17 0h0m2 0h0m1 0h0m1 0h0m7 0h0m7 0h0m37 0h0m6 0h0m12 0h0m3 0h0m-242 1h0m11 0h0m2 0h0m2 0h0m15 0h0m1 0h0m2 0h0m2 0h0m2 0h0m2 0h0m1 0h0m5 0h0m7 0h0m2 0h0m5 0h0m1 0h0m5 0h0m8 0h0m1 0h0m7 0h0m8 0h0m2 0h0m2 0h0m14 0h0m2 0h0m37 0h0m3 0h0m6 0h0m4 0h0m4 0h0m1 0h0m4 0h0m6 0h0m3 0h0m7 0h0m15 0h0m10 0h0m5 0h0m19 0h0m1 0h0m52 0h0m-317 1h0m45 0h0m7 0h0m2 0h0m2 0h0m21 0h0m6 0h0m2 0h0m13 0h0m6 0h0m6 0h0m10 0h0m3 0h0m4 0h0m21 0h0m6 0h0m11 0h0m6 0h0m3 0h0m5 0h0m18 0h0m3 0h0m19 0h0m14 0h0m15 0h0m20 0h0m-231 1h0m4 0h0m11 0h0m5 0h0m1 0h0m4 0h0m6 0h0m1 0h0m10 0h0m6 0h0m10 0h0m10 0h0m4 0h0m1 0h0m1 0h0m1 0h0m3 0h0m1 0h0m6 0h0m1 0h0m3 0h0m22 0h0m20 0h0m15 0h0m13 0h0m3 0h0m1 0h0m10 0h0m3 0h0m17 0h0m6 0h0m11 0h0m20 0h0m1 0h0m22 0h0m9 0h0m-264 1h0m2 0h0m1 0h0m5 0h0m6 0h0m5 0h0m2 0h0m8 0h0m7 0h0m11 0h0m3 0h0m5 0h0m3 0h0m4 0h0m4 0h0m12 0h0m2 0h0m27 0h0m5 0h0m4 0h0m15 0h0m1 0h0m8 0h0m3 0h0m5 0h0m16 0h0m9 0h0m11 0h0m8 0h0m10 0h0m9 0h0m15 0h0m-223 1h0m14 0h0m2 0h0m2 0h0m5 0h0m17 0h0m5 0h0m2 0h0m2 0h0m3 0h0m1 0h0m1 0h0m2 0h0m4 0h0m10 0h0m5 0h0m32 0h0m7 0h0m7 0h0m9 0h0m11 0h0m2 0h0m1 0h0m6 0h0m13 0h0m15 0h0m12 0h0m3 0h0m2 0h0m2 0h0m10 0h0m4 0h0m6 0h0m9 0h0m-220 1h0m2 0h0m8 0h0m4 0h0m1 0h0m5 0h0m9 0h0m2 0h0m8 0h0m1 0h0m8 0h0m1 0h0m2 0h0m2 0h0m2 0h0m9 0h0m5 0h0m4 0h0m2 0h0m38 0h0m8 0h0m12 0h0m4 0h0m17 0h0m2 0h0m9 0h0m10 0h0m3 0h0m13 0h0m4 0h0m1 0h0m3 0h0m5 0h0m9 0h0m10 0h0m6 0h0m-229 1h0m2 0h0m9 0h0m1 0h0m2 0h0m1 0h0m2 0h0m9 0h0m5 0h0m5 0h0m2 0h0m3 0h0m10 0h0m6 0h0m11 0h0m4 0h0m2 0h0m6 0h0m58 0h0m1 0h0m12 0h0m3 0h0m5 0h0m8 0h0m8 0h0m4 0h0m8 0h0m6 0h0m6 0h0m3 0h0m3 0h0m11 0h0m3 0h0m-214 1h0m2 0h0m1 0h0m6 0h0m4 0h0m1 0h0m6 0h0m11 0h0m1 0h0m19 0h0m10 0h0m11 0h0m4 0h0m3 0h0m2 0h0m13 0h0m7 0h0m24 0h0m4 0h0m10 0h0m3 0h0m9 0h0m4 0h0m4 0h0m6 0h0m8 0h0m6 0h0m8 0h0m2 0h0m1 0h0m4 0h0m2 0h0m12 0h0m-224 1h0m11 0h0m7 0h0m3 0h0m3 0h0m7 0h0m3 0h0m1 0h0m3 0h0m8 0h0m4 0h0m17 0h0m1 0h0m5 0h0m8 0h0m15 0h0m2 0h0m26 0h0m4 0h0m3 0h0m3 0h0m6 0h0m1 0h0m7 0h0m11 0h0m14 0h0m1 0h0m9 0h0m12 0h0m13 0h0m13 0h0m2 0h0m-219 1h0m6 0h0m1 0h0m3 0h0m3 0h0m8 0h0m2 0h0m9 0h0m8 0h0m4 0h0m11 0h0m2 0h0m7 0h0m2 0h0m1 0h0m11 0h0m6 0h0m4 0h0m3 0h0m1 0h0m6 0h0m12 0h0m1 0h0m12 0h0m5 0h0m15 0h0m5 0h0m2 0h0m2 0h0m2 0h0m31 0h0m31 0h0m4 0h0m38 0h0m-246 1h0m3 0h0m3 0h0m2 0h0m5 0h0m8 0h0m3 0h0m10 0h0m9 0h0m7 0h0m1 0h0m4 0h0m1 0h0m7 0h0m1 0h0m4 0h0m2 0h0m10 0h0m16 0h0m16 0h0m11 0h0m4 0h0m2 0h0m1 0h0m10 0h0m7 0h0m2 0h0m7 0h0m5 0h0m6 0h0m6 0h0m5 0h0m5 0h0m2 0h0m6 0h0m3 0h0m13 0h0m-209 1h0m5 0h0m1 0h0m8 0h0m4 0h0m1 0h0m1 0h0m13 0h0m28 0h0m4 0h0m11 0h0m1 0h0m20 0h0m8 0h0m18 0h0m13 0h0m3 0h0m5 0h0m7 0h0m3 0h0m8 0h0m1 0h0m5 0h0m29 0h0m12 0h0m-206 1h0m10 0h0m1 0h0m8 0h0m1 0h0m14 0h0m2 0h0m2 0h0m6 0h0m4 0h0m2 0h0m21 0h0m3 0h0m37 0h0m8 0h0m11 0h0m7 0h0m10 0h0m3 0h0m13 0h0m3 0h0m22 0h0m3 0h0m7 0h0m5 0h0m-255 1h0m48 0h0m1 0h0m6 0h0m10 0h0m4 0h0m16 0h0m7 0h0m7 0h0m29 0h0m8 0h0m6 0h0m7 0h0m8 0h0m17 0h0m5 0h0m4 0h0m7 0h0m5 0h0m2 0h0m11 0h0m20 0h0m7 0h0m3 0h0m4 0h0m1 0h0m8 0h0m13 0h0m1 0h0m1 0h0m-220 1h0m10 0h0m1 0h0m6 0h0m7 0h0m9 0h0m4 0h0m1 0h0m1 0h0m6 0h0m6 0h0m4 0h0m8 0h0m1 0h0m4 0h0m1 0h0m12 0h0m48 0h0m19 0h0m14 0h0m6 0h0m17 0h0m2 0h0m11 0h0m19 0h0m-190 1h0m1 0h0m10 0h0m10 0h0m1 0h0m1 0h0m2 0h0m1 0h0m5 0h0m8 0h0m8 0h0m1 0h0m2 0h0m1 0h0m1 0h0m24 0h0m3 0h0m7 0h0m3 0h0m3 0h0m1 0h0m12 0h0m7 0h0m11 0h0m6 0h0m30 0h0m22 0h0m17 0h0m-220 1h0m19 0h0m1 0h0m4 0h0m21 0h0m6 0h0m2 0h0m14 0h0m7 0h0m6 0h0m32 0h0m28 0h0m9 0h0m8 0h0m4 0h0m10 0h0m4 0h0m7 0h0m8 0h0m4 0h0m-197 1h0m13 0h0m7 0h0m7 0h0m2 0h0m19 0h0m8 0h0m1 0h0m2 0h0m4 0h0m6 0h0m2 0h0m7 0h0m2 0h0m13 0h0m2 0h0m4 0h0m33 0h0m12 0h0m10 0h0m6 0h0m1 0h0m10 0h0m23 0h0m6 0h0m-188 1h0m7 0h0m10 0h0m11 0h0m1 0h0m14 0h0m5 0h0m7 0h0m5 0h0m2 0h0m8 0h0m1 0h0m9 0h0m6 0h0m16 0h0m6 0h0m27 0h0m2 0h0m18 0h0m1 0h0m2 0h0m3 0h0m1 0h0m2 0h0m3 0h0m4 0h0m-172 1h0m17 0h0m6 0h0m1 0h0m1 0h0m3 0h0m5 0h0m1 0h0m6 0h0m3 0h0m2 0h0m4 0h0m1 0h0m4 0h0m11 0h0m1 0h0m23 0h0m28 0h0m15 0h0m9 0h0m3 0h0m32 0h0m15 0h0m-195 1h0m1 0h0m24 0h0m5 0h0m1 0h0m3 0h0m1 0h0m2 0h0m9 0h0m1 0h0m1 0h0m6 0h0m3 0h0m4 0h0m12 0h0m5 0h0m1 0h0m8 0h0m7 0h0m3 0h0m23 0h0m17 0h0m18 0h0m5 0h0m-169 1h0m23 0h0m3 0h0m2 0h0m2 0h0m2 0h0m5 0h0m5 0h0m7 0h0m2 0h0m5 0h0m1 0h0m6 0h0m7 0h0m5 0h0m9 0h0m14 0h0m5 0h0m2 0h0m13 0h0m16 0h0m5 0h0m8 0h0m10 0h0m11 0h0m11 0h0m7 0h0m62 0h0m16 0h0m-258 1h0m17 0h0m5 0h0m9 0h0m6 0h0m4 0h0m12 0h0m13 0h0m7 0h0m4 0h0m5 0h0m1 0h0m10 0h0m10 0h0m1 0h0m25 0h0m2 0h0m26 0h0m10 0h0m7 0h0m-166 1h0m1 0h0m17 0h0m14 0h0m1 0h0m5 0h0m2 0h0m1 0h0m13 0h0m11 0h0m21 0h0m5 0h0m21 0h0m4 0h0m16 0h0m8 0h0m5 0h0m24 0h0m-150 1h0m7 0h0m21 0h0m14 0h0m3 0h0m2 0h0m12 0h0m3 0h0m30 0h0m11 0h0m2 0h0m41 0h0m-160 1h0m17 0h0m11 0h0m7 0h0m4 0h0m8 0h0m2 0h0m3 0h0m1 0h0m2 0h0m8 0h0m5 0h0m10 0h0m2 0h0m5 0h0m3 0h0m1 0h0m3 0h0m5 0h0m3 0h0m15 0h0m4 0h0m30 0h0m4 0h0m-168 1h0m4 0h0m19 0h0m21 0h0m15 0h0m1 0h0m4 0h0m12 0h0m1 0h0m40 0h0m27 0h0m20 0h0m64 0h0m-196 1h0m5 0h0m8 0h0m4 0h0m2 0h0m7 0h0m2 0h0m4 0h0m17 0h0m5 0h0m15 0h0m5 0h0m1 0h0m1 0h0m15 0h0m8 0h0m10 0h0m-116 1h0m1 0h0m8 0h0m2 0h0m2 0h0m1 0h0m3 0h0m8 0h0m4 0h0m3 0h0m11 0h0m8 0h0m11 0h0m2 0h0m6 0h0m18 0h0m5 0h0m33 0h0m-148 1h0m33 0h0m11 0h0m1 0h0m25 0h0m2 0h0m7 0h0m5 0h0m18 0h0m2 0h0m41 0h0" stroke="#9c9c9c" stroke-width="3" stroke-linecap="round" fill="none"/>
<path transform="scale(0.5)" d="M1071 566h0m4 2h0m-19 1h0m16 0h0m-42 4h0m17 0h0m28 0h0m-53 4h0m31 0h0m8 1h0m-60 1h0m37 2h0m-28 2h0m12 0h0m21 0h0m8 0h0m16 0h0m-82 1h0m21 0h0m69 0h0m-24 1h0m15 0h0m-48 1h0m17 0h0m39 0h0m-90 2h0m26 0h0m-19 1h0m12 1h0m66 0h0m3 0h0m-85 1h0m61 1h0m17 0h0m-63 1h0m72 1h0m-32 1h0m3 0h0m17 0h0m-74 1h0m29 0h0m24 0h0m4 0h0m22 0h0m6 0h0m-72 1h0m32 0h0m27 0h0m-75 1h0m74 0h0m11 0h0m1 0h0m2 0h0m-16 1h0m-5 2h0m7 0h0m-40 1h0m14 0h0m37 0h0m-39 1h0m27 0h0m11 0h0m2 0h0m-99 1h0m10 0h0m24 0h0m-37 1h0m80 0h0m-84 1h0m99 0h0m4 0h0m-2 1h0m-75 1h0m40 0h0m21 0h0m9 0h0m3 0h0m2 0h0m5 0h0m2 0h0m-109 1h0m58 0h0m38 0h0m1 0h0m10 0h0m1 0h0m-105 1h0m79 0h0m4 0h0m12 0h0m12 0h0m-90 1h0m84 0h0m3 0h0m4 0h0m-15 1h0m8 0h0m-91 1h0m84 0h0m6 0h0m1 0h0m-82 1h0m53 0h0m8 0h0m-58 1h0m49 0h0m22 0h0m4 0h0m3 0h0m-8 1h0m2 0h0m2 0h0m1 0h0m7 0h0m-21 1h0m18 0h0m-56 1h0m36 1h0m5 0h0m10 0h0m4 0h0m6 0h0m2 0h0m-77 1h0m50 0h0m2 0h0m5 0h0m5 0h0m7 0h0m5 0h0m-17 1h0m2 0h0m11 0h0m4 1h0m-93 1h0m71 0h0m15 0h0m1 0h0m3 0h0m3 0h0m4 0h0m-30 1h0m4 0h0m2 0h0m9 0h0m8 0h0m1 0h0m-79 1h0m56 0h0m28 0h0m-26 1h0m19 0h0m7 0h0m1 0h0m-51 1h0m17 0h0m11 0h0m2 0h0m1 0h0m3 0h0m5 0h0m-42 1h0m18 0h0m7 0h0m8 0h0m6 0h0m2 0h0m4 0h0m2 0h0m1 0h0m4 0h0m-31 1h0m7 0h0m10 0h0m4 0h0m4 0h0m-56 1h0m12 0h0m22 0h0m2 0h0m9 0h0m2 0h0m12 0h0m2 0h0m1 0h0m1 0h0m-93 1h0m69 0h0m1 0h0m11 0h0m3 0h0m10 0h0m-104 1h0m75 0h0m13 0h0m11 0h0m-13 1h0m2 0h0m9 0h0m-27 1h0m4 0h0m6 0h0m2 0h0m6 0h0m6 0h0m-7 1h0m4 0h0m8 0h0m2 0h0m-85 1h0m28 0h0m19 0h0m15 0h0m3 0h0m4 0h0m5 0h0m5 0h0m1 0h0m1 0h0m-80 1h0m48 0h0m16 0h0m4 1h0m11 0h0m4 0h0m-31 1h0m13 0h0m2 0h0m2 0h0m1 0h0m3 0h0m4 0h0m6 0h0m1 0h0m1 0h0m-38 1h0m12 0h0m18 0h0m5 0h0m1 0h0m-105 1h0m76 0h0m1 0h0m13 0h0m-17 1h0m8 0h0m7 0h0m2 0h0m16 0h0m1 0h0m-24 1h0m19 0h0m2 0h0m-40 1h0m20 0h0m5 0h0m2 0h0m1 0h0m2 0h0m5 0h0m1 0h0m-100 1h0m106 0h0m-44 1h0m6 0h0m10 0h0m10 0h0m3 0h0m2 0h0m2 0h0m9 0h0m-50 1h0m11 0h0m7 0h0m12 0h0m8 0h0m2 0h0m1 0h0m2 0h0m-92 1h0m77 0h0m8 0h0m8 0h0m5 0h0m-42 1h0m25 0h0m2 0h0m4 0h0m4 0h0m11 0h0m-80 1h0m59 0h0m3 0h0m2 0h0m9 0h0m7 0h0m-103 1h0m86 0h0m3 0h0m11 0h0m2 0h0m-83 1h0m71 0h0m3 0h0m12 0h0m-90 1h0m43 0h0m9 0h0m17 0h0m5 0h0m4 0h0m2 0h0m-35 1h0m10 0h0m3 0h0m6 0h0m7 0h0m2 0h0m5 0h0m4 0h0m4 0h0m-38 1h0m9 0h0m3 0h0m25 0h0m1 0h0m3 0h0m-100 1h0m41 0h0m12 0h0m8 0h0m2 0h0m19 0h0m2 0h0m2 0h0m-88 1h0m60 0h0m8 0h0m7 0h0m4 0h0m17 0h0m2 0h0m-42 1h0m40 0h0m1 0h0m1 0h0m1 0h0m-84 1h0m1 0h0m30 0h0m10 0h0m8 0h0m7 0h0m2 0h0m13 0h0m1 0h0m4 0h0m2 0h0m-55 1h0m43 0h0m11 0h0m6 0h0m-30 1h0m2 0h0m2 0h0m17 0h0m4 0h0m1 0h0m-73 1h0m35 0h0m1 0h0m2 0h0m35 0h0m-42 1h0m13 0h0m10 0h0m10 0h0m1 0h0m13 0h0m-91 1h0m4 0h0m23 0h0m18 0h0m20 0h0m4 0h0m2 0h0m11 0h0m2 0h0m5 0h0m-21 1h0m10 0h0m7 0h0m1 0h0m-43 1h0m23 0h0m12 0h0m2 0h0m6 0h0m8 0h0m-52 1h0m3 0h0m17 0h0m21 0h0m5 0h0m4 0h0m-95 1h0m58 0h0m11 0h0m1 0h0m3 0h0m12 0h0m2 0h0m2 0h0m1 0h0m1 0h0m5 0h0m1 0h0m-58 1h0m11 0h0m13 0h0m3 0h0m5 0h0m5 0h0m3 0h0m1 0h0m1 0h0m7 0h0m2 0h0m-36 1h0m29 0h0m1 0h0m3 0h0m-69 1h0m28 0h0m19 0h0m10 0h0m3 0h0m6 0h0m10 0h0m4 0h0m-78 1h0m31 0h0m13 0h0m1 0h0m6 0h0m3 0h0m3 0h0m4 0h0m5 0h0m9 0h0m-88 1h0m55 0h0m7 0h0m4 0h0m6 0h0m1 0h0m6 0h0m3 0h0m1 0h0m1 0h0m-82 1h0m10 0h0m44 0h0m6 0h0m2 0h0m3 0h0m4 0h0m6 0h0m-21 1h0m2 0h0m10 0h0m5 0h0m5 0h0m3 0h0m1 0h0m2 0h0m1 0h0m-30 1h0m19 0h0m2 0h0m1 0h0m4 0h0m4 0h0m-68 1h0m36 0h0m3 0h0m6 0h0m15 0h0m6 0h0m6 0h0m-87 1h0m24 0h0m9 0h0m9 0h0m11 0h0m12 0h0m5 0h0m3 0h0m6 0h0m2 0h0m7 0h0m-99 1h0m26 0h0m30 0h0m6 0h0m6 0h0m6 0h0m4 0h0m2 0h0m6 0h0m4 0h0m1 0h0m6 0h0m-49 1h0m1 0h0m8 0h0m12 0h0m6 0h0m11 0h0m2 0h0m6 0h0m2 0h0m2 0h0m2 0h0m-55 1h0m21 0h0m2 0h0m1 0h0m5 0h0m2 0h0m1 0h0m1 0h0m1 0h0m2 0h0m1 0h0m3 0h0m1 0h0m2 0h0m4 0h0m-37 1h0m6 0h0m10 0h0m2 0h0m5 0h0m6 0h0m1 0h0m9 0h0m4 0h0m1 0h0m-57 1h0m11 0h0m8 0h0m5 0h0m4 0h0m3 0h0m2 0h0m8 0h0m2 0h0m4 0h0m-29 1h0m9 0h0m14 0h0m2 0h0m1 0h0m7 0h0m3 0h0m3 0h0m-52 1h0m3 0h0m14 0h0m1 0h0m2 0h0m13 0h0m5 0h0m3 0h0m5 0h0m5 0h0m-75 1h0m25 0h0m7 0h0m1 0h0m2 0h0m7 0h0m20 0h0m2 0h0m13 0h0m-45 1h0m10 0h0m13 0h0m2 0h0m4 0h0m11 0h0m3 0h0m-42 1h0m21 0h0m10 0h0m-33 1h0m1 0h0m1 0h0m2 0h0m15 0h0m1 0h0m3 0h0m7 0h0m7 0h0m-70 1h0m36 0h0m12 0h0m1 0h0m3 0h0m3 0h0m2 0h0m3 0h0m5 0h0m12 0h0m-53 1h0m9 0h0m14 0h0m7 0h0m7 0h0m3 0h0m6 0h0m5 0h0m-47 1h0m2 0h0m9 0h0m6 0h0m5 0h0m10 0h0m2 0h0m3 0h0m5 0h0m6 0h0m2 0h0m1 0h0m-53 1h0m7 0h0m6 0h0m1 0h0m7 0h0m6 0h0m9 0h0m2 0h0m9 0h0m1 0h0m-40 1h0m13 0h0m1 0h0m3 0h0m2 0h0m1 0h0m7 0h0m2 0h0m1 0h0m1 0h0m5 0h0m1 0h0m-50 1h0m37 0h0m4 0h0m1 0h0m4 0h0m3 0h0m4 0h0m2 0h0m-49 1h0m1 0h0m1 0h0m27 0h0m9 0h0m6 0h0m6 0h0m-44 1h0m22 0h0m1 0h0m8 0h0m2 0h0m1 0h0m1 0h0m7 0h0m-54 1h0m29 0h0m9 0h0m15 0h0m1 0h0m1 0h0m3 0h0m-77 1h0m22 0h0m2 0h0m23 0h0m10 0h0m2 0h0m8 0h0m-17 1h0m16 0h0m2 0h0m1 0h0m1 0h0m4 0h0m-52 1h0m13 0h0m10 0h0m28 0h0m-40 1h0m4 0h0m5 0h0m19 0h0m1 0h0m7 0h0m-50 1h0m8 0h0m1 0h0m8 0h0m1 0h0m1 0h0m6 0h0m1 0h0m4 0h0m3 0h0m3 0h0m8 0h0m13 0h0m1 0h0m-67 1h0m11 0h0m4 0h0m3 0h0m5 0h0m7 0h0m4 0h0m13 0h0m4 0h0m2 0h0m1 0h0m-47 1h0m3 0h0m3 0h0m4 0h0m7 0h0m21 0h0m1 0h0m2 0h0m17 0h0m-57 1h0m14 0h0m2 0h0m5 0h0m2 0h0m1 0h0m5 0h0m5 0h0m1 0h0m2 0h0m5 0h0m3 0h0m4 0h0m2 0h0m1 0h0m5 0h0m-46 1h0m3 0h0m4 0h0m2 0h0m8 0h0m1 0h0m4 0h0m7 0h0m2 0h0m12 0h0m2 0h0m-72 1h0m24 0h0m5 0h0m13 0h0m1 0h0m1 0h0m14 0h0m4 0h0m11 0h0m-38 1h0m11 0h0m1 0h0m1 0h0m8 0h0m2 0h0m5 0h0m2 0h0m2 0h0m-49 1h0m7 0h0m1 0h0m6 0h0m5 0h0m18 0h0m1 0h0m6 0h0m8 0h0m5 0h0m-56 1h0m3 0h0m2 0h0m12 0h0m8 0h0m2 0h0m6 0h0m11 0h0m2 0h0m2 0h0m-39 1h0m1 0h0m1 0h0m15 0h0m16 0h0m1 0h0m1 0h0m6 0h0m-36 1h0m3 0h0m1 0h0m2 0h0m10 0h0m5 0h0m4 0h0m6 0h0m1 0h0m1 0h0m5 0h0m-37 1h0m2 0h0m10 0h0m1 0h0m9 0h0m6 0h0m3 0h0m1 0h0m-71 1h0m27 0h0m2 0h0m4 0h0m3 0h0m8 0h0m5 0h0m1 0h0m2 0h0m3 0h0m1 0h0m4 0h0m3 0h0m-56 1h0m17 0h0m18 0h0m5 0h0m12 0h0m2 0h0m8 0h0m6 0h0m-51 1h0m6 0h0m4 0h0m3 0h0m2 0h0m3 0h0m2 0h0m9 0h0m5 0h0m5 0h0m3 0h0m5 0h0m5 0h0m2 0h0m-48 1h0m6 0h0m10 0h0m10 0h0m18 0h0m-32 1h0m11 0h0m14 0h0m3 0h0m4 0h0m5 0h0m-70 1h0m13 0h0m18 0h0m8 0h0m1 0h0m4 0h0m6 0h0m-44 1h0m31 0h0m1 0h0m9 0h0m3 0h0m14 0h0m7 0h0m-32 1h0m7 0h0m6 0h0m10 0h0m-47 1h0m14 0h0m1 0h0m7 0h0m4 0h0m1 0h0m12 0h0m6 0h0m4 0h0m3 0h0m-60 1h0m27 0h0m3 0h0m1 0h0m3 0h0m6 0h0m9 0h0m1 0h0m9 0h0m4 0h0m-56 1h0m4 0h0m1 0h0m6 0h0m2 0h0m1 0h0m12 0h0m2 0h0m15 0h0m1 0h0m4 0h0m3 0h0m-41 1h0m10 0h0m15 0h0m3 0h0m7 0h0m2 0h0m4 0h0m2 0h0m-22 1h0m5 0h0m2 0h0m2 0h0m3 0h0m3 0h0m2 0h0m5 0h0m-54 1h0m36 0h0m1 0h0m1 0h0m4 0h0m1 0h0m6 0h0m3 0h0m4 0h0m-49 1h0m19 0h0m6 0h0m22 0h0m1 0h0m1 0h0m-42 1h0m13 0h0m2 0h0m2 0h0m5 0h0m7 0h0m2 0h0m-30 1h0m2 0h0m8 0h0m3 0h0m2 0h0m5 0h0m2 0h0m4 0h0m2 0h0m3 0h0m3 0h0m1 0h0m3 0h0m2 0h0m-52 1h0m11 0h0m12 0h0m8 0h0m1 0h0m23 0h0m-55 1h0m19 0h0m1 0h0m3 0h0m3 0h0m4 0h0m15 0h0m1 0h0m-37 1h0m11 0h0m1 0h0m3 0h0m7 0h0m10 0h0m5 0h0m-59 1h0m12 0h0m15 0h0m10 0h0m3 0h0m2 0h0m1 0h0m1 0h0m7 0h0m2 0h0m1 0h0m-34 1h0m4 0h0m20 0h0m1 0h0m1 0h0m2 0h0m2 0h0m1 0h0m2 0h0m7 0h0m7 0h0m-69 1h0m13 0h0m22 0h0m1 0h0m1 0h0m3 0h0m2 0h0m3 0h0m1 0h0m4 0h0m3 0h0m4 0h0m6 0h0m1 0h0m-27 1h0m1 0h0m4 0h0m1 0h0m3 0h0m3 0h0m3 0h0m8 0h0m4 0h0m-46 1h0m11 0h0m3 0h0m1 0h0m13 0h0m6 0h0m4 0h0m-32 1h0m6 0h0m17 0h0m3 0h0m3 0h0m4 0h0m-16 1h0m10 0h0m6 0h0m4 0h0m2 0h0" stroke="#3f2a80" stroke-width="3.4" stroke-linecap="round" fill="none"/>
<path transform="scale(0.5)" d="M1252 612h0m-22 18h0m17 0h0m23 4h0m-40 1h0m9 1h0m24 4h0m-32 2h0m37 2h0m-46 5h0m54 0h0m-57 6h0m55 5h0m-9 2h0m15 0h0m7 1h0m-64 1h0m4 0h0m14 0h0m-21 1h0m5 0h0m34 1h0m-40 1h0m6 0h0m59 0h0m-63 1h0m45 0h0m42 0h0m-79 1h0m-4 3h0m6 0h0m3 0h0m17 0h0m-31 1h0m23 0h0m3 0h0m-22 1h0m9 0h0m-13 1h0m1 0h0m2 0h0m5 0h0m6 0h0m6 0h0m-20 1h0m5 0h0m9 0h0m3 0h0m5 0h0m6 0h0m-29 1h0m6 0h0m9 0h0m13 0h0m7 0h0m-35 1h0m6 0h0m1 0h0m5 0h0m15 0h0m-12 1h0m4 0h0m3 0h0m1 0h0m5 0h0m22 0h0m-47 1h0m74 0h0m-77 1h0m8 0h0m8 0h0m1 0h0m1 0h0m3 0h0m22 0h0m-42 1h0m22 0h0m2 0h0m8 0h0m21 0h0m-52 1h0m3 0h0m9 0h0m3 0h0m3 0h0m4 0h0m3 0h0m22 0h0m-49 1h0m7 0h0m27 0h0m24 0h0m-53 1h0m3 0h0m2 0h0m7 0h0m3 0h0m19 0h0m3 0h0m-31 1h0m24 0h0m6 0h0m68 0h0m-102 1h0m12 0h0m1 0h0m8 0h0m9 0h0m6 0h0m-40 1h0m7 0h0m37 0h0m-40 1h0m1 0h0m10 0h0m1 0h0m23 0h0m12 0h0m-43 1h0m6 0h0m18 0h0m14 0h0m78 0h0m-126 1h0m8 0h0m11 0h0m4 0h0m1 0h0m13 0h0m1 0h0m4 0h0m81 0h0m-119 1h0m39 0h0m1 0h0m-44 1h0m1 0h0m20 0h0m4 0h0m2 0h0m3 0h0m3 0h0m3 0h0m8 0h0m1 0h0m2 0h0m-38 1h0m6 0h0m20 0h0m3 0h0m3 0h0m9 0h0m1 0h0m4 0h0m9 0h0m-60 1h0m7 0h0m34 0h0m3 0h0m-45 1h0m27 0h0m-30 1h0m18 0h0m1 0h0m1 0h0m3 0h0m14 0h0m1 0h0m13 0h0m11 0h0m-21 1h0m3 0h0m5 0h0m4 0h0m1 0h0m5 0h0m-43 1h0m4 0h0m4 0h0m9 0h0m6 0h0m7 0h0m-43 1h0m1 0h0m3 0h0m16 0h0m1 0h0m14 0h0m6 0h0m3 0h0m4 0h0m-47 1h0m1 0h0m14 0h0m5 0h0m4 0h0m4 0h0m18 0h0m9 0h0m-60 1h0m2 0h0m27 0h0m1 0h0m3 0h0m3 0h0m2 0h0m8 0h0m-32 1h0m1 0h0m1 0h0m22 0h0m9 0h0m15 0h0m-63 1h0m7 0h0m3 0h0m11 0h0m10 0h0m1 0h0m11 0h0m1 0h0m9 0h0m7 0h0m-57 1h0m2 0h0m8 0h0m1 0h0m1 0h0m7 0h0m1 0h0m3 0h0m46 0h0m-64 1h0m20 0h0m5 0h0m11 0h0m2 0h0m15 0h0m46 0h0m-104 1h0m11 0h0m4 0h0m7 0h0m4 0h0m2 0h0m1 0h0m3 0h0m5 0h0m9 0h0m2 0h0m-50 1h0m2 0h0m13 0h0m4 0h0m1 0h0m8 0h0m16 0h0m20 0h0m-63 1h0m6 0h0m8 0h0m1 0h0m1 0h0m9 0h0m8 0h0m13 0h0m2 0h0m7 0h0m5 0h0m-61 1h0m5 0h0m15 0h0m3 0h0m1 0h0m16 0h0m6 0h0m14 0h0m-45 1h0m34 0h0m13 0h0m-57 1h0m12 0h0m10 0h0m11 0h0m5 0h0m1 0h0m3 0h0m12 0h0m-57 1h0m7 0h0m2 0h0m2 0h0m9 0h0m23 0h0m13 0h0m-45 1h0m2 0h0m1 0h0m3 0h0m3 0h0m1 0h0m10 0h0m17 0h0m2 0h0m16 0h0m-56 1h0m3 0h0m20 0h0m7 0h0m1 0h0m19 0h0m2 0h0m-65 1h0m6 0h0m1 0h0m4 0h0m1 0h0m4 0h0m4 0h0m5 0h0m3 0h0m25 0h0m1 0h0m7 0h0m2 0h0m-60 1h0m4 0h0m5 0h0m3 0h0m5 0h0m5 0h0m5 0h0m9 0h0m1 0h0m10 0h0m14 0h0m-59 1h0m25 0h0m2 0h0m2 0h0m9 0h0m1 0h0m10 0h0m1 0h0m-13 1h0m1 0h0m4 0h0m1 0h0m10 0h0m3 0h0m31 0h0m-91 1h0m2 0h0m2 0h0m1 0h0m17 0h0m10 0h0m2 0h0m6 0h0m5 0h0m1 0h0m21 0h0m-63 1h0m2 0h0m14 0h0m6 0h0m4 0h0m6 0h0m4 0h0m3 0h0m1 0h0m9 0h0m-40 1h0m6 0h0m13 0h0m2 0h0m13 0h0m1 0h0m1 0h0m4 0h0m-54 1h0m35 0h0m16 0h0m13 0h0m-61 1h0m2 0h0m33 0h0m4 0h0m4 0h0m2 0h0m2 0h0m10 0h0m8 0h0m-67 1h0m4 0h0m10 0h0m13 0h0m1 0h0m2 0h0m3 0h0m1 0h0m3 0h0m3 0h0m1 0h0m4 0h0m3 0h0m1 0h0m2 0h0m25 0h0m-53 1h0m4 0h0m21 0h0m8 0h0m2 0h0m2 0h0m7 0h0m-59 1h0m1 0h0m3 0h0m1 0h0m25 0h0m1 0h0m23 0h0m1 0h0m2 0h0m59 0h0m-118 1h0m2 0h0m2 0h0m4 0h0m24 0h0m5 0h0m2 0h0m12 0h0m3 0h0m1 0h0m-61 1h0m7 0h0m9 0h0m24 0h0m9 0h0m4 0h0m3 0h0m12 0h0m7 0h0m-73 1h0m1 0h0m4 0h0m3 0h0m3 0h0m18 0h0m5 0h0m15 0h0m7 0h0m-57 1h0m8 0h0m3 0h0m10 0h0m20 0h0m2 0h0m7 0h0m7 0h0m11 0h0m1 0h0m-56 1h0m12 0h0m5 0h0m12 0h0m7 0h0m12 0h0m7 0h0m1 0h0m-47 1h0m18 0h0m4 0h0m6 0h0m4 0h0m2 0h0m-57 1h0m9 0h0m1 0h0m18 0h0m1 0h0m4 0h0m2 0h0m26 0h0m-60 1h0m1 0h0m25 0h0m1 0h0m36 0h0m-55 1h0m10 0h0m16 0h0m4 0h0m14 0h0m10 0h0m41 0h0m-102 1h0m27 0h0m14 0h0m21 0h0m4 0h0m56 0h0m-120 1h0m6 0h0m2 0h0m16 0h0m10 0h0m1 0h0m6 0h0m16 0h0m2 0h0m1 0h0m-56 1h0m3 0h0m3 0h0m2 0h0m4 0h0m10 0h0m2 0h0m5 0h0m2 0h0m5 0h0m4 0h0m6 0h0m3 0h0m-54 1h0m3 0h0m2 0h0m11 0h0m5 0h0m16 0h0m1 0h0m10 0h0m2 0h0m-45 1h0m25 0h0m2 0h0m4 0h0m6 0h0m5 0h0m10 0h0m54 0h0m-95 1h0m22 0h0m15 0h0m3 0h0" stroke="#f59b62" stroke-width="3.2" stroke-linecap="round" fill="none"/>
<text x="499.4" y="312.6" font-size="4.7" fill="#3b2a85">ETV7</text>
<text x="517.7" y="326" font-size="4.7" fill="#3b2a85">IRF8</text>
<text x="503" y="339" font-size="4.7" fill="#3b2a85">FOXP1</text>
<text x="482.5" y="341.6" font-size="4.7" fill="#3b2a85">ARID5A</text>
<text x="501" y="345.2" font-size="4.7" fill="#3b2a85">AHRR</text>
<text x="495.7" y="350.7" font-size="4.7" fill="#3b2a85">MXI1</text>
<text x="507.6" y="350.9" font-size="4.7" fill="#3b2a85">FOXO1</text>
<text x="493" y="360.8" font-size="4.7" fill="#3b2a85">ETV1</text>
<text x="507.6" y="361" font-size="4.7" fill="#3b2a85">HLF</text>
<text x="503" y="368.5" font-size="4.7" fill="#3b2a85">EPAS1</text>
<text x="538.3" y="320.5" font-size="4.7" fill="#3b2a85">MBL1</text>
<text x="538.3" y="332.4" font-size="4.7" fill="#3b2a85">IL_CEBPD</text>
<text x="538.3" y="338.3" font-size="4.7" fill="#3b2a85">NT5B4</text>
<text x="538.3" y="344.3" font-size="4.7" fill="#3b2a85">L3K2</text>
<text x="538.3" y="350.2" font-size="4.7" fill="#3b2a85">ILL-ZNF662</text>
<text x="538.3" y="355.9" font-size="4.7" fill="#3b2a85">CTS1</text>
<text x="538.3" y="361.7" font-size="4.7" fill="#3b2a85">ZFP41</text>
<text x="538.3" y="368.2" font-size="4.7" fill="#3b2a85">BACH2</text>
<text x="538.3" y="374.6" font-size="4.7" fill="#3b2a85">RBPJL</text>
<text x="625.6" y="303.5" font-size="4.7" fill="#f0955a">E2F5</text>
<text x="616" y="342" font-size="4.7" fill="#f0955a">SGLP1</text>
<text x="593.4" y="350.6" font-size="4.7" fill="#f0955a">ESRRG</text>
<text x="610" y="346" font-size="4.7" fill="#f0955a">SIM1</text>
<text x="594.4" y="365" font-size="4.7" fill="#f0955a">MEIS2</text>
<text x="600" y="359" font-size="4.7" fill="#f0955a">MITF</text>
<text x="582.4" y="370.7" font-size="4.7" fill="#f0955a">PDGFRL</text>
<text x="589.8" y="377.2" font-size="4.7" fill="#f0955a">BARX2</text>
<text x="647.6" y="358.8" font-size="4.7" fill="#f0955a">TRPS1</text>
<text x="633" y="361.6" font-size="4.7" fill="#f0955a">KLF2</text>
<text x="641" y="374.4" font-size="4.7" fill="#f0955a">SOX5</text>
<text x="619" y="380" font-size="4.7" fill="#f0955a">ABF1</text>
<line x1="538" y1="234" x2="538" y2="394.8" stroke="#e8403f" stroke-width="0.85"/>
<line x1="609" y1="234" x2="609" y2="394.8" stroke="#e8403f" stroke-width="0.85"/>
<line x1="469.9" y1="370.9" x2="683.5" y2="370.9" stroke="#e8403f" stroke-width="0.85"/>
</g>
<text x="502.5" y="400" font-size="4.0" text-anchor="middle" fill="#444">−2</text>
<text x="538" y="400" font-size="4.0" text-anchor="middle" fill="#444">−1</text>
<text x="573.5" y="400" font-size="4.0" text-anchor="middle" fill="#444">0</text>
<text x="609" y="400" font-size="4.0" text-anchor="middle" fill="#444">1</text>
<text x="644.5" y="400" font-size="4.0" text-anchor="middle" fill="#444">2</text>
<text x="680" y="400" font-size="4.0" text-anchor="middle" fill="#444">3</text>
<text x="468.7" y="388.8" font-size="4.0" text-anchor="end" fill="#444">0</text>
<text x="468.7" y="350.8" font-size="4.0" text-anchor="end" fill="#444">3</text>
<text x="468.7" y="312.7" font-size="4.0" text-anchor="end" fill="#444">6</text>
<text x="468.7" y="274.7" font-size="4.0" text-anchor="end" fill="#444">9</text>
<text x="468.7" y="236.6" font-size="4.0" text-anchor="end" fill="#444">12</text>
<text x="542.1" y="229.8" font-size="11.7">H3K27me3</text>
<text x="576.7" y="403.6" font-size="4.6" text-anchor="middle" fill="#333">logFC</text>
<text transform="translate(463.2,314.3) rotate(-90)" font-size="4.7" text-anchor="middle" fill="#222">-log10(adj.P.Val)</text>
<text x="-0.8" y="422.6" font-size="14.2" font-weight="bold">D</text>
<text x="111.6" y="422.8" font-size="14.2" font-weight="bold">E</text>
<text x="-0.8" y="546.6" font-size="14.2" font-weight="bold">F</text>
<defs><pattern id="gp" width="2.2" height="2.2" patternUnits="userSpaceOnUse"><rect width="2.2" height="2.2" fill="#fcc9aa"/><path d="M0 0.3H2.2M0.3 0V2.2" stroke="#fde0cd" stroke-width="0.5"/></pattern><pattern id="gh" width="2.6" height="2.6" patternUnits="userSpaceOnUse"><rect width="2.6" height="2.6" fill="#a99cc9"/><path d="M0 0.3H2.6M0.3 0V2.6" stroke="#b9afd6" stroke-width="0.5"/></pattern></defs>
<rect x="37.6" y="503.3" width="13.4" height="1.5" fill="url(#gp)" stroke="#000" stroke-width="1.3"/>
<rect x="58.6" y="473.3" width="13.4" height="31.5" fill="url(#gh)" stroke="#000" stroke-width="1.3"/>
<line x1="44.3" y1="503.3" x2="44.3" y2="502.8" stroke="#f89a5e" stroke-width="0.8"/>
<line x1="41.3" y1="502.8" x2="47.3" y2="502.8" stroke="#f89a5e" stroke-width="0.8"/>
<line x1="65.3" y1="473.3" x2="65.3" y2="464.2" stroke="#3f2a80" stroke-width="0.8"/>
<line x1="62.3" y1="464.2" x2="68.3" y2="464.2" stroke="#3f2a80" stroke-width="0.8"/>
<circle cx="41.3" cy="499.5" r="1.05" fill="#f89a5e"/>
<circle cx="38.8" cy="502.8" r="1.05" fill="#f89a5e"/>
<circle cx="43.3" cy="503.3" r="1.05" fill="#f89a5e"/>
<circle cx="46.3" cy="501.9" r="1.05" fill="#f89a5e"/>
<circle cx="48.8" cy="503.7" r="1.05" fill="#f89a5e"/>
<circle cx="40.3" cy="504.2" r="1.05" fill="#f89a5e"/>
<circle cx="44.3" cy="504.4" r="1.05" fill="#f89a5e"/>
<circle cx="47.3" cy="503" r="1.05" fill="#f89a5e"/>
<circle cx="49.8" cy="503.9" r="1.05" fill="#f89a5e"/>
<circle cx="42.3" cy="502.2" r="1.05" fill="#f89a5e"/>
<rect x="64.2" y="439.3" width="2.1" height="2.1" fill="#3f2a80"/>
<rect x="64.2" y="463" width="2.1" height="2.1" fill="#3f2a80"/>
<rect x="64.2" y="469.1" width="2.1" height="2.1" fill="#3f2a80"/>
<rect x="64.2" y="473.4" width="2.1" height="2.1" fill="#3f2a80"/>
<rect x="64.2" y="485.6" width="2.1" height="2.1" fill="#3f2a80"/>
<rect x="64.2" y="502.7" width="2.1" height="2.1" fill="#3f2a80"/>
<line x1="30.3" y1="431.3" x2="30.3" y2="505.3" stroke="#2b2b2b" stroke-width="1.0"/>
<line x1="29.8" y1="504.8" x2="79.8" y2="504.8" stroke="#2b2b2b" stroke-width="1.0"/>
<line x1="27.1" y1="504.8" x2="30.3" y2="504.8" stroke="#2b2b2b" stroke-width="0.9"/>
<text x="26.8" y="506.7" font-size="5.5" text-anchor="end" font-weight="bold" fill="#1a1a1a">0</text>
<line x1="27.1" y1="490.2" x2="30.3" y2="490.2" stroke="#2b2b2b" stroke-width="0.9"/>
<text x="26.8" y="492.1" font-size="5.5" text-anchor="end" font-weight="bold" fill="#1a1a1a">200</text>
<line x1="27.1" y1="475.5" x2="30.3" y2="475.5" stroke="#2b2b2b" stroke-width="0.9"/>
<text x="26.8" y="477.4" font-size="5.5" text-anchor="end" font-weight="bold" fill="#1a1a1a">400</text>
<line x1="27.1" y1="460.9" x2="30.3" y2="460.9" stroke="#2b2b2b" stroke-width="0.9"/>
<text x="26.8" y="462.8" font-size="5.5" text-anchor="end" font-weight="bold" fill="#1a1a1a">600</text>
<line x1="27.1" y1="446.2" x2="30.3" y2="446.2" stroke="#2b2b2b" stroke-width="0.9"/>
<text x="26.8" y="448.1" font-size="5.5" text-anchor="end" font-weight="bold" fill="#1a1a1a">800</text>
<line x1="27.1" y1="431.6" x2="30.3" y2="431.6" stroke="#2b2b2b" stroke-width="0.9"/>
<text x="26.8" y="433.5" font-size="5.5" text-anchor="end" font-weight="bold" fill="#1a1a1a">1000</text>
<line x1="44.3" y1="504.8" x2="44.3" y2="508.2" stroke="#2b2b2b" stroke-width="1.0"/>
<line x1="65.3" y1="504.8" x2="65.3" y2="508.2" stroke="#2b2b2b" stroke-width="1.0"/>
<text transform="translate(46.3,512.8) rotate(-45)" font-size="5.6" text-anchor="end" font-weight="bold">PT CART</text>
<text transform="translate(67.3,512.8) rotate(-45)" font-size="5.6" text-anchor="end" font-weight="bold">HD CART</text>
<text x="55.1" y="422.4" font-size="7.0" text-anchor="middle" font-weight="bold">TCF7</text>
<text x="55.3" y="429.8" font-size="6.3" text-anchor="middle" fill="#222">P=7.73x10<tspan font-size="4.3" dy="-2.2">-10</tspan></text>
<line x1="43.1" y1="433.2" x2="66.5" y2="433.2" stroke="#000" stroke-width="1.4"/>
<text transform="translate(9.6,468.4) rotate(-90)" font-size="6.1" text-anchor="middle" font-weight="bold" dy="2.1">Scaled transcript + 1</text>
<rect x="148" y="485" width="13.4" height="19.7" fill="url(#gp)" stroke="#000" stroke-width="1.3"/>
<rect x="169" y="462.7" width="13.4" height="42" fill="url(#gh)" stroke="#000" stroke-width="1.3"/>
<line x1="154.7" y1="485" x2="154.7" y2="483.2" stroke="#f89a5e" stroke-width="0.8"/>
<line x1="151.7" y1="483.2" x2="157.7" y2="483.2" stroke="#f89a5e" stroke-width="0.8"/>
<line x1="175.7" y1="462.7" x2="175.7" y2="457.2" stroke="#3f2a80" stroke-width="0.8"/>
<line x1="172.7" y1="457.2" x2="178.7" y2="457.2" stroke="#3f2a80" stroke-width="0.8"/>
<circle cx="154.7" cy="462.7" r="1.05" fill="#f89a5e"/>
<circle cx="154.7" cy="473.7" r="1.05" fill="#f89a5e"/>
<circle cx="154.7" cy="477.3" r="1.05" fill="#f89a5e"/>
<circle cx="152.3" cy="482.8" r="1.05" fill="#f89a5e"/>
<circle cx="156.5" cy="482.8" r="1.05" fill="#f89a5e"/>
<circle cx="149.2" cy="486.4" r="1.05" fill="#f89a5e"/>
<circle cx="152.7" cy="486.4" r="1.05" fill="#f89a5e"/>
<circle cx="156.2" cy="486.4" r="1.05" fill="#f89a5e"/>
<circle cx="160.2" cy="484.6" r="1.05" fill="#f89a5e"/>
<circle cx="149.2" cy="490.1" r="1.05" fill="#f89a5e"/>
<circle cx="152.7" cy="492.1" r="1.05" fill="#f89a5e"/>
<circle cx="156.7" cy="493.8" r="1.05" fill="#f89a5e"/>
<circle cx="159.7" cy="492.1" r="1.05" fill="#f89a5e"/>
<circle cx="154.7" cy="497" r="1.05" fill="#f89a5e"/>
<rect x="174.6" y="439.8" width="2.1" height="2.1" fill="#3f2a80"/>
<rect x="174.6" y="443.4" width="2.1" height="2.1" fill="#3f2a80"/>
<rect x="172.1" y="467.1" width="2.1" height="2.1" fill="#3f2a80"/>
<rect x="176.8" y="465.3" width="2.1" height="2.1" fill="#3f2a80"/>
<rect x="172.1" y="478.1" width="2.1" height="2.1" fill="#3f2a80"/>
<rect x="176.8" y="476.3" width="2.1" height="2.1" fill="#3f2a80"/>
<line x1="140.7" y1="431.4" x2="140.7" y2="505.2" stroke="#2b2b2b" stroke-width="1.0"/>
<line x1="140.2" y1="504.7" x2="190.2" y2="504.7" stroke="#2b2b2b" stroke-width="1.0"/>
<line x1="137.5" y1="504.7" x2="140.7" y2="504.7" stroke="#2b2b2b" stroke-width="0.9"/>
<text x="137.2" y="506.6" font-size="5.5" text-anchor="end" font-weight="bold" fill="#1a1a1a">0</text>
<line x1="137.5" y1="486.4" x2="140.7" y2="486.4" stroke="#2b2b2b" stroke-width="0.9"/>
<text x="137.2" y="488.3" font-size="5.5" text-anchor="end" font-weight="bold" fill="#1a1a1a">10</text>
<line x1="137.5" y1="468.2" x2="140.7" y2="468.2" stroke="#2b2b2b" stroke-width="0.9"/>
<text x="137.2" y="470.1" font-size="5.5" text-anchor="end" font-weight="bold" fill="#1a1a1a">20</text>
<line x1="137.5" y1="449.9" x2="140.7" y2="449.9" stroke="#2b2b2b" stroke-width="0.9"/>
<text x="137.2" y="451.8" font-size="5.5" text-anchor="end" font-weight="bold" fill="#1a1a1a">30</text>
<line x1="137.5" y1="431.7" x2="140.7" y2="431.7" stroke="#2b2b2b" stroke-width="0.9"/>
<text x="137.2" y="433.6" font-size="5.5" text-anchor="end" font-weight="bold" fill="#1a1a1a">40</text>
<line x1="154.7" y1="504.7" x2="154.7" y2="508.1" stroke="#2b2b2b" stroke-width="1.0"/>
<line x1="175.7" y1="504.7" x2="175.7" y2="508.1" stroke="#2b2b2b" stroke-width="1.0"/>
<text transform="translate(156.7,512.7) rotate(-45)" font-size="5.6" text-anchor="end" font-weight="bold">PT CART</text>
<text transform="translate(177.7,512.7) rotate(-45)" font-size="5.6" text-anchor="end" font-weight="bold">HD CART</text>
<text x="165.5" y="422.4" font-size="7.0" text-anchor="middle" font-weight="bold">BATF3</text>
<text x="165.7" y="429.8" font-size="6.3" text-anchor="middle" fill="#222">P=8.92x10<tspan font-size="4.3" dy="-2.2">-5</tspan></text>
<line x1="153.5" y1="433.5" x2="176.9" y2="433.5" stroke="#000" stroke-width="1.4"/>
<text transform="translate(126.8,468.2) rotate(-90)" font-size="6.0" text-anchor="middle" font-weight="bold" dy="2.1">Scaled H3K27me3 + 1</text>
<rect x="247.5" y="484.2" width="13.4" height="20.4" fill="url(#gp)" stroke="#000" stroke-width="1.3"/>
<rect x="268.5" y="469.1" width="13.4" height="35.5" fill="url(#gh)" stroke="#000" stroke-width="1.3"/>
<line x1="254.2" y1="484.2" x2="254.2" y2="482.2" stroke="#f89a5e" stroke-width="0.8"/>
<line x1="251.2" y1="482.2" x2="257.2" y2="482.2" stroke="#f89a5e" stroke-width="0.8"/>
<line x1="275.2" y1="469.1" x2="275.2" y2="463.7" stroke="#3f2a80" stroke-width="0.8"/>
<line x1="272.2" y1="463.7" x2="278.2" y2="463.7" stroke="#3f2a80" stroke-width="0.8"/>
<circle cx="252.7" cy="473.5" r="1.05" fill="#f89a5e"/>
<circle cx="256.7" cy="474.9" r="1.05" fill="#f89a5e"/>
<circle cx="249.2" cy="477.8" r="1.05" fill="#f89a5e"/>
<circle cx="252.2" cy="480.3" r="1.05" fill="#f89a5e"/>
<circle cx="255.2" cy="481.2" r="1.05" fill="#f89a5e"/>
<circle cx="258.7" cy="480.3" r="1.05" fill="#f89a5e"/>
<circle cx="249.7" cy="482.7" r="1.05" fill="#f89a5e"/>
<circle cx="253.2" cy="485.1" r="1.05" fill="#f89a5e"/>
<circle cx="257.2" cy="485.1" r="1.05" fill="#f89a5e"/>
<circle cx="250.2" cy="489" r="1.05" fill="#f89a5e"/>
<circle cx="254.2" cy="491" r="1.05" fill="#f89a5e"/>
<circle cx="252.2" cy="494.9" r="1.05" fill="#f89a5e"/>
<circle cx="258.2" cy="487.6" r="1.05" fill="#f89a5e"/>
<rect x="274.1" y="448.1" width="2.1" height="2.1" fill="#3f2a80"/>
<rect x="274.1" y="452.4" width="2.1" height="2.1" fill="#3f2a80"/>
<rect x="271.5" y="467.5" width="2.1" height="2.1" fill="#3f2a80"/>
<rect x="274.1" y="470.5" width="2.1" height="2.1" fill="#3f2a80"/>
<rect x="277.1" y="472.9" width="2.1" height="2.1" fill="#3f2a80"/>
<rect x="274.1" y="485.5" width="2.1" height="2.1" fill="#3f2a80"/>
<line x1="240.2" y1="431.3" x2="240.2" y2="505.1" stroke="#2b2b2b" stroke-width="1.0"/>
<line x1="239.7" y1="504.6" x2="289.7" y2="504.6" stroke="#2b2b2b" stroke-width="1.0"/>
<line x1="237" y1="504.6" x2="240.2" y2="504.6" stroke="#2b2b2b" stroke-width="0.9"/>
<text x="236.7" y="506.5" font-size="5.5" text-anchor="end" font-weight="bold" fill="#1a1a1a">0</text>
<line x1="237" y1="480.3" x2="240.2" y2="480.3" stroke="#2b2b2b" stroke-width="0.9"/>
<text x="236.7" y="482.2" font-size="5.5" text-anchor="end" font-weight="bold" fill="#1a1a1a">50</text>
<line x1="237" y1="455.9" x2="240.2" y2="455.9" stroke="#2b2b2b" stroke-width="0.9"/>
<text x="236.7" y="457.8" font-size="5.5" text-anchor="end" font-weight="bold" fill="#1a1a1a">100</text>
<line x1="237" y1="431.6" x2="240.2" y2="431.6" stroke="#2b2b2b" stroke-width="0.9"/>
<text x="236.7" y="433.5" font-size="5.5" text-anchor="end" font-weight="bold" fill="#1a1a1a">150</text>
<line x1="254.2" y1="504.6" x2="254.2" y2="508" stroke="#2b2b2b" stroke-width="1.0"/>
<line x1="275.2" y1="504.6" x2="275.2" y2="508" stroke="#2b2b2b" stroke-width="1.0"/>
<text transform="translate(256.2,512.6) rotate(-45)" font-size="5.6" text-anchor="end" font-weight="bold">PT CART</text>
<text transform="translate(277.2,512.6) rotate(-45)" font-size="5.6" text-anchor="end" font-weight="bold">HD CART</text>
<text x="265" y="422" font-size="7.0" text-anchor="middle" font-weight="bold">CEBPD</text>
<text x="265.2" y="431.8" font-size="6.3" text-anchor="middle" fill="#222">P=0.0001</text>
<line x1="253" y1="435.2" x2="276.4" y2="435.2" stroke="#000" stroke-width="1.4"/>
<text transform="translate(222.5,468.1) rotate(-90)" font-size="6.0" text-anchor="middle" font-weight="bold" dy="2.1">Scaled H3K27me3 + 1</text>
<rect x="347.2" y="484.4" width="13.4" height="20.4" fill="url(#gp)" stroke="#000" stroke-width="1.3"/>
<rect x="368.2" y="462.1" width="13.4" height="42.7" fill="url(#gh)" stroke="#000" stroke-width="1.3"/>
<line x1="353.9" y1="484.4" x2="353.9" y2="481.8" stroke="#f89a5e" stroke-width="0.8"/>
<line x1="350.9" y1="481.8" x2="356.9" y2="481.8" stroke="#f89a5e" stroke-width="0.8"/>
<line x1="374.9" y1="462.1" x2="374.9" y2="457.4" stroke="#3f2a80" stroke-width="0.8"/>
<line x1="371.9" y1="457.4" x2="377.9" y2="457.4" stroke="#3f2a80" stroke-width="0.8"/>
<circle cx="353.9" cy="460.3" r="1.05" fill="#f89a5e"/>
<circle cx="351.4" cy="473" r="1.05" fill="#f89a5e"/>
<circle cx="356.4" cy="474.5" r="1.05" fill="#f89a5e"/>
<circle cx="350.9" cy="482.9" r="1.05" fill="#f89a5e"/>
<circle cx="353.9" cy="484.7" r="1.05" fill="#f89a5e"/>
<circle cx="356.9" cy="485.8" r="1.05" fill="#f89a5e"/>
<circle cx="348.9" cy="486.6" r="1.05" fill="#f89a5e"/>
<circle cx="358.9" cy="488.4" r="1.05" fill="#f89a5e"/>
<circle cx="352.9" cy="490.2" r="1.05" fill="#f89a5e"/>
<circle cx="355.9" cy="492" r="1.05" fill="#f89a5e"/>
<circle cx="350.9" cy="495.7" r="1.05" fill="#f89a5e"/>
<circle cx="353.9" cy="499.3" r="1.05" fill="#f89a5e"/>
<rect x="371.8" y="444.6" width="2.1" height="2.1" fill="#3f2a80"/>
<rect x="376.3" y="446.1" width="2.1" height="2.1" fill="#3f2a80"/>
<rect x="373.8" y="459.9" width="2.1" height="2.1" fill="#3f2a80"/>
<rect x="371.3" y="461.8" width="2.1" height="2.1" fill="#3f2a80"/>
<rect x="376.3" y="467.2" width="2.1" height="2.1" fill="#3f2a80"/>
<rect x="373.8" y="472.7" width="2.1" height="2.1" fill="#3f2a80"/>
<line x1="339.9" y1="431.5" x2="339.9" y2="505.3" stroke="#2b2b2b" stroke-width="1.0"/>
<line x1="339.4" y1="504.8" x2="389.4" y2="504.8" stroke="#2b2b2b" stroke-width="1.0"/>
<line x1="336.7" y1="504.8" x2="339.9" y2="504.8" stroke="#2b2b2b" stroke-width="0.9"/>
<text x="336.4" y="506.7" font-size="5.5" text-anchor="end" font-weight="bold" fill="#1a1a1a">0</text>
<line x1="336.7" y1="486.6" x2="339.9" y2="486.6" stroke="#2b2b2b" stroke-width="0.9"/>
<text x="336.4" y="488.4" font-size="5.5" text-anchor="end" font-weight="bold" fill="#1a1a1a">50</text>
<line x1="336.7" y1="468.3" x2="339.9" y2="468.3" stroke="#2b2b2b" stroke-width="0.9"/>
<text x="336.4" y="470.2" font-size="5.5" text-anchor="end" font-weight="bold" fill="#1a1a1a">100</text>
<line x1="336.7" y1="450.1" x2="339.9" y2="450.1" stroke="#2b2b2b" stroke-width="0.9"/>
<text x="336.4" y="451.9" font-size="5.5" text-anchor="end" font-weight="bold" fill="#1a1a1a">150</text>
<line x1="336.7" y1="431.8" x2="339.9" y2="431.8" stroke="#2b2b2b" stroke-width="0.9"/>
<text x="336.4" y="433.7" font-size="5.5" text-anchor="end" font-weight="bold" fill="#1a1a1a">200</text>
<line x1="353.9" y1="504.8" x2="353.9" y2="508.2" stroke="#2b2b2b" stroke-width="1.0"/>
<line x1="374.9" y1="504.8" x2="374.9" y2="508.2" stroke="#2b2b2b" stroke-width="1.0"/>
<text transform="translate(355.9,512.8) rotate(-45)" font-size="5.6" text-anchor="end" font-weight="bold">PT CART</text>
<text transform="translate(376.9,512.8) rotate(-45)" font-size="5.6" text-anchor="end" font-weight="bold">HD CART</text>
<text x="364.7" y="422" font-size="7.0" text-anchor="middle" font-weight="bold">NR4A3</text>
<text x="364.9" y="429.9" font-size="6.3" text-anchor="middle" fill="#222">P=0.0006</text>
<line x1="352.7" y1="433.4" x2="376.1" y2="433.4" stroke="#000" stroke-width="1.4"/>
<text transform="translate(321.5,468.3) rotate(-90)" font-size="6.0" text-anchor="middle" font-weight="bold" dy="2.1">Scaled H3K27me3 + 1</text>
<rect x="443.6" y="498" width="13.4" height="6.4" fill="url(#gp)" stroke="#000" stroke-width="1.3"/>
<rect x="464.6" y="483.4" width="13.4" height="21" fill="url(#gh)" stroke="#000" stroke-width="1.3"/>
<line x1="450.3" y1="498" x2="450.3" y2="496.6" stroke="#f89a5e" stroke-width="0.8"/>
<line x1="447.3" y1="496.6" x2="453.3" y2="496.6" stroke="#f89a5e" stroke-width="0.8"/>
<line x1="471.3" y1="483.4" x2="471.3" y2="475.2" stroke="#3f2a80" stroke-width="0.8"/>
<line x1="468.3" y1="475.2" x2="474.3" y2="475.2" stroke="#3f2a80" stroke-width="0.8"/>
<circle cx="450.3" cy="487.1" r="1.05" fill="#f89a5e"/>
<circle cx="450.3" cy="488.9" r="1.05" fill="#f89a5e"/>
<circle cx="447.3" cy="493.4" r="1.05" fill="#f89a5e"/>
<circle cx="453.3" cy="493.4" r="1.05" fill="#f89a5e"/>
<circle cx="444.8" cy="495.3" r="1.05" fill="#f89a5e"/>
<circle cx="455.8" cy="495.3" r="1.05" fill="#f89a5e"/>
<circle cx="448.3" cy="497.1" r="1.05" fill="#f89a5e"/>
<circle cx="452.3" cy="498" r="1.05" fill="#f89a5e"/>
<circle cx="450.3" cy="498.9" r="1.05" fill="#f89a5e"/>
<circle cx="446.3" cy="499.8" r="1.05" fill="#f89a5e"/>
<circle cx="454.3" cy="500.8" r="1.05" fill="#f89a5e"/>
<circle cx="448.8" cy="501.7" r="1.05" fill="#f89a5e"/>
<circle cx="451.8" cy="502.6" r="1.05" fill="#f89a5e"/>
<rect x="470.2" y="441.3" width="2.1" height="2.1" fill="#3f2a80"/>
<rect x="470.2" y="465.9" width="2.1" height="2.1" fill="#3f2a80"/>
<rect x="470.2" y="485.1" width="2.1" height="2.1" fill="#3f2a80"/>
<rect x="467.8" y="490.6" width="2.1" height="2.1" fill="#3f2a80"/>
<rect x="472.8" y="494.2" width="2.1" height="2.1" fill="#3f2a80"/>
<rect x="470.2" y="499.7" width="2.1" height="2.1" fill="#3f2a80"/>
<line x1="436.3" y1="431.1" x2="436.3" y2="504.9" stroke="#2b2b2b" stroke-width="1.0"/>
<line x1="435.8" y1="504.4" x2="485.8" y2="504.4" stroke="#2b2b2b" stroke-width="1.0"/>
<line x1="433.1" y1="504.4" x2="436.3" y2="504.4" stroke="#2b2b2b" stroke-width="0.9"/>
<text x="432.8" y="506.3" font-size="5.5" text-anchor="end" font-weight="bold" fill="#1a1a1a">0</text>
<line x1="433.1" y1="486.1" x2="436.3" y2="486.1" stroke="#2b2b2b" stroke-width="0.9"/>
<text x="432.8" y="488" font-size="5.5" text-anchor="end" font-weight="bold" fill="#1a1a1a">20</text>
<line x1="433.1" y1="467.9" x2="436.3" y2="467.9" stroke="#2b2b2b" stroke-width="0.9"/>
<text x="432.8" y="469.8" font-size="5.5" text-anchor="end" font-weight="bold" fill="#1a1a1a">40</text>
<line x1="433.1" y1="449.6" x2="436.3" y2="449.6" stroke="#2b2b2b" stroke-width="0.9"/>
<text x="432.8" y="451.5" font-size="5.5" text-anchor="end" font-weight="bold" fill="#1a1a1a">60</text>
<line x1="433.1" y1="431.4" x2="436.3" y2="431.4" stroke="#2b2b2b" stroke-width="0.9"/>
<text x="432.8" y="433.3" font-size="5.5" text-anchor="end" font-weight="bold" fill="#1a1a1a">80</text>
<line x1="450.3" y1="504.4" x2="450.3" y2="507.8" stroke="#2b2b2b" stroke-width="1.0"/>
<line x1="471.3" y1="504.4" x2="471.3" y2="507.8" stroke="#2b2b2b" stroke-width="1.0"/>
<text transform="translate(452.3,512.4) rotate(-45)" font-size="5.6" text-anchor="end" font-weight="bold">PT CART</text>
<text transform="translate(473.3,512.4) rotate(-45)" font-size="5.6" text-anchor="end" font-weight="bold">HD CART</text>
<text x="461.1" y="422" font-size="7.0" text-anchor="middle" font-weight="bold">ETV1</text>
<text x="461.3" y="431.2" font-size="6.3" text-anchor="middle" fill="#222">P=0.0130</text>
<line x1="449.1" y1="434.8" x2="472.5" y2="434.8" stroke="#000" stroke-width="1.4"/>
<text transform="translate(421,467.9) rotate(-90)" font-size="6.0" text-anchor="middle" font-weight="bold" dy="2.1">Scaled H3K27me3 + 1</text>
<rect x="539.6" y="482.8" width="13.4" height="22" fill="url(#gp)" stroke="#000" stroke-width="1.3"/>
<rect x="560.6" y="465" width="13.4" height="39.8" fill="url(#gh)" stroke="#000" stroke-width="1.3"/>
<line x1="546.3" y1="482.8" x2="546.3" y2="477.2" stroke="#f89a5e" stroke-width="0.8"/>
<line x1="543.3" y1="477.2" x2="549.3" y2="477.2" stroke="#f89a5e" stroke-width="0.8"/>
<line x1="567.3" y1="465" x2="567.3" y2="457.6" stroke="#3f2a80" stroke-width="0.8"/>
<line x1="564.3" y1="457.6" x2="570.3" y2="457.6" stroke="#3f2a80" stroke-width="0.8"/>
<circle cx="546.3" cy="436.4" r="1.05" fill="#f89a5e"/>
<circle cx="546.3" cy="453.5" r="1.05" fill="#f89a5e"/>
<circle cx="546.3" cy="465.7" r="1.05" fill="#f89a5e"/>
<circle cx="546.3" cy="477.9" r="1.05" fill="#f89a5e"/>
<circle cx="543.3" cy="480.4" r="1.05" fill="#f89a5e"/>
<circle cx="549.3" cy="485.3" r="1.05" fill="#f89a5e"/>
<circle cx="546.3" cy="487.7" r="1.05" fill="#f89a5e"/>
<circle cx="542.3" cy="492.6" r="1.05" fill="#f89a5e"/>
<circle cx="550.3" cy="492.6" r="1.05" fill="#f89a5e"/>
<circle cx="542.3" cy="497.5" r="1.05" fill="#f89a5e"/>
<circle cx="546.3" cy="497.5" r="1.05" fill="#f89a5e"/>
<circle cx="550.3" cy="497.5" r="1.05" fill="#f89a5e"/>
<rect x="566.2" y="442.7" width="2.1" height="2.1" fill="#3f2a80"/>
<rect x="566.2" y="445.1" width="2.1" height="2.1" fill="#3f2a80"/>
<rect x="566.2" y="447.6" width="2.1" height="2.1" fill="#3f2a80"/>
<rect x="563.8" y="469.5" width="2.1" height="2.1" fill="#3f2a80"/>
<rect x="568.8" y="472" width="2.1" height="2.1" fill="#3f2a80"/>
<rect x="566.2" y="489.1" width="2.1" height="2.1" fill="#3f2a80"/>
<line x1="532.3" y1="431.2" x2="532.3" y2="505.3" stroke="#2b2b2b" stroke-width="1.0"/>
<line x1="531.8" y1="504.8" x2="581.8" y2="504.8" stroke="#2b2b2b" stroke-width="1.0"/>
<line x1="529.1" y1="504.8" x2="532.3" y2="504.8" stroke="#2b2b2b" stroke-width="0.9"/>
<text x="528.8" y="506.7" font-size="5.5" text-anchor="end" font-weight="bold" fill="#1a1a1a">0</text>
<line x1="529.1" y1="480.4" x2="532.3" y2="480.4" stroke="#2b2b2b" stroke-width="0.9"/>
<text x="528.8" y="482.3" font-size="5.5" text-anchor="end" font-weight="bold" fill="#1a1a1a">10</text>
<line x1="529.1" y1="455.9" x2="532.3" y2="455.9" stroke="#2b2b2b" stroke-width="0.9"/>
<text x="528.8" y="457.8" font-size="5.5" text-anchor="end" font-weight="bold" fill="#1a1a1a">20</text>
<line x1="529.1" y1="431.5" x2="532.3" y2="431.5" stroke="#2b2b2b" stroke-width="0.9"/>
<text x="528.8" y="433.4" font-size="5.5" text-anchor="end" font-weight="bold" fill="#1a1a1a">30</text>
<line x1="546.3" y1="504.8" x2="546.3" y2="508.2" stroke="#2b2b2b" stroke-width="1.0"/>
<line x1="567.3" y1="504.8" x2="567.3" y2="508.2" stroke="#2b2b2b" stroke-width="1.0"/>
<text transform="translate(548.3,512.8) rotate(-45)" font-size="5.6" text-anchor="end" font-weight="bold">PT CART</text>
<text transform="translate(569.3,512.8) rotate(-45)" font-size="5.6" text-anchor="end" font-weight="bold">HD CART</text>
<text x="557.1" y="422" font-size="7.0" text-anchor="middle" font-weight="bold">EPAS1</text>
<text x="557.3" y="430.2" font-size="6.3" text-anchor="middle" fill="#222">P=0.0175</text>
<line x1="545.1" y1="433.8" x2="568.5" y2="433.8" stroke="#000" stroke-width="1.4"/>
<text transform="translate(519,468.1) rotate(-90)" font-size="6.0" text-anchor="middle" font-weight="bold" dy="2.1">Scaled H3K27me3 + 1</text>
<rect x="636.7" y="459.1" width="13.4" height="45.6" fill="url(#gp)" stroke="#000" stroke-width="1.3"/>
<rect x="657.7" y="489.4" width="13.4" height="15.3" fill="url(#gh)" stroke="#000" stroke-width="1.3"/>
<line x1="643.4" y1="459.1" x2="643.4" y2="454.8" stroke="#f89a5e" stroke-width="0.8"/>
<line x1="640.4" y1="454.8" x2="646.4" y2="454.8" stroke="#f89a5e" stroke-width="0.8"/>
<line x1="664.4" y1="489.4" x2="664.4" y2="484.3" stroke="#3f2a80" stroke-width="0.8"/>
<line x1="661.4" y1="484.3" x2="667.4" y2="484.3" stroke="#3f2a80" stroke-width="0.8"/>
<circle cx="641.4" cy="435.4" r="1.05" fill="#f89a5e"/>
<circle cx="645.4" cy="439.1" r="1.05" fill="#f89a5e"/>
<circle cx="640.4" cy="442.7" r="1.05" fill="#f89a5e"/>
<circle cx="646.4" cy="442.7" r="1.05" fill="#f89a5e"/>
<circle cx="638.4" cy="453.7" r="1.05" fill="#f89a5e"/>
<circle cx="641.4" cy="453.7" r="1.05" fill="#f89a5e"/>
<circle cx="645.4" cy="453.7" r="1.05" fill="#f89a5e"/>
<circle cx="648.4" cy="453.7" r="1.05" fill="#f89a5e"/>
<circle cx="641.4" cy="457.3" r="1.05" fill="#f89a5e"/>
<circle cx="643.4" cy="461" r="1.05" fill="#f89a5e"/>
<circle cx="643.4" cy="468.2" r="1.05" fill="#f89a5e"/>
<circle cx="643.4" cy="475.5" r="1.05" fill="#f89a5e"/>
<circle cx="643.4" cy="482.8" r="1.05" fill="#f89a5e"/>
<circle cx="643.4" cy="490.1" r="1.05" fill="#f89a5e"/>
<rect x="663.4" y="467.2" width="2.1" height="2.1" fill="#3f2a80"/>
<rect x="663.4" y="478.1" width="2.1" height="2.1" fill="#3f2a80"/>
<rect x="663.4" y="485.4" width="2.1" height="2.1" fill="#3f2a80"/>
<rect x="661.4" y="492.7" width="2.1" height="2.1" fill="#3f2a80"/>
<rect x="665.4" y="492.7" width="2.1" height="2.1" fill="#3f2a80"/>
<rect x="663.4" y="501.8" width="2.1" height="2.1" fill="#3f2a80"/>
<line x1="629.4" y1="431.5" x2="629.4" y2="505.2" stroke="#2b2b2b" stroke-width="1.0"/>
<line x1="628.9" y1="504.7" x2="678.9" y2="504.7" stroke="#2b2b2b" stroke-width="1.0"/>
<line x1="626.2" y1="504.7" x2="629.4" y2="504.7" stroke="#2b2b2b" stroke-width="0.9"/>
<text x="625.9" y="506.6" font-size="5.5" text-anchor="end" font-weight="bold" fill="#1a1a1a">0</text>
<line x1="626.2" y1="486.5" x2="629.4" y2="486.5" stroke="#2b2b2b" stroke-width="0.9"/>
<text x="625.9" y="488.4" font-size="5.5" text-anchor="end" font-weight="bold" fill="#1a1a1a">5</text>
<line x1="626.2" y1="468.2" x2="629.4" y2="468.2" stroke="#2b2b2b" stroke-width="0.9"/>
<text x="625.9" y="470.1" font-size="5.5" text-anchor="end" font-weight="bold" fill="#1a1a1a">10</text>
<line x1="626.2" y1="450" x2="629.4" y2="450" stroke="#2b2b2b" stroke-width="0.9"/>
<text x="625.9" y="451.9" font-size="5.5" text-anchor="end" font-weight="bold" fill="#1a1a1a">15</text>
<line x1="626.2" y1="431.8" x2="629.4" y2="431.8" stroke="#2b2b2b" stroke-width="0.9"/>
<text x="625.9" y="433.7" font-size="5.5" text-anchor="end" font-weight="bold" fill="#1a1a1a">20</text>
<line x1="643.4" y1="504.7" x2="643.4" y2="508.1" stroke="#2b2b2b" stroke-width="1.0"/>
<line x1="664.4" y1="504.7" x2="664.4" y2="508.1" stroke="#2b2b2b" stroke-width="1.0"/>
<text transform="translate(645.4,512.7) rotate(-45)" font-size="5.6" text-anchor="end" font-weight="bold">PT CART</text>
<text transform="translate(666.4,512.7) rotate(-45)" font-size="5.6" text-anchor="end" font-weight="bold">HD CART</text>
<text x="654.2" y="422" font-size="7.0" text-anchor="middle" font-weight="bold">KLF2</text>
<text x="654.4" y="427.3" font-size="6.3" text-anchor="middle" fill="#222">P=0.0223</text>
<line x1="642.2" y1="430.8" x2="665.6" y2="430.8" stroke="#000" stroke-width="1.4"/>
<text transform="translate(614.4,468.2) rotate(-90)" font-size="6.0" text-anchor="middle" font-weight="bold" dy="2.1">Scaled H3K27me3 + 1</text>
<rect x="35.3" y="589.1" width="13.4" height="39.4" fill="url(#gp)" stroke="#000" stroke-width="1.3"/>
<rect x="56.3" y="611.5" width="13.4" height="17" fill="url(#gh)" stroke="#000" stroke-width="1.3"/>
<line x1="42" y1="589.1" x2="42" y2="584.8" stroke="#f89a5e" stroke-width="0.8"/>
<line x1="39" y1="584.8" x2="45" y2="584.8" stroke="#f89a5e" stroke-width="0.8"/>
<line x1="63" y1="611.5" x2="63" y2="610" stroke="#3f2a80" stroke-width="0.8"/>
<line x1="60" y1="610" x2="66" y2="610" stroke="#3f2a80" stroke-width="0.8"/>
<circle cx="42" cy="560.5" r="1.05" fill="#f89a5e"/>
<circle cx="42" cy="573.8" r="1.05" fill="#f89a5e"/>
<circle cx="39" cy="582.3" r="1.05" fill="#f89a5e"/>
<circle cx="45" cy="584.8" r="1.05" fill="#f89a5e"/>
<circle cx="40" cy="585.2" r="1.05" fill="#f89a5e"/>
<circle cx="45" cy="588.4" r="1.05" fill="#f89a5e"/>
<circle cx="42" cy="592" r="1.05" fill="#f89a5e"/>
<circle cx="39" cy="594.5" r="1.05" fill="#f89a5e"/>
<circle cx="42" cy="599.3" r="1.05" fill="#f89a5e"/>
<circle cx="39" cy="604.2" r="1.05" fill="#f89a5e"/>
<circle cx="45" cy="605.4" r="1.05" fill="#f89a5e"/>
<rect x="62" y="604.4" width="2.1" height="2.1" fill="#3f2a80"/>
<rect x="59" y="609.2" width="2.1" height="2.1" fill="#3f2a80"/>
<rect x="65" y="610" width="2.1" height="2.1" fill="#3f2a80"/>
<rect x="62" y="610.4" width="2.1" height="2.1" fill="#3f2a80"/>
<rect x="60" y="611.7" width="2.1" height="2.1" fill="#3f2a80"/>
<rect x="64" y="614.1" width="2.1" height="2.1" fill="#3f2a80"/>
<line x1="28" y1="555.3" x2="28" y2="629" stroke="#2b2b2b" stroke-width="1.0"/>
<line x1="27.5" y1="628.5" x2="77.5" y2="628.5" stroke="#2b2b2b" stroke-width="1.0"/>
<line x1="24.8" y1="628.5" x2="28" y2="628.5" stroke="#2b2b2b" stroke-width="0.9"/>
<text x="24.5" y="630.4" font-size="5.5" text-anchor="end" font-weight="bold" fill="#1a1a1a">0</text>
<line x1="24.8" y1="604.2" x2="28" y2="604.2" stroke="#2b2b2b" stroke-width="0.9"/>
<text x="24.5" y="606.1" font-size="5.5" text-anchor="end" font-weight="bold" fill="#1a1a1a">100</text>
<line x1="24.8" y1="579.9" x2="28" y2="579.9" stroke="#2b2b2b" stroke-width="0.9"/>
<text x="24.5" y="581.8" font-size="5.5" text-anchor="end" font-weight="bold" fill="#1a1a1a">200</text>
<line x1="24.8" y1="555.6" x2="28" y2="555.6" stroke="#2b2b2b" stroke-width="0.9"/>
<text x="24.5" y="557.5" font-size="5.5" text-anchor="end" font-weight="bold" fill="#1a1a1a">300</text>
<line x1="42" y1="628.5" x2="42" y2="631.9" stroke="#2b2b2b" stroke-width="1.0"/>
<line x1="63" y1="628.5" x2="63" y2="631.9" stroke="#2b2b2b" stroke-width="1.0"/>
<text transform="translate(44,636.5) rotate(-45)" font-size="5.6" text-anchor="end" font-weight="bold">PT CART</text>
<text transform="translate(65,636.5) rotate(-45)" font-size="5.6" text-anchor="end" font-weight="bold">HD CART</text>
<text x="52.8" y="545.4" font-size="7.0" text-anchor="middle" font-weight="bold">TRERF1</text>
<text x="53" y="552.8" font-size="6.3" text-anchor="middle" fill="#222">P=3.36x10<tspan font-size="4.3" dy="-2.2">-5</tspan></text>
<line x1="40.8" y1="557" x2="64.2" y2="557" stroke="#000" stroke-width="1.4"/>
<text transform="translate(9.5,592) rotate(-90)" font-size="6.0" text-anchor="middle" font-weight="bold" dy="2.1">Scaled H3K4me2 +1</text>
<rect x="113.3" y="615.4" width="13.4" height="13.1" fill="url(#gp)" stroke="#000" stroke-width="1.3"/>
<rect x="134.3" y="591.6" width="13.4" height="36.9" fill="url(#gh)" stroke="#000" stroke-width="1.3"/>
<line x1="120" y1="615.4" x2="120" y2="614.2" stroke="#f89a5e" stroke-width="0.8"/>
<line x1="117" y1="614.2" x2="123" y2="614.2" stroke="#f89a5e" stroke-width="0.8"/>
<line x1="141" y1="591.6" x2="141" y2="587.7" stroke="#3f2a80" stroke-width="0.8"/>
<line x1="138" y1="587.7" x2="144" y2="587.7" stroke="#3f2a80" stroke-width="0.8"/>
<circle cx="115" cy="610" r="1.05" fill="#f89a5e"/>
<circle cx="118" cy="611" r="1.05" fill="#f89a5e"/>
<circle cx="122" cy="610.5" r="1.05" fill="#f89a5e"/>
<circle cx="125" cy="612" r="1.05" fill="#f89a5e"/>
<circle cx="116" cy="612.9" r="1.05" fill="#f89a5e"/>
<circle cx="120" cy="613.9" r="1.05" fill="#f89a5e"/>
<circle cx="124" cy="614.9" r="1.05" fill="#f89a5e"/>
<circle cx="117" cy="616.4" r="1.05" fill="#f89a5e"/>
<circle cx="123" cy="617.8" r="1.05" fill="#f89a5e"/>
<circle cx="120" cy="619.8" r="1.05" fill="#f89a5e"/>
<circle cx="115" cy="615.9" r="1.05" fill="#f89a5e"/>
<rect x="139.9" y="576.4" width="2.1" height="2.1" fill="#3f2a80"/>
<rect x="139.9" y="584.7" width="2.1" height="2.1" fill="#3f2a80"/>
<rect x="139.9" y="588.1" width="2.1" height="2.1" fill="#3f2a80"/>
<rect x="136.9" y="593.4" width="2.1" height="2.1" fill="#3f2a80"/>
<rect x="141.9" y="602.2" width="2.1" height="2.1" fill="#3f2a80"/>
<rect x="137.9" y="602.7" width="2.1" height="2.1" fill="#3f2a80"/>
<line x1="106" y1="555.3" x2="106" y2="629" stroke="#2b2b2b" stroke-width="1.0"/>
<line x1="105.5" y1="628.5" x2="155.5" y2="628.5" stroke="#2b2b2b" stroke-width="1.0"/>
<line x1="102.8" y1="628.5" x2="106" y2="628.5" stroke="#2b2b2b" stroke-width="0.9"/>
<text x="102.5" y="630.4" font-size="5.5" text-anchor="end" font-weight="bold" fill="#1a1a1a">0</text>
<line x1="102.8" y1="604.2" x2="106" y2="604.2" stroke="#2b2b2b" stroke-width="0.9"/>
<text x="102.5" y="606.1" font-size="5.5" text-anchor="end" font-weight="bold" fill="#1a1a1a">500</text>
<line x1="102.8" y1="579.9" x2="106" y2="579.9" stroke="#2b2b2b" stroke-width="0.9"/>
<text x="102.5" y="581.8" font-size="5.5" text-anchor="end" font-weight="bold" fill="#1a1a1a">1000</text>
<line x1="102.8" y1="555.6" x2="106" y2="555.6" stroke="#2b2b2b" stroke-width="0.9"/>
<text x="102.5" y="557.5" font-size="5.5" text-anchor="end" font-weight="bold" fill="#1a1a1a">1500</text>
<line x1="120" y1="628.5" x2="120" y2="631.9" stroke="#2b2b2b" stroke-width="1.0"/>
<line x1="141" y1="628.5" x2="141" y2="631.9" stroke="#2b2b2b" stroke-width="1.0"/>
<text transform="translate(122,636.5) rotate(-45)" font-size="5.6" text-anchor="end" font-weight="bold">PT CART</text>
<text transform="translate(143,636.5) rotate(-45)" font-size="5.6" text-anchor="end" font-weight="bold">HD CART</text>
<text x="130.8" y="545.4" font-size="7.0" text-anchor="middle" font-weight="bold">TCF7</text>
<text x="131" y="555.2" font-size="6.3" text-anchor="middle" fill="#222">P=0.0043</text>
<line x1="118.8" y1="559.8" x2="142.2" y2="559.8" stroke="#000" stroke-width="1.4"/>
<text transform="translate(84,592) rotate(-90)" font-size="6.0" text-anchor="middle" font-weight="bold" dy="2.1">Scaled H3K4me2 +1</text>
<rect x="188.2" y="587.2" width="13.4" height="41.3" fill="url(#gp)" stroke="#000" stroke-width="1.3"/>
<rect x="209.2" y="610" width="13.4" height="18.5" fill="url(#gh)" stroke="#000" stroke-width="1.3"/>
<line x1="194.9" y1="587.2" x2="194.9" y2="584.3" stroke="#f89a5e" stroke-width="0.8"/>
<line x1="191.9" y1="584.3" x2="197.9" y2="584.3" stroke="#f89a5e" stroke-width="0.8"/>
<line x1="215.9" y1="610" x2="215.9" y2="606.1" stroke="#3f2a80" stroke-width="0.8"/>
<line x1="212.9" y1="606.1" x2="218.9" y2="606.1" stroke="#3f2a80" stroke-width="0.8"/>
<circle cx="192.9" cy="571.2" r="1.05" fill="#f89a5e"/>
<circle cx="197.9" cy="572.6" r="1.05" fill="#f89a5e"/>
<circle cx="190.9" cy="579.9" r="1.05" fill="#f89a5e"/>
<circle cx="194.9" cy="579.9" r="1.05" fill="#f89a5e"/>
<circle cx="198.9" cy="580.9" r="1.05" fill="#f89a5e"/>
<circle cx="191.9" cy="582.3" r="1.05" fill="#f89a5e"/>
<circle cx="197.9" cy="584.8" r="1.05" fill="#f89a5e"/>
<circle cx="194.9" cy="589.6" r="1.05" fill="#f89a5e"/>
<circle cx="192.9" cy="592" r="1.05" fill="#f89a5e"/>
<circle cx="194.9" cy="599.3" r="1.05" fill="#f89a5e"/>
<circle cx="197.9" cy="604.2" r="1.05" fill="#f89a5e"/>
<circle cx="193.9" cy="610" r="1.05" fill="#f89a5e"/>
<rect x="212.8" y="596.8" width="2.1" height="2.1" fill="#3f2a80"/>
<rect x="216.8" y="597.3" width="2.1" height="2.1" fill="#3f2a80"/>
<rect x="214.8" y="608" width="2.1" height="2.1" fill="#3f2a80"/>
<rect x="211.8" y="610.4" width="2.1" height="2.1" fill="#3f2a80"/>
<rect x="217.8" y="612.9" width="2.1" height="2.1" fill="#3f2a80"/>
<rect x="214.8" y="621.6" width="2.1" height="2.1" fill="#3f2a80"/>
<line x1="180.9" y1="555.3" x2="180.9" y2="629" stroke="#2b2b2b" stroke-width="1.0"/>
<line x1="180.4" y1="628.5" x2="230.4" y2="628.5" stroke="#2b2b2b" stroke-width="1.0"/>
<line x1="177.7" y1="628.5" x2="180.9" y2="628.5" stroke="#2b2b2b" stroke-width="0.9"/>
<text x="177.4" y="630.4" font-size="5.5" text-anchor="end" font-weight="bold" fill="#1a1a1a">0</text>
<line x1="177.7" y1="604.2" x2="180.9" y2="604.2" stroke="#2b2b2b" stroke-width="0.9"/>
<text x="177.4" y="606.1" font-size="5.5" text-anchor="end" font-weight="bold" fill="#1a1a1a">50</text>
<line x1="177.7" y1="579.9" x2="180.9" y2="579.9" stroke="#2b2b2b" stroke-width="0.9"/>
<text x="177.4" y="581.8" font-size="5.5" text-anchor="end" font-weight="bold" fill="#1a1a1a">100</text>
<line x1="177.7" y1="555.6" x2="180.9" y2="555.6" stroke="#2b2b2b" stroke-width="0.9"/>
<text x="177.4" y="557.5" font-size="5.5" text-anchor="end" font-weight="bold" fill="#1a1a1a">150</text>
<line x1="194.9" y1="628.5" x2="194.9" y2="631.9" stroke="#2b2b2b" stroke-width="1.0"/>
<line x1="215.9" y1="628.5" x2="215.9" y2="631.9" stroke="#2b2b2b" stroke-width="1.0"/>
<text transform="translate(196.9,636.5) rotate(-45)" font-size="5.6" text-anchor="end" font-weight="bold">PT CART</text>
<text transform="translate(217.9,636.5) rotate(-45)" font-size="5.6" text-anchor="end" font-weight="bold">HD CART</text>
<text x="205.7" y="545.2" font-size="7.0" text-anchor="middle" font-weight="bold">MYB</text>
<text x="205.9" y="552.8" font-size="6.3" text-anchor="middle" fill="#222">P=4.64x10<tspan font-size="4.3" dy="-2.2">-5</tspan></text>
<line x1="193.7" y1="557" x2="217.1" y2="557" stroke="#000" stroke-width="1.4"/>
<text transform="translate(162.8,592) rotate(-90)" font-size="6.0" text-anchor="middle" font-weight="bold" dy="2.1">Scaled H3K4me2 +1</text>
<rect x="263.6" y="593" width="13.4" height="35.5" fill="url(#gp)" stroke="#000" stroke-width="1.3"/>
<rect x="284.6" y="614.9" width="13.4" height="13.6" fill="url(#gh)" stroke="#000" stroke-width="1.3"/>
<line x1="270.3" y1="593" x2="270.3" y2="590.1" stroke="#f89a5e" stroke-width="0.8"/>
<line x1="267.3" y1="590.1" x2="273.3" y2="590.1" stroke="#f89a5e" stroke-width="0.8"/>
<line x1="291.3" y1="614.9" x2="291.3" y2="610.5" stroke="#3f2a80" stroke-width="0.8"/>
<line x1="288.3" y1="610.5" x2="294.3" y2="610.5" stroke="#3f2a80" stroke-width="0.8"/>
<circle cx="270.3" cy="569.2" r="1.05" fill="#f89a5e"/>
<circle cx="268.3" cy="578.9" r="1.05" fill="#f89a5e"/>
<circle cx="272.3" cy="579.9" r="1.05" fill="#f89a5e"/>
<circle cx="266.3" cy="590.6" r="1.05" fill="#f89a5e"/>
<circle cx="269.3" cy="591.6" r="1.05" fill="#f89a5e"/>
<circle cx="272.3" cy="591.1" r="1.05" fill="#f89a5e"/>
<circle cx="275.3" cy="592.5" r="1.05" fill="#f89a5e"/>
<circle cx="270.3" cy="593.5" r="1.05" fill="#f89a5e"/>
<circle cx="267.3" cy="596.9" r="1.05" fill="#f89a5e"/>
<circle cx="270.3" cy="601.8" r="1.05" fill="#f89a5e"/>
<circle cx="273.3" cy="606.6" r="1.05" fill="#f89a5e"/>
<circle cx="270.3" cy="613.9" r="1.05" fill="#f89a5e"/>
<rect x="290.2" y="593.4" width="2.1" height="2.1" fill="#3f2a80"/>
<rect x="290.2" y="608" width="2.1" height="2.1" fill="#3f2a80"/>
<rect x="287.2" y="615.3" width="2.1" height="2.1" fill="#3f2a80"/>
<rect x="293.2" y="617.7" width="2.1" height="2.1" fill="#3f2a80"/>
<rect x="288.2" y="623.6" width="2.1" height="2.1" fill="#3f2a80"/>
<rect x="292.2" y="625" width="2.1" height="2.1" fill="#3f2a80"/>
<line x1="256.3" y1="555.3" x2="256.3" y2="629" stroke="#2b2b2b" stroke-width="1.0"/>
<line x1="255.8" y1="628.5" x2="305.8" y2="628.5" stroke="#2b2b2b" stroke-width="1.0"/>
<line x1="253.1" y1="628.5" x2="256.3" y2="628.5" stroke="#2b2b2b" stroke-width="0.9"/>
<text x="252.8" y="630.4" font-size="5.5" text-anchor="end" font-weight="bold" fill="#1a1a1a">0</text>
<line x1="253.1" y1="604.2" x2="256.3" y2="604.2" stroke="#2b2b2b" stroke-width="0.9"/>
<text x="252.8" y="606.1" font-size="5.5" text-anchor="end" font-weight="bold" fill="#1a1a1a">50</text>
<line x1="253.1" y1="579.9" x2="256.3" y2="579.9" stroke="#2b2b2b" stroke-width="0.9"/>
<text x="252.8" y="581.8" font-size="5.5" text-anchor="end" font-weight="bold" fill="#1a1a1a">100</text>
<line x1="253.1" y1="555.6" x2="256.3" y2="555.6" stroke="#2b2b2b" stroke-width="0.9"/>
<text x="252.8" y="557.5" font-size="5.5" text-anchor="end" font-weight="bold" fill="#1a1a1a">150</text>
<line x1="270.3" y1="628.5" x2="270.3" y2="631.9" stroke="#2b2b2b" stroke-width="1.0"/>
<line x1="291.3" y1="628.5" x2="291.3" y2="631.9" stroke="#2b2b2b" stroke-width="1.0"/>
<text transform="translate(272.3,636.5) rotate(-45)" font-size="5.6" text-anchor="end" font-weight="bold">PT CART</text>
<text transform="translate(293.3,636.5) rotate(-45)" font-size="5.6" text-anchor="end" font-weight="bold">HD CART</text>
<text x="281.1" y="545.2" font-size="7.0" text-anchor="middle" font-weight="bold">ETV1</text>
<text x="281.3" y="552.8" font-size="6.3" text-anchor="middle" fill="#222">P=8.88x10<tspan font-size="4.3" dy="-2.2">-5</tspan></text>
<line x1="269.1" y1="557" x2="292.5" y2="557" stroke="#000" stroke-width="1.4"/>
<text transform="translate(238.2,592) rotate(-90)" font-size="6.0" text-anchor="middle" font-weight="bold" dy="2.1">Scaled H3K4me2 +1</text>
<rect x="338.6" y="595.5" width="13.4" height="33" fill="url(#gp)" stroke="#000" stroke-width="1.3"/>
<rect x="359.6" y="619.2" width="13.4" height="9.3" fill="url(#gh)" stroke="#000" stroke-width="1.3"/>
<line x1="345.3" y1="595.5" x2="345.3" y2="592" stroke="#f89a5e" stroke-width="0.8"/>
<line x1="342.3" y1="592" x2="348.3" y2="592" stroke="#f89a5e" stroke-width="0.8"/>
<line x1="366.3" y1="619.2" x2="366.3" y2="617.7" stroke="#3f2a80" stroke-width="0.8"/>
<line x1="363.3" y1="617.7" x2="369.3" y2="617.7" stroke="#3f2a80" stroke-width="0.8"/>
<circle cx="345.3" cy="563.8" r="1.05" fill="#f89a5e"/>
<circle cx="343.3" cy="576" r="1.05" fill="#f89a5e"/>
<circle cx="348.3" cy="578.1" r="1.05" fill="#f89a5e"/>
<circle cx="345.3" cy="591.2" r="1.05" fill="#f89a5e"/>
<circle cx="342.3" cy="592" r="1.05" fill="#f89a5e"/>
<circle cx="348.3" cy="595" r="1.05" fill="#f89a5e"/>
<circle cx="345.3" cy="599.3" r="1.05" fill="#f89a5e"/>
<circle cx="343.3" cy="602.3" r="1.05" fill="#f89a5e"/>
<circle cx="347.3" cy="605.2" r="1.05" fill="#f89a5e"/>
<circle cx="345.3" cy="611" r="1.05" fill="#f89a5e"/>
<circle cx="345.3" cy="616.8" r="1.05" fill="#f89a5e"/>
<rect x="363.2" y="612.3" width="2.1" height="2.1" fill="#3f2a80"/>
<rect x="367.2" y="613.5" width="2.1" height="2.1" fill="#3f2a80"/>
<rect x="365.2" y="615.8" width="2.1" height="2.1" fill="#3f2a80"/>
<rect x="361.2" y="618.7" width="2.1" height="2.1" fill="#3f2a80"/>
<rect x="369.2" y="621.6" width="2.1" height="2.1" fill="#3f2a80"/>
<rect x="365.2" y="623.1" width="2.1" height="2.1" fill="#3f2a80"/>
<line x1="331.3" y1="555.3" x2="331.3" y2="629" stroke="#2b2b2b" stroke-width="1.0"/>
<line x1="330.8" y1="628.5" x2="380.8" y2="628.5" stroke="#2b2b2b" stroke-width="1.0"/>
<line x1="328.1" y1="628.5" x2="331.3" y2="628.5" stroke="#2b2b2b" stroke-width="0.9"/>
<text x="327.8" y="630.4" font-size="5.5" text-anchor="end" font-weight="bold" fill="#1a1a1a">0</text>
<line x1="328.1" y1="613.9" x2="331.3" y2="613.9" stroke="#2b2b2b" stroke-width="0.9"/>
<text x="327.8" y="615.8" font-size="5.5" text-anchor="end" font-weight="bold" fill="#1a1a1a">50</text>
<line x1="328.1" y1="599.3" x2="331.3" y2="599.3" stroke="#2b2b2b" stroke-width="0.9"/>
<text x="327.8" y="601.2" font-size="5.5" text-anchor="end" font-weight="bold" fill="#1a1a1a">100</text>
<line x1="328.1" y1="584.8" x2="331.3" y2="584.8" stroke="#2b2b2b" stroke-width="0.9"/>
<text x="327.8" y="586.7" font-size="5.5" text-anchor="end" font-weight="bold" fill="#1a1a1a">150</text>
<line x1="328.1" y1="570.2" x2="331.3" y2="570.2" stroke="#2b2b2b" stroke-width="0.9"/>
<text x="327.8" y="572.1" font-size="5.5" text-anchor="end" font-weight="bold" fill="#1a1a1a">200</text>
<line x1="328.1" y1="555.6" x2="331.3" y2="555.6" stroke="#2b2b2b" stroke-width="0.9"/>
<text x="327.8" y="557.5" font-size="5.5" text-anchor="end" font-weight="bold" fill="#1a1a1a">250</text>
<line x1="345.3" y1="628.5" x2="345.3" y2="631.9" stroke="#2b2b2b" stroke-width="1.0"/>
<line x1="366.3" y1="628.5" x2="366.3" y2="631.9" stroke="#2b2b2b" stroke-width="1.0"/>
<text transform="translate(347.3,636.5) rotate(-45)" font-size="5.6" text-anchor="end" font-weight="bold">PT CART</text>
<text transform="translate(368.3,636.5) rotate(-45)" font-size="5.6" text-anchor="end" font-weight="bold">HD CART</text>
<text x="356.1" y="545.2" font-size="7.0" text-anchor="middle" font-weight="bold">ZNF282</text>
<text x="356.3" y="552.8" font-size="6.3" text-anchor="middle" fill="#222">P=9.83x10<tspan font-size="4.3" dy="-2.2">-6</tspan></text>
<line x1="344.1" y1="557" x2="367.5" y2="557" stroke="#000" stroke-width="1.4"/>
<text transform="translate(313.2,592) rotate(-90)" font-size="6.0" text-anchor="middle" font-weight="bold" dy="2.1">Scaled H3K4me2 +1</text>
<rect x="413.2" y="618.7" width="13.4" height="9.8" fill="url(#gp)" stroke="#000" stroke-width="1.3"/>
<rect x="434.2" y="586.2" width="13.4" height="42.3" fill="url(#gh)" stroke="#000" stroke-width="1.3"/>
<line x1="419.9" y1="618.7" x2="419.9" y2="617.6" stroke="#f89a5e" stroke-width="0.8"/>
<line x1="416.9" y1="617.6" x2="422.9" y2="617.6" stroke="#f89a5e" stroke-width="0.8"/>
<line x1="440.9" y1="586.2" x2="440.9" y2="581.1" stroke="#3f2a80" stroke-width="0.8"/>
<line x1="437.9" y1="581.1" x2="443.9" y2="581.1" stroke="#3f2a80" stroke-width="0.8"/>
<circle cx="417.9" cy="611.7" r="1.05" fill="#f89a5e"/>
<circle cx="421.9" cy="611.7" r="1.05" fill="#f89a5e"/>
<circle cx="415.9" cy="613.9" r="1.05" fill="#f89a5e"/>
<circle cx="423.9" cy="615.4" r="1.05" fill="#f89a5e"/>
<circle cx="419.9" cy="617.6" r="1.05" fill="#f89a5e"/>
<circle cx="416.9" cy="619.8" r="1.05" fill="#f89a5e"/>
<circle cx="422.9" cy="619.8" r="1.05" fill="#f89a5e"/>
<circle cx="419.9" cy="621.2" r="1.05" fill="#f89a5e"/>
<circle cx="415.9" cy="622.7" r="1.05" fill="#f89a5e"/>
<circle cx="423.9" cy="622.7" r="1.05" fill="#f89a5e"/>
<circle cx="419.9" cy="624.9" r="1.05" fill="#f89a5e"/>
<rect x="439.8" y="563.3" width="2.1" height="2.1" fill="#3f2a80"/>
<rect x="439.8" y="576.4" width="2.1" height="2.1" fill="#3f2a80"/>
<rect x="437.3" y="580.1" width="2.1" height="2.1" fill="#3f2a80"/>
<rect x="442.3" y="591" width="2.1" height="2.1" fill="#3f2a80"/>
<rect x="439.8" y="599.7" width="2.1" height="2.1" fill="#3f2a80"/>
<rect x="439.8" y="603.4" width="2.1" height="2.1" fill="#3f2a80"/>
<line x1="405.9" y1="555.3" x2="405.9" y2="629" stroke="#2b2b2b" stroke-width="1.0"/>
<line x1="405.4" y1="628.5" x2="455.4" y2="628.5" stroke="#2b2b2b" stroke-width="1.0"/>
<line x1="402.7" y1="628.5" x2="405.9" y2="628.5" stroke="#2b2b2b" stroke-width="0.9"/>
<text x="402.4" y="630.4" font-size="5.5" text-anchor="end" font-weight="bold" fill="#1a1a1a">0</text>
<line x1="402.7" y1="613.9" x2="405.9" y2="613.9" stroke="#2b2b2b" stroke-width="0.9"/>
<text x="402.4" y="615.8" font-size="5.5" text-anchor="end" font-weight="bold" fill="#1a1a1a">20</text>
<line x1="402.7" y1="599.3" x2="405.9" y2="599.3" stroke="#2b2b2b" stroke-width="0.9"/>
<text x="402.4" y="601.2" font-size="5.5" text-anchor="end" font-weight="bold" fill="#1a1a1a">40</text>
<line x1="402.7" y1="584.8" x2="405.9" y2="584.8" stroke="#2b2b2b" stroke-width="0.9"/>
<text x="402.4" y="586.7" font-size="5.5" text-anchor="end" font-weight="bold" fill="#1a1a1a">60</text>
<line x1="402.7" y1="570.2" x2="405.9" y2="570.2" stroke="#2b2b2b" stroke-width="0.9"/>
<text x="402.4" y="572.1" font-size="5.5" text-anchor="end" font-weight="bold" fill="#1a1a1a">80</text>
<line x1="402.7" y1="555.6" x2="405.9" y2="555.6" stroke="#2b2b2b" stroke-width="0.9"/>
<text x="402.4" y="557.5" font-size="5.5" text-anchor="end" font-weight="bold" fill="#1a1a1a">100</text>
<line x1="419.9" y1="628.5" x2="419.9" y2="631.9" stroke="#2b2b2b" stroke-width="1.0"/>
<line x1="440.9" y1="628.5" x2="440.9" y2="631.9" stroke="#2b2b2b" stroke-width="1.0"/>
<text transform="translate(421.9,636.5) rotate(-45)" font-size="5.6" text-anchor="end" font-weight="bold">PT CART</text>
<text transform="translate(442.9,636.5) rotate(-45)" font-size="5.6" text-anchor="end" font-weight="bold">HD CART</text>
<text x="430.7" y="545.2" font-size="7.0" text-anchor="middle" font-weight="bold">ZNF532</text>
<text x="430.9" y="552.8" font-size="6.3" text-anchor="middle" fill="#222">P=3.11x10<tspan font-size="4.3" dy="-2.2">-5</tspan></text>
<line x1="418.7" y1="557" x2="442.1" y2="557" stroke="#000" stroke-width="1.4"/>
<text transform="translate(388.2,592) rotate(-90)" font-size="6.0" text-anchor="middle" font-weight="bold" dy="2.1">Scaled H3K4me2 +1</text>
<rect x="487.9" y="594.6" width="13.4" height="33.9" fill="url(#gp)" stroke="#000" stroke-width="1.3"/>
<rect x="508.9" y="615.7" width="13.4" height="12.8" fill="url(#gh)" stroke="#000" stroke-width="1.3"/>
<line x1="494.6" y1="594.6" x2="494.6" y2="590.6" stroke="#f89a5e" stroke-width="0.8"/>
<line x1="491.6" y1="590.6" x2="497.6" y2="590.6" stroke="#f89a5e" stroke-width="0.8"/>
<line x1="515.6" y1="615.7" x2="515.6" y2="613.9" stroke="#3f2a80" stroke-width="0.8"/>
<line x1="512.6" y1="613.9" x2="518.6" y2="613.9" stroke="#3f2a80" stroke-width="0.8"/>
<circle cx="494.6" cy="569.1" r="1.05" fill="#f89a5e"/>
<circle cx="494.6" cy="579.3" r="1.05" fill="#f89a5e"/>
<circle cx="489.6" cy="584.8" r="1.05" fill="#f89a5e"/>
<circle cx="492.6" cy="585.5" r="1.05" fill="#f89a5e"/>
<circle cx="496.6" cy="585.9" r="1.05" fill="#f89a5e"/>
<circle cx="499.6" cy="584.8" r="1.05" fill="#f89a5e"/>
<circle cx="494.6" cy="590.2" r="1.05" fill="#f89a5e"/>
<circle cx="492.6" cy="596.4" r="1.05" fill="#f89a5e"/>
<circle cx="496.6" cy="599.3" r="1.05" fill="#f89a5e"/>
<circle cx="494.6" cy="610.3" r="1.05" fill="#f89a5e"/>
<circle cx="494.6" cy="619.4" r="1.05" fill="#f89a5e"/>
<rect x="514.6" y="606.3" width="2.1" height="2.1" fill="#3f2a80"/>
<rect x="511.6" y="614.7" width="2.1" height="2.1" fill="#3f2a80"/>
<rect x="517.6" y="615.4" width="2.1" height="2.1" fill="#3f2a80"/>
<rect x="514.6" y="616.5" width="2.1" height="2.1" fill="#3f2a80"/>
<rect x="514.6" y="622.3" width="2.1" height="2.1" fill="#3f2a80"/>
<line x1="480.6" y1="555.3" x2="480.6" y2="629" stroke="#2b2b2b" stroke-width="1.0"/>
<line x1="480.1" y1="628.5" x2="530.1" y2="628.5" stroke="#2b2b2b" stroke-width="1.0"/>
<line x1="477.4" y1="628.5" x2="480.6" y2="628.5" stroke="#2b2b2b" stroke-width="0.9"/>
<text x="477.1" y="630.4" font-size="5.5" text-anchor="end" font-weight="bold" fill="#1a1a1a">0</text>
<line x1="477.4" y1="610.3" x2="480.6" y2="610.3" stroke="#2b2b2b" stroke-width="0.9"/>
<text x="477.1" y="612.2" font-size="5.5" text-anchor="end" font-weight="bold" fill="#1a1a1a">50</text>
<line x1="477.4" y1="592" x2="480.6" y2="592" stroke="#2b2b2b" stroke-width="0.9"/>
<text x="477.1" y="593.9" font-size="5.5" text-anchor="end" font-weight="bold" fill="#1a1a1a">100</text>
<line x1="477.4" y1="573.8" x2="480.6" y2="573.8" stroke="#2b2b2b" stroke-width="0.9"/>
<text x="477.1" y="575.7" font-size="5.5" text-anchor="end" font-weight="bold" fill="#1a1a1a">150</text>
<line x1="477.4" y1="555.6" x2="480.6" y2="555.6" stroke="#2b2b2b" stroke-width="0.9"/>
<text x="477.1" y="557.5" font-size="5.5" text-anchor="end" font-weight="bold" fill="#1a1a1a">200</text>
<line x1="494.6" y1="628.5" x2="494.6" y2="631.9" stroke="#2b2b2b" stroke-width="1.0"/>
<line x1="515.6" y1="628.5" x2="515.6" y2="631.9" stroke="#2b2b2b" stroke-width="1.0"/>
<text transform="translate(496.6,636.5) rotate(-45)" font-size="5.6" text-anchor="end" font-weight="bold">PT CART</text>
<text transform="translate(517.6,636.5) rotate(-45)" font-size="5.6" text-anchor="end" font-weight="bold">HD CART</text>
<text x="505.4" y="545.4" font-size="7.0" text-anchor="middle" font-weight="bold">PPARG</text>
<text x="505.6" y="555.2" font-size="6.3" text-anchor="middle" fill="#222">P=0.0014</text>
<line x1="493.4" y1="559.8" x2="516.8" y2="559.8" stroke="#000" stroke-width="1.4"/>
<text transform="translate(462.3,592) rotate(-90)" font-size="6.0" text-anchor="middle" font-weight="bold" dy="2.1">Scaled H3K4me2 +1</text>
<rect x="562.9" y="593.1" width="13.4" height="35.4" fill="url(#gp)" stroke="#000" stroke-width="1.3"/>
<rect x="583.9" y="611.7" width="13.4" height="16.8" fill="url(#gh)" stroke="#000" stroke-width="1.3"/>
<line x1="569.6" y1="593.1" x2="569.6" y2="588.7" stroke="#f89a5e" stroke-width="0.8"/>
<line x1="566.6" y1="588.7" x2="572.6" y2="588.7" stroke="#f89a5e" stroke-width="0.8"/>
<line x1="590.6" y1="611.7" x2="590.6" y2="608.1" stroke="#3f2a80" stroke-width="0.8"/>
<line x1="587.6" y1="608.1" x2="593.6" y2="608.1" stroke="#3f2a80" stroke-width="0.8"/>
<circle cx="569.6" cy="565.8" r="1.05" fill="#f89a5e"/>
<circle cx="567.6" cy="573.1" r="1.05" fill="#f89a5e"/>
<circle cx="573.6" cy="573.8" r="1.05" fill="#f89a5e"/>
<circle cx="569.6" cy="577.5" r="1.05" fill="#f89a5e"/>
<circle cx="572.6" cy="592" r="1.05" fill="#f89a5e"/>
<circle cx="566.6" cy="595" r="1.05" fill="#f89a5e"/>
<circle cx="569.6" cy="599.3" r="1.05" fill="#f89a5e"/>
<circle cx="571.6" cy="602.3" r="1.05" fill="#f89a5e"/>
<circle cx="569.6" cy="611" r="1.05" fill="#f89a5e"/>
<circle cx="569.6" cy="613.9" r="1.05" fill="#f89a5e"/>
<rect x="589.6" y="595.4" width="2.1" height="2.1" fill="#3f2a80"/>
<rect x="589.6" y="605.6" width="2.1" height="2.1" fill="#3f2a80"/>
<rect x="585.6" y="615.8" width="2.1" height="2.1" fill="#3f2a80"/>
<rect x="589.6" y="615.8" width="2.1" height="2.1" fill="#3f2a80"/>
<rect x="593.6" y="615.8" width="2.1" height="2.1" fill="#3f2a80"/>
<rect x="587.6" y="612.9" width="2.1" height="2.1" fill="#3f2a80"/>
<line x1="555.6" y1="555.3" x2="555.6" y2="629" stroke="#2b2b2b" stroke-width="1.0"/>
<line x1="555.1" y1="628.5" x2="605.1" y2="628.5" stroke="#2b2b2b" stroke-width="1.0"/>
<line x1="552.4" y1="628.5" x2="555.6" y2="628.5" stroke="#2b2b2b" stroke-width="0.9"/>
<text x="552.1" y="630.4" font-size="5.5" text-anchor="end" font-weight="bold" fill="#1a1a1a">0</text>
<line x1="552.4" y1="613.9" x2="555.6" y2="613.9" stroke="#2b2b2b" stroke-width="0.9"/>
<text x="552.1" y="615.8" font-size="5.5" text-anchor="end" font-weight="bold" fill="#1a1a1a">100</text>
<line x1="552.4" y1="599.3" x2="555.6" y2="599.3" stroke="#2b2b2b" stroke-width="0.9"/>
<text x="552.1" y="601.2" font-size="5.5" text-anchor="end" font-weight="bold" fill="#1a1a1a">200</text>
<line x1="552.4" y1="584.8" x2="555.6" y2="584.8" stroke="#2b2b2b" stroke-width="0.9"/>
<text x="552.1" y="586.7" font-size="5.5" text-anchor="end" font-weight="bold" fill="#1a1a1a">300</text>
<line x1="552.4" y1="570.2" x2="555.6" y2="570.2" stroke="#2b2b2b" stroke-width="0.9"/>
<text x="552.1" y="572.1" font-size="5.5" text-anchor="end" font-weight="bold" fill="#1a1a1a">400</text>
<line x1="552.4" y1="555.6" x2="555.6" y2="555.6" stroke="#2b2b2b" stroke-width="0.9"/>
<text x="552.1" y="557.5" font-size="5.5" text-anchor="end" font-weight="bold" fill="#1a1a1a">500</text>
<line x1="569.6" y1="628.5" x2="569.6" y2="631.9" stroke="#2b2b2b" stroke-width="1.0"/>
<line x1="590.6" y1="628.5" x2="590.6" y2="631.9" stroke="#2b2b2b" stroke-width="1.0"/>
<text transform="translate(571.6,636.5) rotate(-45)" font-size="5.6" text-anchor="end" font-weight="bold">PT CART</text>
<text transform="translate(592.6,636.5) rotate(-45)" font-size="5.6" text-anchor="end" font-weight="bold">HD CART</text>
<text x="580.4" y="545.4" font-size="7.0" text-anchor="middle" font-weight="bold">TOX</text>
<text x="580.6" y="555.2" font-size="6.3" text-anchor="middle" fill="#222">P=0.0061</text>
<line x1="568.4" y1="559.8" x2="591.8" y2="559.8" stroke="#000" stroke-width="1.4"/>
<text transform="translate(537.3,592) rotate(-90)" font-size="6.0" text-anchor="middle" font-weight="bold" dy="2.1">Scaled H3K4me2 +1</text>
<rect x="636.1" y="605.7" width="13.4" height="22.8" fill="url(#gp)" stroke="#000" stroke-width="1.3"/>
<rect x="657.1" y="616.4" width="13.4" height="12.1" fill="url(#gh)" stroke="#000" stroke-width="1.3"/>
<line x1="642.8" y1="605.7" x2="642.8" y2="601.8" stroke="#f89a5e" stroke-width="0.8"/>
<line x1="639.8" y1="601.8" x2="645.8" y2="601.8" stroke="#f89a5e" stroke-width="0.8"/>
<line x1="663.8" y1="616.4" x2="663.8" y2="614.4" stroke="#3f2a80" stroke-width="0.8"/>
<line x1="660.8" y1="614.4" x2="666.8" y2="614.4" stroke="#3f2a80" stroke-width="0.8"/>
<circle cx="642.8" cy="576" r="1.05" fill="#f89a5e"/>
<circle cx="642.8" cy="588.6" r="1.05" fill="#f89a5e"/>
<circle cx="642.8" cy="595.5" r="1.05" fill="#f89a5e"/>
<circle cx="638.8" cy="601.8" r="1.05" fill="#f89a5e"/>
<circle cx="644.8" cy="602.7" r="1.05" fill="#f89a5e"/>
<circle cx="641.8" cy="604.2" r="1.05" fill="#f89a5e"/>
<circle cx="646.8" cy="606.6" r="1.05" fill="#f89a5e"/>
<circle cx="642.8" cy="609.1" r="1.05" fill="#f89a5e"/>
<circle cx="639.8" cy="611.5" r="1.05" fill="#f89a5e"/>
<circle cx="645.8" cy="616.4" r="1.05" fill="#f89a5e"/>
<circle cx="642.8" cy="618.8" r="1.05" fill="#f89a5e"/>
<circle cx="642.8" cy="622.7" r="1.05" fill="#f89a5e"/>
<rect x="662.8" y="607" width="2.1" height="2.1" fill="#3f2a80"/>
<rect x="660.8" y="611.9" width="2.1" height="2.1" fill="#3f2a80"/>
<rect x="664.8" y="613.8" width="2.1" height="2.1" fill="#3f2a80"/>
<rect x="662.8" y="617.7" width="2.1" height="2.1" fill="#3f2a80"/>
<rect x="659.8" y="620.2" width="2.1" height="2.1" fill="#3f2a80"/>
<rect x="662.8" y="623.6" width="2.1" height="2.1" fill="#3f2a80"/>
<line x1="628.8" y1="555.3" x2="628.8" y2="629" stroke="#2b2b2b" stroke-width="1.0"/>
<line x1="628.3" y1="628.5" x2="678.3" y2="628.5" stroke="#2b2b2b" stroke-width="1.0"/>
<line x1="625.6" y1="628.5" x2="628.8" y2="628.5" stroke="#2b2b2b" stroke-width="0.9"/>
<text x="625.3" y="630.4" font-size="5.5" text-anchor="end" font-weight="bold" fill="#1a1a1a">0</text>
<line x1="625.6" y1="604.2" x2="628.8" y2="604.2" stroke="#2b2b2b" stroke-width="0.9"/>
<text x="625.3" y="606.1" font-size="5.5" text-anchor="end" font-weight="bold" fill="#1a1a1a">50</text>
<line x1="625.6" y1="579.9" x2="628.8" y2="579.9" stroke="#2b2b2b" stroke-width="0.9"/>
<text x="625.3" y="581.8" font-size="5.5" text-anchor="end" font-weight="bold" fill="#1a1a1a">100</text>
<line x1="625.6" y1="555.6" x2="628.8" y2="555.6" stroke="#2b2b2b" stroke-width="0.9"/>
<text x="625.3" y="557.5" font-size="5.5" text-anchor="end" font-weight="bold" fill="#1a1a1a">150</text>
<line x1="642.8" y1="628.5" x2="642.8" y2="631.9" stroke="#2b2b2b" stroke-width="1.0"/>
<line x1="663.8" y1="628.5" x2="663.8" y2="631.9" stroke="#2b2b2b" stroke-width="1.0"/>
<text transform="translate(644.8,636.5) rotate(-45)" font-size="5.6" text-anchor="end" font-weight="bold">PT CART</text>
<text transform="translate(665.8,636.5) rotate(-45)" font-size="5.6" text-anchor="end" font-weight="bold">HD CART</text>
<text x="653.6" y="545.4" font-size="7.0" text-anchor="middle" font-weight="bold">EPAS1</text>
<text x="653.8" y="555.2" font-size="6.3" text-anchor="middle" fill="#222">P=0.0103</text>
<line x1="641.6" y1="559.8" x2="665" y2="559.8" stroke="#000" stroke-width="1.4"/>
<text transform="translate(610.3,592) rotate(-90)" font-size="6.0" text-anchor="middle" font-weight="bold" dy="2.1">Scaled H3K4me2 +1</text>
</svg></body></html>
